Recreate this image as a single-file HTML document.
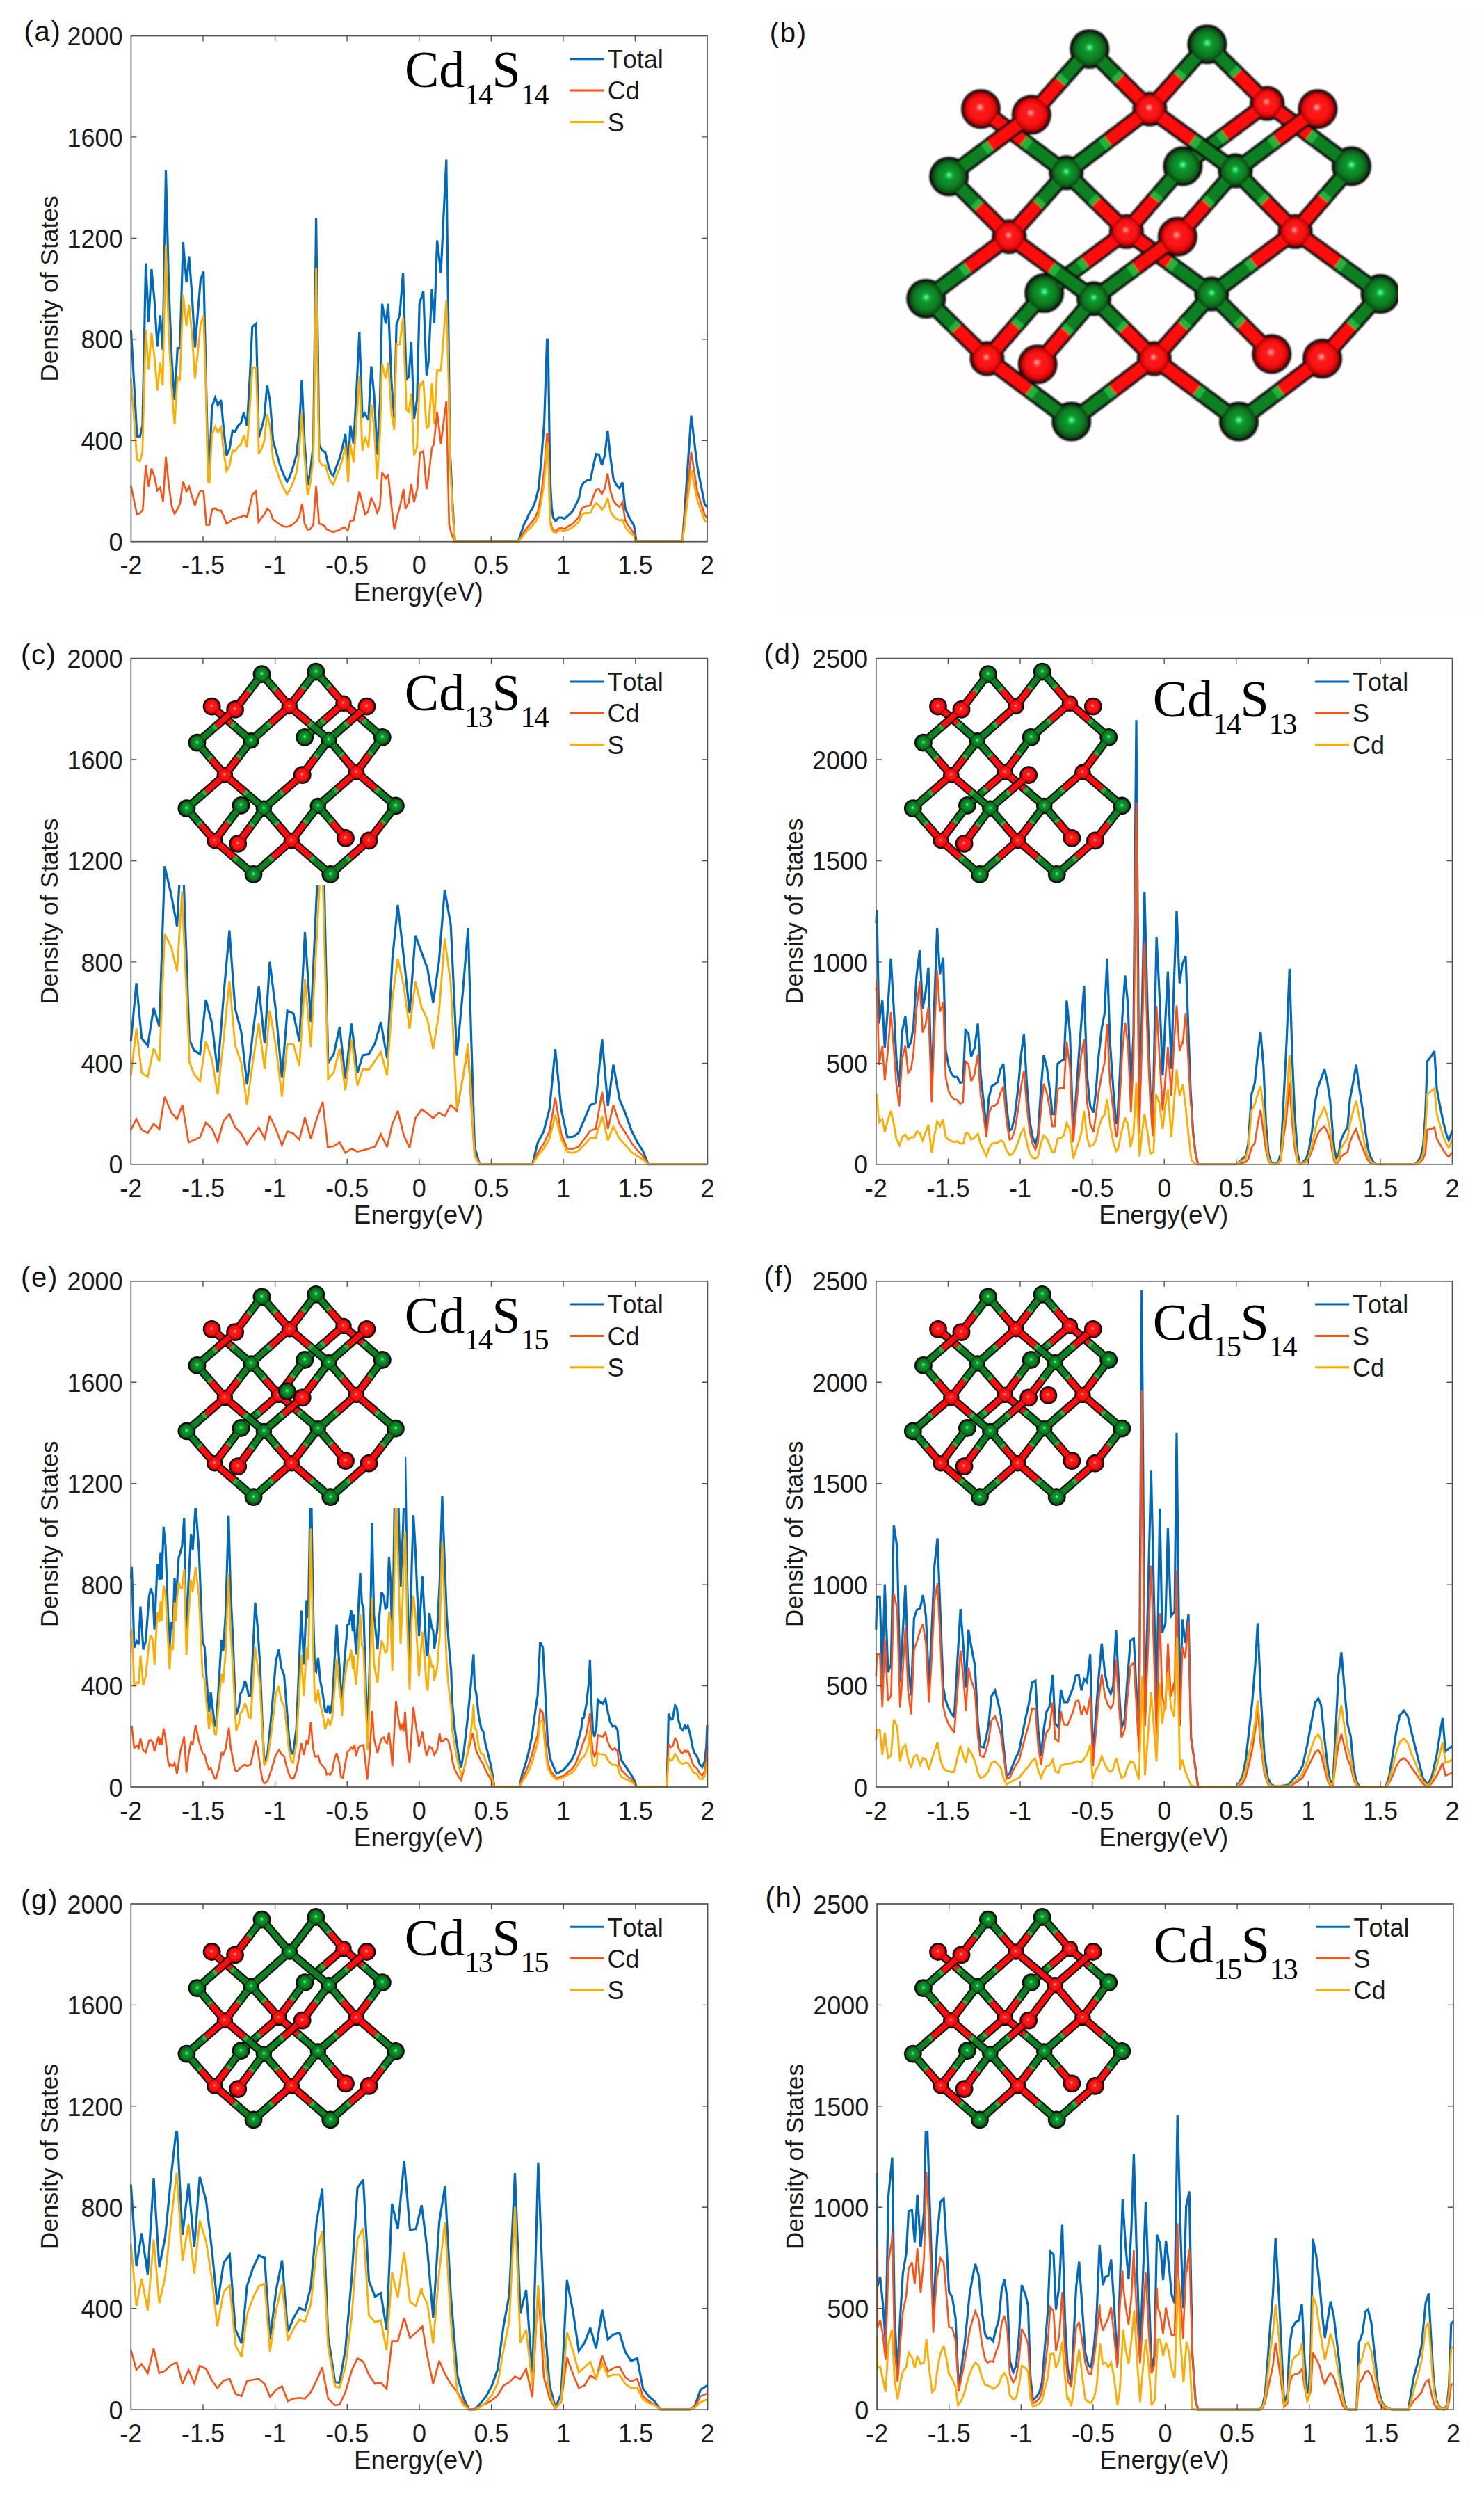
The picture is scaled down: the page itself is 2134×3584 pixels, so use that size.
<!DOCTYPE html>
<html><head><meta charset="utf-8"><title>DOS figure</title><style>html,body{margin:0;padding:0;background:#fff}
svg{display:block}
.t{font-family:"Liberation Sans", Arial, sans-serif;font-size:36px;fill:#1a1a1a;font-kerning:none}
.pl{font-family:"Liberation Sans", Arial, sans-serif;font-size:40px;fill:#111;font-kerning:none;letter-spacing:1.7px}
.xl{font-family:"Liberation Sans", Arial, sans-serif;font-size:36.8px;fill:#1a1a1a;font-kerning:none}
.yl{font-family:"Liberation Sans", Arial, sans-serif;font-size:35.4px;fill:#1a1a1a;font-kerning:none}
.ti{font-family:"Liberation Serif", "Times New Roman", serif;font-size:74px;fill:#000;font-kerning:none}
.sub{font-size:42.5px;letter-spacing:-1.6px}
</style></head><body>
<svg width="2134" height="3584" viewBox="0 0 2134 3584">
<rect width="2134" height="3584" fill="#fff"/>
<rect x="1122" y="19" width="1012" height="862" fill="#fffdfd"/>
<defs>
<radialGradient id="gr" cx="0.5" cy="0.5" r="0.5" fx="0.47" fy="0.44">
<stop offset="0" stop-color="#ffe0e0"/><stop offset="0.1" stop-color="#ff7070"/><stop offset="0.24" stop-color="#ff1c1c"/><stop offset="0.72" stop-color="#f51010"/><stop offset="1" stop-color="#a80000"/>
</radialGradient>
<radialGradient id="gg" cx="0.5" cy="0.5" r="0.5" fx="0.5" fy="0.45">
<stop offset="0" stop-color="#8affc0"/><stop offset="0.1" stop-color="#24ea6c"/><stop offset="0.26" stop-color="#129a30"/><stop offset="0.7" stop-color="#0e7c22"/><stop offset="1" stop-color="#064212"/>
</radialGradient>
<filter id="bl1" x="-5%" y="-5%" width="110%" height="110%"><feGaussianBlur stdDeviation="0.55"/></filter><filter id="bl2" x="-5%" y="-5%" width="110%" height="110%"><feGaussianBlur stdDeviation="1.0"/></filter>
</defs>
<clipPath id="cpa"><rect x="186.4" y="51.5" width="832.6" height="729.2"/></clipPath>
<g clip-path="url(#cpa)">
<path d="M188.4 474.6 L193.0 555.1 L197.0 627.3 L201.3 627.3 L204.9 611.9 L209.6 378.7 L213.6 462.8 L217.9 387.0 L222.1 432.0 L226.2 498.3 L230.4 453.3 L234.0 503.0 L238.5 245.0 L242.7 413.1 L247.0 517.2 L251.0 575.2 L255.3 500.7 L258.6 500.7 L263.3 348.0 L268.1 406.0 L271.9 368.6 L276.1 424.9 L280.4 499.5 L284.4 450.9 L288.4 402.4 L292.7 390.6 L296.0 531.4 L299.1 671.1 L301.2 672.3 L304.8 584.7 L309.5 571.7 L313.3 582.3 L317.8 575.2 L321.6 616.7 L325.8 654.5 L330.1 645.1 L334.4 619.0 L338.1 620.2 L342.4 611.9 L346.4 608.4 L350.7 593.0 L355.2 611.9 L359.2 543.3 L362.8 469.9 L368.2 465.2 L372.2 628.5 L376.5 614.3 L380.0 600.1 L384.1 553.9 L388.3 576.4 L392.6 633.2 L396.6 647.4 L402.5 668.8 L408.5 684.1 L412.7 692.4 L416.7 685.3 L421.5 671.1 L426.2 654.5 L429.8 623.8 L434.0 546.8 L438.0 635.6 L442.3 697.2 L446.3 678.2 L450.6 638.0 L454.6 313.6 L458.9 639.2 L462.9 647.4 L467.6 649.8 L468.3 652.2 L472.3 669.9 L476.1 680.6 L479.4 684.1 L483.7 671.1 L487.9 660.5 L492.0 645.1 L496.7 623.8 L500.7 678.2 L503.8 611.9 L508.5 638.0 L512.6 562.2 L516.8 477.0 L521.1 600.1 L524.4 594.2 L529.8 603.6 L533.9 526.7 L538.1 569.3 L542.4 653.4 L546.4 578.8 L549.5 436.7 L554.7 465.2 L558.2 436.7 L563.0 550.4 L567.0 602.5 L570.1 467.5 L574.8 452.1 L579.6 392.2 L584.3 545.6 L587.8 542.1 L591.4 491.2 L595.4 602.5 L599.7 574.1 L603.2 436.7 L608.7 419.0 L613.4 539.7 L616.2 519.6 L621.0 415.9 L624.5 464.0 L628.6 345.6 L634.0 392.2 L641.8 229.6 L647.0 645.1 L650.6 720.8 L654.1 778.7 L745.2 778.7 L749.5 765.8 L753.5 754.0 L757.8 745.7 L761.8 736.2 L766.0 730.3 L770.1 719.6 L774.3 703.1 L778.4 661.6 L782.6 607.2 L786.6 488.4 L788.1 488.4 L790.9 685.3 L793.3 730.3 L795.6 744.5 L799.2 749.2 L803.2 744.0 L807.5 744.0 L811.7 745.7 L815.8 742.1 L819.8 738.6 L824.0 733.9 L828.1 725.6 L832.3 717.3 L835.9 699.5 L839.4 693.6 L844.2 690.5 L848.9 690.5 L853.2 669.9 L857.2 652.7 L861.2 653.4 L865.5 668.8 L869.7 654.5 L873.8 619.0 L878.0 659.3 L882.0 687.7 L886.3 697.2 L890.8 701.9 L895.1 693.6 L899.1 730.3 L903.4 741.0 L907.6 748.8 L911.6 755.2 L915.2 778.7 L981.5 778.7 L994.0 597.7 L1002.8 671.1 L1013.4 725.1 L1017.0 729.1" fill="none" stroke="#0068bd" stroke-width="3.20" stroke-linejoin="miter" stroke-miterlimit="3" stroke-linecap="butt"/>
<path d="M188.4 698.3 L193.0 720.8 L197.0 739.3 L201.3 737.9 L205.3 732.7 L209.6 669.2 L213.6 699.5 L217.9 673.5 L222.1 685.3 L226.2 705.4 L230.4 700.7 L234.5 720.8 L238.5 656.9 L242.7 697.2 L247.0 727.9 L251.0 738.6 L255.3 731.5 L258.8 724.4 L263.3 692.4 L268.1 706.6 L271.9 699.5 L276.1 713.7 L280.4 726.8 L284.4 713.7 L288.4 705.4 L292.7 706.6 L296.7 754.5 L301.2 754.5 L304.8 732.7 L309.5 730.8 L313.3 733.9 L317.8 733.9 L321.6 742.1 L325.8 752.8 L330.1 750.4 L334.4 746.4 L338.1 745.7 L342.4 744.0 L346.4 743.3 L350.7 741.0 L355.2 742.9 L359.2 727.9 L362.8 711.4 L368.2 706.2 L371.8 750.4 L376.0 744.5 L380.0 739.8 L384.1 731.5 L388.3 734.6 L392.6 746.9 L396.6 749.7 L402.5 754.0 L408.5 757.1 L412.7 757.5 L416.7 756.3 L421.5 753.5 L426.2 749.2 L430.5 742.1 L434.5 724.4 L438.0 752.8 L442.3 761.6 L446.3 760.6 L450.6 754.0 L454.6 698.3 L458.9 752.8 L462.9 754.0 L467.6 756.8 L468.3 759.9 L472.3 762.3 L476.1 763.9 L479.4 764.6 L483.7 763.4 L487.9 762.3 L492.0 759.2 L496.0 758.2 L500.2 763.0 L503.8 748.8 L508.5 748.1 L512.6 727.9 L516.8 706.6 L521.1 723.2 L525.1 739.3 L529.1 735.5 L533.9 716.1 L538.1 724.4 L542.4 737.4 L546.4 727.9 L549.5 679.4 L554.7 687.7 L558.2 681.8 L563.0 727.9 L567.0 761.1 L571.3 742.1 L575.5 726.8 L580.3 703.1 L583.1 731.5 L587.8 722.0 L591.4 696.0 L595.4 722.0 L600.2 701.9 L603.9 651.0 L608.7 648.6 L613.4 703.1 L616.2 685.3 L621.0 643.9 L623.8 639.2 L628.6 591.8 L634.0 638.0 L641.8 576.4 L645.8 754.0 L649.4 768.2 L654.1 778.7 L745.2 778.7 L749.5 771.7 L753.5 764.6 L757.8 758.7 L761.8 754.0 L766.0 749.2 L770.1 743.3 L774.3 732.7 L778.4 709.0 L782.6 675.9 L786.6 623.8 L788.1 623.8 L790.9 744.5 L793.3 757.5 L795.6 762.3 L799.2 763.9 L803.2 759.9 L807.5 759.2 L811.7 760.6 L815.8 757.5 L819.8 755.2 L824.0 752.8 L828.1 748.1 L832.3 743.3 L835.9 732.7 L839.4 729.1 L844.2 727.5 L848.9 726.8 L853.2 713.7 L857.2 704.3 L861.2 703.1 L865.5 710.2 L869.7 701.9 L873.8 680.6 L878.0 706.6 L882.0 719.6 L886.3 725.6 L890.8 729.1 L895.1 722.0 L899.1 748.1 L903.4 755.2 L907.6 761.1 L911.6 767.0 L915.2 778.7 L981.5 778.7 L994.0 649.8 L1002.8 706.6 L1013.4 740.0 L1017.0 745.0" fill="none" stroke="#ff5014" stroke-width="2.60" stroke-linejoin="miter" stroke-miterlimit="3" stroke-linecap="butt"/>
<path d="M188.4 544.5 L193.0 605.2 L197.0 661.0 L201.3 662.8 L204.9 649.4 L205.3 630.2 L209.6 474.1 L213.6 531.4 L217.9 478.7 L222.1 512.9 L226.2 561.7 L230.4 521.4 L234.0 554.0 L234.5 524.1 L238.5 351.7 L242.7 482.9 L247.0 561.4 L251.0 609.9 L255.3 541.8 L258.6 547.5 L258.8 541.4 L263.3 423.9 L268.1 468.4 L271.9 437.9 L276.1 481.2 L280.4 544.5 L284.4 507.5 L288.4 466.4 L292.7 453.6 L296.0 559.8 L296.7 584.3 L299.1 692.2 L301.2 693.4 L304.8 624.7 L309.5 613.4 L313.3 621.3 L317.8 614.4 L321.6 648.7 L325.8 676.9 L330.1 669.6 L334.4 647.2 L338.1 648.9 L342.4 642.1 L346.4 639.2 L350.7 625.9 L355.2 643.0 L359.2 587.6 L362.8 528.5 L368.2 528.3 L371.8 635.5 L372.2 652.2 L376.0 645.7 L376.5 644.5 L380.0 634.1 L384.1 595.1 L388.3 614.7 L392.6 660.9 L396.6 672.6 L402.5 690.1 L408.5 703.0 L412.7 710.8 L416.7 704.8 L421.5 693.0 L426.2 680.2 L429.8 653.9 L430.5 642.4 L434.0 592.6 L434.5 604.6 L438.0 657.4 L442.3 711.9 L446.3 694.1 L450.6 659.2 L454.6 385.0 L458.9 661.7 L462.9 668.9 L467.6 668.8 L468.3 668.6 L472.3 684.2 L476.1 693.4 L479.4 696.4 L483.7 684.3 L487.9 674.8 L492.0 661.9 L496.0 644.7 L496.7 640.9 L500.2 684.9 L500.7 693.2 L503.8 638.0 L508.5 664.5 L512.6 605.7 L516.8 540.0 L521.1 648.3 L524.4 630.9 L525.1 629.7 L529.1 639.9 L529.8 643.5 L533.9 581.5 L538.1 616.4 L542.4 689.1 L546.4 623.1 L549.5 523.2 L554.7 544.3 L558.2 521.4 L563.0 594.6 L567.0 617.7 L570.1 494.8 L571.3 495.5 L574.8 495.1 L575.5 488.6 L579.6 456.6 L580.3 481.9 L583.1 548.2 L584.3 588.8 L587.8 592.1 L591.4 565.9 L595.4 654.3 L599.7 643.7 L600.2 626.9 L603.2 550.7 L603.9 556.8 L608.7 547.4 L613.4 615.2 L616.2 613.0 L621.0 550.9 L623.8 593.5 L624.5 609.8 L628.6 532.5 L634.0 533.0 L641.8 432.1 L645.8 573.8 L647.0 663.1 L649.4 706.2 L650.6 729.0 L654.1 778.3 L745.2 778.7 L749.5 774.1 L753.5 768.2 L757.8 763.4 L761.8 759.2 L766.0 755.2 L770.1 750.4 L774.3 742.1 L778.4 720.8 L782.6 692.4 L786.6 638.0 L788.1 638.0 L790.9 751.6 L793.3 761.1 L795.6 764.6 L799.2 765.8 L803.2 763.0 L807.5 763.0 L811.7 763.9 L815.8 762.3 L819.8 759.9 L824.0 757.5 L828.1 754.0 L832.3 750.4 L835.9 742.1 L839.4 737.9 L844.2 737.4 L848.9 737.4 L853.2 729.1 L857.2 723.2 L861.2 726.8 L865.5 732.7 L869.7 727.9 L873.8 716.1 L878.0 735.0 L882.0 742.1 L886.3 745.7 L890.8 748.1 L895.1 747.3 L899.1 757.5 L903.4 763.4 L907.6 767.0 L911.6 770.5 L915.2 778.7 L981.5 778.7 L994.0 675.9 L1002.8 719.2 L1013.4 748.8 L1017.0 750.2" fill="none" stroke="#ffac00" stroke-width="2.80" stroke-linejoin="miter" stroke-miterlimit="3" stroke-linecap="butt"/>
</g>
<rect x="188.4" y="51.5" width="828.6" height="727.2" fill="none" stroke="#505050" stroke-width="1.7"/>
<text x="188.4" y="825.4" text-anchor="middle" class="t">-2</text>
<path d="M292.0 778.7 v-8.0 M292.0 51.5 v8.0" stroke="#505050" stroke-width="1.4"/>
<text x="292.0" y="825.4" text-anchor="middle" class="t">-1.5</text>
<path d="M395.6 778.7 v-8.0 M395.6 51.5 v8.0" stroke="#505050" stroke-width="1.4"/>
<text x="395.6" y="825.4" text-anchor="middle" class="t">-1</text>
<path d="M499.1 778.7 v-8.0 M499.1 51.5 v8.0" stroke="#505050" stroke-width="1.4"/>
<text x="499.1" y="825.4" text-anchor="middle" class="t">-0.5</text>
<path d="M602.7 778.7 v-8.0 M602.7 51.5 v8.0" stroke="#505050" stroke-width="1.4"/>
<text x="602.7" y="825.4" text-anchor="middle" class="t">0</text>
<path d="M706.3 778.7 v-8.0 M706.3 51.5 v8.0" stroke="#505050" stroke-width="1.4"/>
<text x="706.3" y="825.4" text-anchor="middle" class="t">0.5</text>
<path d="M809.9 778.7 v-8.0 M809.9 51.5 v8.0" stroke="#505050" stroke-width="1.4"/>
<text x="809.9" y="825.4" text-anchor="middle" class="t">1</text>
<path d="M913.4 778.7 v-8.0 M913.4 51.5 v8.0" stroke="#505050" stroke-width="1.4"/>
<text x="913.4" y="825.4" text-anchor="middle" class="t">1.5</text>
<text x="1017.0" y="825.4" text-anchor="middle" class="t">2</text>
<text x="176.6" y="792.3" text-anchor="end" class="t">0</text>
<path d="M188.4 633.3 h8.0 M1017.0 633.3 h-8.0" stroke="#505050" stroke-width="1.4"/>
<text x="176.6" y="646.9" text-anchor="end" class="t">400</text>
<path d="M188.4 487.8 h8.0 M1017.0 487.8 h-8.0" stroke="#505050" stroke-width="1.4"/>
<text x="176.6" y="501.4" text-anchor="end" class="t">800</text>
<path d="M188.4 342.4 h8.0 M1017.0 342.4 h-8.0" stroke="#505050" stroke-width="1.4"/>
<text x="176.6" y="356.0" text-anchor="end" class="t">1200</text>
<path d="M188.4 196.9 h8.0 M1017.0 196.9 h-8.0" stroke="#505050" stroke-width="1.4"/>
<text x="176.6" y="210.5" text-anchor="end" class="t">1600</text>
<text x="176.6" y="65.1" text-anchor="end" class="t">2000</text>
<text x="601.7" y="863.5" text-anchor="middle" class="xl">Energy(eV)</text>
<text transform="translate(82.7 415.1) rotate(-90)" text-anchor="middle" class="yl">Density of States</text>
<text x="34.5" y="59.4" class="pl">(a)</text>
<text x="581.9" y="125.4" class="ti">Cd<tspan class="sub" dy="24.2">14</tspan><tspan dy="-24.2">S</tspan><tspan class="sub" dy="24.2">14</tspan></text>
<path d="M819.7 84.8 h49" stroke="#0068bd" stroke-width="3"/>
<text x="873.7" y="98.0" class="t">Total</text>
<path d="M819.7 130.1 h49" stroke="#ff5014" stroke-width="3"/>
<text x="873.7" y="143.3" class="t">Cd</text>
<path d="M819.7 175.4 h49" stroke="#ffac00" stroke-width="3"/>
<text x="873.7" y="188.6" class="t">S</text>
<clipPath id="cpc"><rect x="186.3" y="946.6" width="833.1" height="729.2"/></clipPath>
<g clip-path="url(#cpc)">
<path d="M188.3 1496.3 L196.1 1413.4 L203.7 1492.3 L212.4 1503.4 L221.0 1448.9 L229.2 1475.7 L236.8 1245.3 L246.3 1286.8 L254.6 1331.7 L261.7 1197.3 L272.3 1495.1 L279.4 1510.5 L287.7 1515.2 L296.0 1437.1 L304.8 1471.4 L313.0 1541.3 L321.6 1431.2 L329.9 1337.7 L338.1 1450.1 L346.9 1483.3 L355.2 1559.0 L363.5 1485.6 L372.2 1418.2 L380.5 1499.8 L387.9 1382.6 L396.6 1452.5 L405.4 1549.5 L413.2 1453.0 L422.0 1457.2 L430.5 1497.5 L438.5 1340.0 L447.0 1469.1 L462.9 1118.7 L471.8 1528.2 L480.1 1515.2 L488.4 1476.2 L496.7 1550.7 L505.5 1471.4 L514.0 1542.4 L521.6 1516.9 L530.5 1515.2 L539.3 1499.8 L547.6 1469.1 L556.6 1521.1 L564.2 1379.1 L572.0 1301.0 L580.7 1376.7 L589.0 1456.0 L597.3 1344.8 L606.3 1369.6 L614.6 1392.1 L622.9 1441.8 L631.2 1382.6 L639.5 1279.7 L648.2 1329.4 L657.0 1517.6 L665.5 1426.4 L673.1 1334.1 L677.8 1497.5 L682.5 1649.0 L689.6 1673.6 L765.6 1673.6 L773.1 1643.1 L781.9 1626.5 L790.2 1594.5 L798.5 1508.1 L807.0 1594.5 L815.8 1634.8 L824.0 1634.3 L831.9 1628.9 L840.6 1608.7 L848.9 1588.6 L856.7 1585.1 L865.9 1493.9 L874.2 1589.8 L882.0 1530.6 L890.8 1580.3 L899.8 1601.6 L908.1 1625.3 L916.4 1641.9 L924.7 1654.9 L932.2 1673.6 L1017.0 1673.6" fill="none" stroke="#0068bd" stroke-width="3.20" stroke-linejoin="miter" stroke-miterlimit="3" stroke-linecap="butt"/>
<path d="M188.3 1624.1 L196.1 1608.7 L203.7 1624.1 L212.4 1628.9 L221.0 1615.8 L229.2 1623.4 L236.8 1576.8 L246.3 1599.3 L254.6 1608.7 L262.4 1588.6 L271.1 1641.9 L279.4 1639.0 L287.7 1634.8 L296.0 1613.9 L304.8 1622.5 L313.0 1641.4 L321.6 1611.1 L329.9 1601.6 L338.1 1620.6 L346.9 1629.6 L355.2 1644.7 L363.5 1632.4 L372.2 1621.0 L380.5 1636.7 L387.9 1604.0 L396.6 1622.9 L405.4 1646.6 L413.2 1626.5 L422.0 1629.6 L430.5 1638.3 L438.5 1606.4 L447.0 1637.1 L454.6 1611.1 L464.1 1583.9 L471.4 1649.0 L480.1 1647.8 L488.4 1642.3 L496.7 1657.3 L505.5 1651.3 L514.0 1655.6 L521.6 1653.7 L530.5 1651.3 L539.3 1648.5 L547.6 1630.5 L556.6 1649.0 L564.2 1615.8 L572.0 1596.9 L580.7 1632.4 L589.0 1650.2 L597.3 1607.5 L606.3 1595.0 L614.6 1600.4 L622.9 1607.5 L631.2 1599.3 L639.5 1604.5 L648.2 1588.6 L657.0 1596.9 L665.5 1549.5 L673.1 1508.1 L677.8 1592.2 L682.5 1660.8 L689.6 1673.6 L765.6 1673.6 L773.1 1657.3 L781.9 1644.2 L790.2 1626.5 L798.5 1578.0 L807.0 1630.0 L815.8 1651.3 L824.0 1651.8 L831.9 1648.5 L840.6 1637.1 L848.9 1625.3 L856.7 1622.9 L865.9 1569.7 L874.2 1622.9 L882.0 1588.6 L890.8 1615.8 L899.8 1628.9 L908.1 1643.1 L916.4 1653.7 L924.7 1662.0 L932.2 1673.6 L1017.0 1673.6" fill="none" stroke="#ff5014" stroke-width="2.60" stroke-linejoin="miter" stroke-miterlimit="3" stroke-linecap="butt"/>
<path d="M188.3 1546.0 L196.1 1478.5 L203.7 1542.0 L212.4 1548.3 L221.0 1507.0 L229.2 1526.0 L236.8 1342.8 L246.3 1361.4 L254.6 1396.4 L261.7 1281.4 L262.4 1302.6 L271.1 1492.9 L272.3 1526.6 L279.4 1545.2 L287.7 1554.2 L296.0 1497.0 L304.8 1523.0 L313.0 1573.4 L321.6 1493.6 L329.9 1410.3 L338.1 1502.8 L346.9 1527.5 L355.2 1588.0 L363.5 1526.9 L372.2 1471.1 L380.5 1536.8 L387.9 1452.7 L396.6 1503.2 L405.4 1576.5 L413.2 1500.3 L422.0 1501.6 L430.5 1532.5 L438.5 1407.8 L447.0 1505.2 L454.6 1364.8 L462.9 1205.3 L464.1 1263.2 L471.4 1533.0 L471.8 1551.4 L480.1 1541.3 L488.4 1507.6 L496.7 1567.2 L505.5 1494.2 L514.0 1560.6 L521.6 1537.0 L530.5 1537.7 L539.3 1525.1 L547.6 1512.4 L556.6 1545.8 L564.2 1436.8 L572.0 1378.0 L580.7 1417.9 L589.0 1479.5 L597.3 1411.1 L606.3 1448.4 L614.6 1465.5 L622.9 1508.0 L631.2 1456.7 L639.5 1349.4 L648.2 1414.5 L657.0 1594.3 L665.5 1550.6 L673.1 1500.3 L677.8 1579.1 L682.5 1661.3 L689.6 1673.7 L765.6 1673.6 L773.1 1662.0 L781.9 1651.3 L790.2 1637.1 L798.5 1602.8 L807.0 1637.1 L815.8 1656.1 L824.0 1657.3 L831.9 1654.2 L840.6 1645.4 L848.9 1636.0 L856.7 1636.0 L865.9 1604.0 L874.2 1639.5 L882.0 1619.4 L890.8 1637.1 L899.8 1646.6 L908.1 1656.1 L916.4 1662.0 L924.7 1666.7 L932.2 1673.6 L1017.0 1673.6" fill="none" stroke="#ffac00" stroke-width="2.80" stroke-linejoin="miter" stroke-miterlimit="3" stroke-linecap="butt"/>
</g>
<rect x="188.3" y="946.6" width="829.1" height="727.2" fill="none" stroke="#505050" stroke-width="1.7"/>
<text x="188.3" y="1720.5" text-anchor="middle" class="t">-2</text>
<path d="M291.9 1673.8 v-8.0 M291.9 946.6 v8.0" stroke="#505050" stroke-width="1.4"/>
<text x="291.9" y="1720.5" text-anchor="middle" class="t">-1.5</text>
<path d="M395.6 1673.8 v-8.0 M395.6 946.6 v8.0" stroke="#505050" stroke-width="1.4"/>
<text x="395.6" y="1720.5" text-anchor="middle" class="t">-1</text>
<path d="M499.2 1673.8 v-8.0 M499.2 946.6 v8.0" stroke="#505050" stroke-width="1.4"/>
<text x="499.2" y="1720.5" text-anchor="middle" class="t">-0.5</text>
<path d="M602.8 1673.8 v-8.0 M602.8 946.6 v8.0" stroke="#505050" stroke-width="1.4"/>
<text x="602.8" y="1720.5" text-anchor="middle" class="t">0</text>
<path d="M706.5 1673.8 v-8.0 M706.5 946.6 v8.0" stroke="#505050" stroke-width="1.4"/>
<text x="706.5" y="1720.5" text-anchor="middle" class="t">0.5</text>
<path d="M810.1 1673.8 v-8.0 M810.1 946.6 v8.0" stroke="#505050" stroke-width="1.4"/>
<text x="810.1" y="1720.5" text-anchor="middle" class="t">1</text>
<path d="M913.8 1673.8 v-8.0 M913.8 946.6 v8.0" stroke="#505050" stroke-width="1.4"/>
<text x="913.8" y="1720.5" text-anchor="middle" class="t">1.5</text>
<text x="1017.4" y="1720.5" text-anchor="middle" class="t">2</text>
<text x="176.5" y="1687.4" text-anchor="end" class="t">0</text>
<path d="M188.3 1528.4 h8.0 M1017.4 1528.4 h-8.0" stroke="#505050" stroke-width="1.4"/>
<text x="176.5" y="1542.0" text-anchor="end" class="t">400</text>
<path d="M188.3 1382.9 h8.0 M1017.4 1382.9 h-8.0" stroke="#505050" stroke-width="1.4"/>
<text x="176.5" y="1396.5" text-anchor="end" class="t">800</text>
<path d="M188.3 1237.5 h8.0 M1017.4 1237.5 h-8.0" stroke="#505050" stroke-width="1.4"/>
<text x="176.5" y="1251.1" text-anchor="end" class="t">1200</text>
<path d="M188.3 1092.0 h8.0 M1017.4 1092.0 h-8.0" stroke="#505050" stroke-width="1.4"/>
<text x="176.5" y="1105.6" text-anchor="end" class="t">1600</text>
<text x="176.5" y="960.2" text-anchor="end" class="t">2000</text>
<text x="601.9" y="1758.6" text-anchor="middle" class="xl">Energy(eV)</text>
<text transform="translate(82.6 1310.2) rotate(-90)" text-anchor="middle" class="yl">Density of States</text>
<text x="30.1" y="954.5" class="pl">(c)</text>
<text x="581.8" y="1020.5" class="ti">Cd<tspan class="sub" dy="24.2">13</tspan><tspan dy="-24.2">S</tspan><tspan class="sub" dy="24.2">14</tspan></text>
<path d="M819.6 979.9 h49" stroke="#0068bd" stroke-width="3"/>
<text x="873.6" y="993.1" class="t">Total</text>
<path d="M819.6 1025.2 h49" stroke="#ff5014" stroke-width="3"/>
<text x="873.6" y="1038.4" class="t">Cd</text>
<path d="M819.6 1070.5 h49" stroke="#ffac00" stroke-width="3"/>
<text x="873.6" y="1083.7" class="t">S</text>
<rect x="248.4" y="955.6" width="333.8" height="317.2" fill="#fff"/>
<g stroke-linecap="butt" filter="url(#bl1)">
<circle cx="361.0" cy="1064.8" r="11.7" fill="#0b0b0b"/>
<circle cx="438.2" cy="1059.8" r="12.9" fill="#0b0b0b"/>
<circle cx="549.8" cy="1059.8" r="12.9" fill="#0b0b0b"/>
<circle cx="304.6" cy="1015.6" r="12.9" fill="#0b0b0b"/>
<circle cx="494.0" cy="1011.2" r="11.7" fill="#0b0b0b"/>
<path d="M304.6 1015.6 L361.0 1064.8" stroke="#0b0b0b" stroke-width="12.2"/>
<path d="M304.6 1015.6 L332.8 1040.2" stroke="#ff1010" stroke-width="7.8"/>
<path d="M361.0 1064.8 L332.8 1040.2" stroke="#0e8020" stroke-width="7.8"/>
<path d="M336.8 1043.7 L332.8 1040.2" stroke="#22b23c" stroke-width="7.8"/>
<path d="M494.0 1011.2 L438.2 1059.8" stroke="#0b0b0b" stroke-width="12.2"/>
<path d="M494.0 1011.2 L466.1 1035.5" stroke="#ff1010" stroke-width="7.8"/>
<path d="M438.2 1059.8 L466.1 1035.5" stroke="#0e8020" stroke-width="7.8"/>
<path d="M462.2 1038.9 L466.1 1035.5" stroke="#22b23c" stroke-width="7.8"/>
<path d="M494.0 1011.2 L549.8 1059.8" stroke="#0b0b0b" stroke-width="12.2"/>
<path d="M494.0 1011.2 L521.9 1035.5" stroke="#ff1010" stroke-width="7.8"/>
<path d="M549.8 1059.8 L521.9 1035.5" stroke="#0e8020" stroke-width="7.8"/>
<path d="M525.8 1038.9 L521.9 1035.5" stroke="#22b23c" stroke-width="7.8"/>
<circle cx="376.5" cy="969.2" r="12.9" fill="#0b0b0b"/>
<circle cx="454.3" cy="965.6" r="12.9" fill="#0b0b0b"/>
<circle cx="283.5" cy="1067.7" r="12.9" fill="#0b0b0b"/>
<circle cx="472.9" cy="1063.4" r="11.7" fill="#0b0b0b"/>
<circle cx="268.4" cy="1162.2" r="12.9" fill="#0b0b0b"/>
<circle cx="346.5" cy="1157.8" r="12.9" fill="#0b0b0b"/>
<circle cx="379.4" cy="1162.2" r="11.7" fill="#0b0b0b"/>
<circle cx="457.3" cy="1158.5" r="11.7" fill="#0b0b0b"/>
<circle cx="568.9" cy="1158.5" r="12.9" fill="#0b0b0b"/>
<circle cx="364.5" cy="1257.0" r="12.9" fill="#0b0b0b"/>
<circle cx="475.3" cy="1257.0" r="12.9" fill="#0b0b0b"/>
<circle cx="338.1" cy="1019.9" r="12.9" fill="#0b0b0b"/>
<circle cx="416.3" cy="1015.6" r="11.7" fill="#0b0b0b"/>
<circle cx="527.4" cy="1015.6" r="12.9" fill="#0b0b0b"/>
<circle cx="323.4" cy="1114.2" r="11.7" fill="#0b0b0b"/>
<circle cx="434.7" cy="1114.2" r="12.9" fill="#0b0b0b"/>
<circle cx="512.5" cy="1110.2" r="11.7" fill="#0b0b0b"/>
<circle cx="308.7" cy="1208.5" r="11.7" fill="#0b0b0b"/>
<circle cx="342.2" cy="1212.9" r="12.9" fill="#0b0b0b"/>
<circle cx="419.3" cy="1208.5" r="11.7" fill="#0b0b0b"/>
<circle cx="497.0" cy="1204.9" r="12.9" fill="#0b0b0b"/>
<circle cx="530.5" cy="1208.5" r="12.9" fill="#0b0b0b"/>
<path d="M376.5 969.2 L338.1 1019.9" stroke="#0b0b0b" stroke-width="12.2"/>
<path d="M376.5 969.2 L357.3 994.6" stroke="#0e8020" stroke-width="7.8"/>
<path d="M360.0 991.0 L357.3 994.6" stroke="#22b23c" stroke-width="7.8"/>
<path d="M338.1 1019.9 L357.3 994.6" stroke="#ff1010" stroke-width="7.8"/>
<path d="M376.5 969.2 L416.3 1015.6" stroke="#0b0b0b" stroke-width="12.2"/>
<path d="M376.5 969.2 L396.4 992.4" stroke="#0e8020" stroke-width="7.8"/>
<path d="M393.6 989.1 L396.4 992.4" stroke="#22b23c" stroke-width="7.8"/>
<path d="M416.3 1015.6 L396.4 992.4" stroke="#ff1010" stroke-width="7.8"/>
<path d="M454.3 965.6 L416.3 1015.6" stroke="#0b0b0b" stroke-width="12.2"/>
<path d="M454.3 965.6 L435.3 990.6" stroke="#0e8020" stroke-width="7.8"/>
<path d="M438.0 987.1 L435.3 990.6" stroke="#22b23c" stroke-width="7.8"/>
<path d="M416.3 1015.6 L435.3 990.6" stroke="#ff1010" stroke-width="7.8"/>
<path d="M454.3 965.6 L494.0 1011.2" stroke="#0b0b0b" stroke-width="12.2"/>
<path d="M454.3 965.6 L474.1 988.4" stroke="#0e8020" stroke-width="7.8"/>
<path d="M471.4 985.2 L474.1 988.4" stroke="#22b23c" stroke-width="7.8"/>
<path d="M494.0 1011.2 L474.1 988.4" stroke="#ff1010" stroke-width="7.8"/>
<path d="M338.1 1019.9 L283.5 1067.7" stroke="#0b0b0b" stroke-width="12.2"/>
<path d="M338.1 1019.9 L310.8 1043.8" stroke="#ff1010" stroke-width="7.8"/>
<path d="M283.5 1067.7 L310.8 1043.8" stroke="#0e8020" stroke-width="7.8"/>
<path d="M307.0 1047.2 L310.8 1043.8" stroke="#22b23c" stroke-width="7.8"/>
<path d="M416.3 1015.6 L361.0 1064.8" stroke="#0b0b0b" stroke-width="12.2"/>
<path d="M416.3 1015.6 L388.7 1040.2" stroke="#ff1010" stroke-width="7.8"/>
<path d="M361.0 1064.8 L388.7 1040.2" stroke="#0e8020" stroke-width="7.8"/>
<path d="M384.8 1043.7 L388.7 1040.2" stroke="#22b23c" stroke-width="7.8"/>
<path d="M416.3 1015.6 L472.9 1063.4" stroke="#0b0b0b" stroke-width="12.2"/>
<path d="M416.3 1015.6 L444.6 1039.5" stroke="#ff1010" stroke-width="7.8"/>
<path d="M472.9 1063.4 L444.6 1039.5" stroke="#0e8020" stroke-width="7.8"/>
<path d="M448.6 1042.8 L444.6 1039.5" stroke="#22b23c" stroke-width="7.8"/>
<path d="M527.4 1015.6 L472.9 1063.4" stroke="#0b0b0b" stroke-width="12.2"/>
<path d="M527.4 1015.6 L500.1 1039.5" stroke="#ff1010" stroke-width="7.8"/>
<path d="M472.9 1063.4 L500.1 1039.5" stroke="#0e8020" stroke-width="7.8"/>
<path d="M496.3 1042.8 L500.1 1039.5" stroke="#22b23c" stroke-width="7.8"/>
<path d="M283.5 1067.7 L323.4 1114.2" stroke="#0b0b0b" stroke-width="12.2"/>
<path d="M283.5 1067.7 L303.5 1091.0" stroke="#0e8020" stroke-width="7.8"/>
<path d="M300.7 1087.7 L303.5 1091.0" stroke="#22b23c" stroke-width="7.8"/>
<path d="M323.4 1114.2 L303.5 1091.0" stroke="#ff1010" stroke-width="7.8"/>
<path d="M361.0 1064.8 L323.4 1114.2" stroke="#0b0b0b" stroke-width="12.2"/>
<path d="M361.0 1064.8 L342.2 1089.5" stroke="#0e8020" stroke-width="7.8"/>
<path d="M344.8 1086.1 L342.2 1089.5" stroke="#22b23c" stroke-width="7.8"/>
<path d="M323.4 1114.2 L342.2 1089.5" stroke="#ff1010" stroke-width="7.8"/>
<path d="M472.9 1063.4 L434.7 1114.2" stroke="#0b0b0b" stroke-width="12.2"/>
<path d="M472.9 1063.4 L453.8 1088.8" stroke="#0e8020" stroke-width="7.8"/>
<path d="M456.5 1085.2 L453.8 1088.8" stroke="#22b23c" stroke-width="7.8"/>
<path d="M434.7 1114.2 L453.8 1088.8" stroke="#ff1010" stroke-width="7.8"/>
<path d="M472.9 1063.4 L512.5 1110.2" stroke="#0b0b0b" stroke-width="12.2"/>
<path d="M472.9 1063.4 L492.7 1086.8" stroke="#0e8020" stroke-width="7.8"/>
<path d="M489.9 1083.5 L492.7 1086.8" stroke="#22b23c" stroke-width="7.8"/>
<path d="M512.5 1110.2 L492.7 1086.8" stroke="#ff1010" stroke-width="7.8"/>
<path d="M549.8 1059.8 L512.5 1110.2" stroke="#0b0b0b" stroke-width="12.2"/>
<path d="M549.8 1059.8 L531.2 1085.0" stroke="#0e8020" stroke-width="7.8"/>
<path d="M533.8 1081.5 L531.2 1085.0" stroke="#22b23c" stroke-width="7.8"/>
<path d="M512.5 1110.2 L531.2 1085.0" stroke="#ff1010" stroke-width="7.8"/>
<path d="M323.4 1114.2 L268.4 1162.2" stroke="#0b0b0b" stroke-width="12.2"/>
<path d="M323.4 1114.2 L295.9 1138.2" stroke="#ff1010" stroke-width="7.8"/>
<path d="M268.4 1162.2 L295.9 1138.2" stroke="#0e8020" stroke-width="7.8"/>
<path d="M292.0 1141.5 L295.9 1138.2" stroke="#22b23c" stroke-width="7.8"/>
<path d="M323.4 1114.2 L379.4 1162.2" stroke="#0b0b0b" stroke-width="12.2"/>
<path d="M323.4 1114.2 L351.4 1138.2" stroke="#ff1010" stroke-width="7.8"/>
<path d="M379.4 1162.2 L351.4 1138.2" stroke="#0e8020" stroke-width="7.8"/>
<path d="M355.3 1141.5 L351.4 1138.2" stroke="#22b23c" stroke-width="7.8"/>
<path d="M434.7 1114.2 L379.4 1162.2" stroke="#0b0b0b" stroke-width="12.2"/>
<path d="M434.7 1114.2 L407.0 1138.2" stroke="#ff1010" stroke-width="7.8"/>
<path d="M379.4 1162.2 L407.0 1138.2" stroke="#0e8020" stroke-width="7.8"/>
<path d="M403.2 1141.5 L407.0 1138.2" stroke="#22b23c" stroke-width="7.8"/>
<path d="M512.5 1110.2 L457.3 1158.5" stroke="#0b0b0b" stroke-width="12.2"/>
<path d="M512.5 1110.2 L484.9 1134.4" stroke="#ff1010" stroke-width="7.8"/>
<path d="M457.3 1158.5 L484.9 1134.4" stroke="#0e8020" stroke-width="7.8"/>
<path d="M481.0 1137.8 L484.9 1134.4" stroke="#22b23c" stroke-width="7.8"/>
<path d="M512.5 1110.2 L568.9 1158.5" stroke="#0b0b0b" stroke-width="12.2"/>
<path d="M512.5 1110.2 L540.7 1134.4" stroke="#ff1010" stroke-width="7.8"/>
<path d="M568.9 1158.5 L540.7 1134.4" stroke="#0e8020" stroke-width="7.8"/>
<path d="M544.6 1137.8 L540.7 1134.4" stroke="#22b23c" stroke-width="7.8"/>
<path d="M268.4 1162.2 L308.7 1208.5" stroke="#0b0b0b" stroke-width="12.2"/>
<path d="M268.4 1162.2 L288.5 1185.3" stroke="#0e8020" stroke-width="7.8"/>
<path d="M285.7 1182.1 L288.5 1185.3" stroke="#22b23c" stroke-width="7.8"/>
<path d="M308.7 1208.5 L288.5 1185.3" stroke="#ff1010" stroke-width="7.8"/>
<path d="M346.5 1157.8 L308.7 1208.5" stroke="#0b0b0b" stroke-width="12.2"/>
<path d="M346.5 1157.8 L327.6 1183.2" stroke="#0e8020" stroke-width="7.8"/>
<path d="M330.2 1179.6 L327.6 1183.2" stroke="#22b23c" stroke-width="7.8"/>
<path d="M308.7 1208.5 L327.6 1183.2" stroke="#ff1010" stroke-width="7.8"/>
<path d="M379.4 1162.2 L342.2 1212.9" stroke="#0b0b0b" stroke-width="12.2"/>
<path d="M379.4 1162.2 L360.8 1187.5" stroke="#0e8020" stroke-width="7.8"/>
<path d="M363.4 1184.0 L360.8 1187.5" stroke="#22b23c" stroke-width="7.8"/>
<path d="M342.2 1212.9 L360.8 1187.5" stroke="#ff1010" stroke-width="7.8"/>
<path d="M379.4 1162.2 L419.3 1208.5" stroke="#0b0b0b" stroke-width="12.2"/>
<path d="M379.4 1162.2 L399.3 1185.3" stroke="#0e8020" stroke-width="7.8"/>
<path d="M396.5 1182.1 L399.3 1185.3" stroke="#22b23c" stroke-width="7.8"/>
<path d="M419.3 1208.5 L399.3 1185.3" stroke="#ff1010" stroke-width="7.8"/>
<path d="M457.3 1158.5 L419.3 1208.5" stroke="#0b0b0b" stroke-width="12.2"/>
<path d="M457.3 1158.5 L438.3 1183.5" stroke="#0e8020" stroke-width="7.8"/>
<path d="M440.9 1180.0 L438.3 1183.5" stroke="#22b23c" stroke-width="7.8"/>
<path d="M419.3 1208.5 L438.3 1183.5" stroke="#ff1010" stroke-width="7.8"/>
<path d="M457.3 1158.5 L497.0 1204.9" stroke="#0b0b0b" stroke-width="12.2"/>
<path d="M457.3 1158.5 L477.1 1181.7" stroke="#0e8020" stroke-width="7.8"/>
<path d="M474.3 1178.5 L477.1 1181.7" stroke="#22b23c" stroke-width="7.8"/>
<path d="M497.0 1204.9 L477.1 1181.7" stroke="#ff1010" stroke-width="7.8"/>
<path d="M568.9 1158.5 L530.5 1208.5" stroke="#0b0b0b" stroke-width="12.2"/>
<path d="M568.9 1158.5 L549.7 1183.5" stroke="#0e8020" stroke-width="7.8"/>
<path d="M552.4 1180.0 L549.7 1183.5" stroke="#22b23c" stroke-width="7.8"/>
<path d="M530.5 1208.5 L549.7 1183.5" stroke="#ff1010" stroke-width="7.8"/>
<path d="M308.7 1208.5 L364.5 1257.0" stroke="#0b0b0b" stroke-width="12.2"/>
<path d="M308.7 1208.5 L336.6 1232.8" stroke="#ff1010" stroke-width="7.8"/>
<path d="M364.5 1257.0 L336.6 1232.8" stroke="#0e8020" stroke-width="7.8"/>
<path d="M340.5 1236.2 L336.6 1232.8" stroke="#22b23c" stroke-width="7.8"/>
<path d="M419.3 1208.5 L364.5 1257.0" stroke="#0b0b0b" stroke-width="12.2"/>
<path d="M419.3 1208.5 L391.9 1232.8" stroke="#ff1010" stroke-width="7.8"/>
<path d="M364.5 1257.0 L391.9 1232.8" stroke="#0e8020" stroke-width="7.8"/>
<path d="M388.1 1236.2 L391.9 1232.8" stroke="#22b23c" stroke-width="7.8"/>
<path d="M419.3 1208.5 L475.3 1257.0" stroke="#0b0b0b" stroke-width="12.2"/>
<path d="M419.3 1208.5 L447.3 1232.8" stroke="#ff1010" stroke-width="7.8"/>
<path d="M475.3 1257.0 L447.3 1232.8" stroke="#0e8020" stroke-width="7.8"/>
<path d="M451.2 1236.2 L447.3 1232.8" stroke="#22b23c" stroke-width="7.8"/>
<path d="M530.5 1208.5 L475.3 1257.0" stroke="#0b0b0b" stroke-width="12.2"/>
<path d="M530.5 1208.5 L502.9 1232.8" stroke="#ff1010" stroke-width="7.8"/>
<path d="M475.3 1257.0 L502.9 1232.8" stroke="#0e8020" stroke-width="7.8"/>
<path d="M499.0 1236.2 L502.9 1232.8" stroke="#22b23c" stroke-width="7.8"/>
<circle cx="361.0" cy="1064.8" r="9.5" fill="url(#gg)"/>
<circle cx="472.9" cy="1063.4" r="9.5" fill="url(#gg)"/>
<circle cx="379.4" cy="1162.2" r="9.5" fill="url(#gg)"/>
<circle cx="457.3" cy="1158.5" r="9.5" fill="url(#gg)"/>
<circle cx="416.3" cy="1015.6" r="9.5" fill="url(#gr)"/>
<circle cx="494.0" cy="1011.2" r="9.5" fill="url(#gr)"/>
<circle cx="323.4" cy="1114.2" r="9.5" fill="url(#gr)"/>
<circle cx="512.5" cy="1110.2" r="9.5" fill="url(#gr)"/>
<circle cx="308.7" cy="1208.5" r="9.5" fill="url(#gr)"/>
<circle cx="419.3" cy="1208.5" r="9.5" fill="url(#gr)"/>
<circle cx="376.5" cy="969.2" r="10.7" fill="url(#gg)"/>
<circle cx="454.3" cy="965.6" r="10.7" fill="url(#gg)"/>
<circle cx="283.5" cy="1067.7" r="10.7" fill="url(#gg)"/>
<circle cx="438.2" cy="1059.8" r="10.7" fill="url(#gg)"/>
<circle cx="549.8" cy="1059.8" r="10.7" fill="url(#gg)"/>
<circle cx="268.4" cy="1162.2" r="10.7" fill="url(#gg)"/>
<circle cx="346.5" cy="1157.8" r="10.7" fill="url(#gg)"/>
<circle cx="568.9" cy="1158.5" r="10.7" fill="url(#gg)"/>
<circle cx="364.5" cy="1257.0" r="10.7" fill="url(#gg)"/>
<circle cx="475.3" cy="1257.0" r="10.7" fill="url(#gg)"/>
<circle cx="304.6" cy="1015.6" r="10.7" fill="url(#gr)"/>
<circle cx="338.1" cy="1019.9" r="10.7" fill="url(#gr)"/>
<circle cx="527.4" cy="1015.6" r="10.7" fill="url(#gr)"/>
<circle cx="434.7" cy="1114.2" r="10.7" fill="url(#gr)"/>
<circle cx="342.2" cy="1212.9" r="10.7" fill="url(#gr)"/>
<circle cx="497.0" cy="1204.9" r="10.7" fill="url(#gr)"/>
<circle cx="530.5" cy="1208.5" r="10.7" fill="url(#gr)"/>
</g>
<clipPath id="cpd"><rect x="1257.8" y="946.6" width="832.7" height="729.2"/></clipPath>
<g clip-path="url(#cpd)">
<path d="M1259.8 1327.0 L1260.9 1308.1 L1264.0 1471.4 L1268.8 1438.3 L1272.3 1506.9 L1276.6 1450.1 L1281.1 1377.9 L1285.3 1450.1 L1288.9 1521.1 L1293.1 1562.6 L1297.2 1483.3 L1301.9 1460.8 L1305.9 1506.9 L1310.2 1497.5 L1313.7 1473.8 L1318.0 1402.8 L1322.5 1366.1 L1326.8 1450.1 L1331.0 1426.4 L1335.0 1390.9 L1339.8 1568.5 L1343.3 1450.1 L1347.6 1334.1 L1351.6 1400.4 L1356.4 1376.7 L1359.9 1509.3 L1364.2 1533.0 L1368.2 1543.6 L1372.2 1548.4 L1376.5 1548.4 L1380.7 1556.6 L1384.8 1555.5 L1388.3 1480.9 L1392.6 1485.6 L1396.6 1518.8 L1401.3 1506.9 L1406.1 1471.4 L1410.1 1544.8 L1414.4 1582.7 L1418.4 1622.9 L1421.9 1578.0 L1426.2 1561.4 L1430.2 1559.0 L1434.5 1555.5 L1438.5 1537.7 L1442.8 1529.4 L1447.5 1592.2 L1451.8 1625.3 L1455.1 1622.9 L1459.3 1604.0 L1464.1 1563.8 L1468.3 1516.4 L1472.4 1486.8 L1476.4 1556.6 L1480.6 1611.1 L1484.9 1634.8 L1488.9 1644.2 L1492.5 1632.4 L1496.7 1568.5 L1500.8 1516.4 L1505.5 1535.3 L1509.5 1566.1 L1513.3 1601.6 L1516.6 1601.6 L1520.9 1529.4 L1525.1 1525.9 L1529.9 1523.5 L1533.9 1438.3 L1538.6 1485.6 L1543.3 1633.6 L1551.1 1521.1 L1558.9 1417.0 L1563.0 1544.8 L1567.7 1589.8 L1572.4 1599.3 L1576.0 1568.5 L1579.5 1521.1 L1584.3 1478.5 L1588.3 1457.2 L1592.1 1377.9 L1596.1 1497.5 L1600.8 1563.8 L1604.9 1615.8 L1606.8 1611.1 L1610.3 1544.8 L1613.9 1462.0 L1617.9 1402.3 L1622.1 1445.4 L1626.2 1572.5 L1630.0 1485.6 L1634.0 1035.3 L1638.2 1613.5 L1642.3 1450.1 L1645.8 1282.0 L1650.1 1450.1 L1654.1 1568.5 L1657.7 1618.2 L1660.0 1497.5 L1663.1 1347.1 L1667.1 1426.4 L1671.9 1546.2 L1675.4 1473.8 L1679.4 1396.8 L1684.4 1536.8 L1687.7 1426.4 L1692.0 1309.3 L1696.2 1413.4 L1700.3 1386.2 L1705.0 1374.4 L1708.6 1473.8 L1712.1 1568.5 L1715.7 1627.7 L1719.2 1658.4 L1722.8 1673.6 L1777.2 1673.6 L1781.9 1670.3 L1791.4 1662.0 L1795.0 1644.2 L1799.7 1573.2 L1804.4 1556.6 L1808.5 1516.4 L1812.7 1483.3 L1816.9 1533.0 L1820.5 1615.8 L1824.0 1658.4 L1827.6 1670.3 L1833.5 1673.6 L1838.2 1670.3 L1841.8 1658.4 L1845.3 1592.2 L1850.1 1497.5 L1854.3 1392.8 L1858.3 1521.1 L1861.9 1604.0 L1865.9 1658.4 L1869.0 1672.7 L1872.6 1671.5 L1878.5 1665.5 L1882.0 1653.7 L1886.8 1625.3 L1891.5 1582.7 L1895.0 1563.8 L1899.8 1550.7 L1904.5 1537.2 L1908.5 1554.3 L1912.8 1582.7 L1916.4 1627.7 L1918.7 1651.3 L1921.6 1664.4 L1924.6 1660.8 L1928.2 1639.5 L1932.2 1630.0 L1937.7 1620.6 L1941.2 1580.3 L1945.9 1555.5 L1950.2 1530.6 L1954.2 1561.4 L1959.0 1592.2 L1963.7 1627.7 L1967.2 1651.3 L1970.8 1663.2 L1975.5 1671.5 L1979.1 1673.6 L2034.7 1673.6 L2038.3 1670.3 L2043.0 1663.2 L2046.6 1646.6 L2049.6 1604.0 L2052.5 1525.9 L2057.7 1518.8 L2062.7 1511.2 L2066.2 1566.1 L2070.2 1587.4 L2075.0 1611.1 L2079.7 1630.0 L2083.3 1639.5 L2086.8 1630.0 L2088.5 1624.1" fill="none" stroke="#0068bd" stroke-width="3.20" stroke-linejoin="miter" stroke-miterlimit="3" stroke-linecap="butt"/>
<path d="M1259.8 1424.0 L1260.9 1409.2 L1264.0 1530.9 L1268.8 1504.0 L1272.3 1553.0 L1276.6 1512.4 L1281.1 1455.2 L1285.3 1507.7 L1288.9 1558.0 L1293.1 1590.4 L1293.6 1580.7 L1297.2 1522.1 L1301.9 1503.3 L1305.9 1542.2 L1310.2 1536.4 L1313.7 1513.1 L1314.4 1501.8 L1318.0 1449.1 L1318.5 1446.0 L1322.5 1411.1 L1326.8 1484.3 L1331.0 1472.6 L1335.0 1448.0 L1339.8 1584.4 L1343.3 1489.9 L1347.6 1395.8 L1351.6 1454.6 L1355.9 1443.9 L1356.4 1440.3 L1359.9 1548.3 L1364.2 1568.5 L1368.2 1576.7 L1372.2 1580.3 L1376.5 1581.5 L1380.7 1586.6 L1384.8 1584.6 L1385.5 1570.1 L1388.3 1526.0 L1392.6 1529.6 L1396.6 1554.2 L1401.3 1544.8 L1406.1 1515.7 L1410.1 1574.4 L1414.4 1603.2 L1418.4 1634.5 L1421.9 1600.7 L1426.2 1590.9 L1430.2 1589.8 L1434.5 1586.1 L1438.5 1571.5 L1439.2 1570.6 L1442.8 1561.8 L1447.5 1612.3 L1451.8 1638.3 L1455.1 1637.0 L1459.3 1624.2 L1464.1 1595.4 L1468.3 1561.6 L1472.4 1539.4 L1476.4 1588.8 L1480.6 1626.1 L1484.9 1644.2 L1488.9 1652.4 L1492.5 1642.8 L1496.7 1598.5 L1500.8 1557.9 L1505.5 1572.0 L1509.5 1593.2 L1513.3 1619.3 L1516.6 1619.3 L1520.9 1566.1 L1525.1 1563.7 L1529.9 1564.6 L1533.9 1497.5 L1538.6 1535.0 L1543.3 1641.6 L1551.1 1553.3 L1554.7 1517.4 L1558.9 1494.1 L1563.0 1584.1 L1566.5 1604.5 L1567.7 1616.1 L1571.7 1625.0 L1572.4 1627.5 L1576.0 1602.6 L1579.5 1572.3 L1584.3 1544.6 L1588.3 1528.1 L1592.1 1471.8 L1596.1 1555.3 L1600.8 1595.3 L1604.9 1634.7 L1606.8 1631.4 L1607.9 1612.2 L1610.3 1579.2 L1612.7 1535.2 L1613.9 1512.5 L1617.9 1469.8 L1622.1 1501.8 L1625.7 1582.5 L1626.2 1598.9 L1630.0 1525.5 L1634.0 1154.4 L1638.2 1629.7 L1638.7 1606.0 L1642.3 1495.0 L1645.8 1355.0 L1650.1 1496.6 L1654.1 1583.7 L1657.7 1633.2 L1658.8 1577.6 L1660.0 1543.5 L1662.4 1482.0 L1663.1 1446.1 L1667.1 1514.7 L1671.9 1596.6 L1675.4 1555.6 L1679.4 1505.0 L1684.4 1575.7 L1687.7 1508.6 L1692.0 1445.6 L1696.2 1510.9 L1700.3 1498.5 L1701.0 1499.0 L1705.0 1456.1 L1708.6 1520.7 L1712.1 1584.3 L1713.3 1594.2 L1715.7 1631.6 L1719.2 1658.6 L1722.8 1673.8 L1777.2 1673.8 L1781.9 1673.2 L1791.4 1670.3 L1795.0 1666.6 L1799.7 1650.1 L1804.4 1643.1 L1808.5 1616.8 L1812.7 1595.8 L1816.9 1627.7 L1820.5 1653.7 L1824.0 1669.1 L1827.6 1673.1 L1833.5 1673.6 L1838.2 1673.1 L1841.8 1667.9 L1845.3 1639.5 L1850.1 1604.0 L1854.3 1556.6 L1858.3 1615.8 L1861.9 1651.3 L1865.9 1670.3 L1869.0 1673.6 L1872.6 1673.1 L1878.5 1670.3 L1882.0 1665.5 L1886.8 1653.7 L1891.5 1639.5 L1895.0 1630.0 L1899.8 1622.9 L1904.5 1619.4 L1908.5 1626.5 L1912.8 1639.5 L1916.4 1658.4 L1918.7 1669.1 L1921.6 1672.7 L1924.6 1670.3 L1928.2 1663.2 L1932.2 1659.6 L1937.7 1656.1 L1941.2 1641.9 L1945.9 1630.0 L1950.2 1622.9 L1954.2 1637.1 L1959.0 1649.0 L1963.7 1660.8 L1967.2 1667.9 L1970.8 1671.5 L1975.5 1673.1 L1979.1 1673.6 L2034.7 1673.6 L2038.3 1672.7 L2043.0 1670.3 L2046.6 1665.5 L2049.6 1658.4 L2052.5 1624.1 L2057.7 1622.9 L2062.7 1620.6 L2066.2 1637.1 L2070.2 1644.2 L2075.0 1652.5 L2079.7 1659.6 L2083.3 1663.2 L2086.8 1658.4 L2088.5 1657.3" fill="none" stroke="#ff5014" stroke-width="2.60" stroke-linejoin="miter" stroke-miterlimit="3" stroke-linecap="butt"/>
<path d="M1259.8 1576.8 L1260.9 1573.2 L1264.0 1613.5 L1268.8 1608.7 L1272.3 1627.7 L1276.6 1611.1 L1281.1 1596.9 L1285.3 1615.8 L1288.9 1637.1 L1293.6 1646.6 L1297.2 1634.8 L1301.9 1631.2 L1305.9 1638.3 L1310.2 1634.8 L1314.4 1634.8 L1318.5 1626.5 L1322.5 1628.9 L1326.8 1639.5 L1331.0 1627.7 L1335.0 1617.0 L1339.8 1657.3 L1343.3 1634.8 L1347.6 1612.3 L1351.6 1619.4 L1355.9 1608.7 L1359.9 1634.8 L1364.2 1638.3 L1368.2 1640.7 L1372.2 1641.9 L1376.5 1640.7 L1380.7 1643.8 L1385.5 1643.8 L1388.3 1628.9 L1392.6 1630.0 L1396.6 1638.3 L1401.3 1636.0 L1406.1 1630.0 L1410.1 1644.2 L1414.4 1653.7 L1418.4 1662.0 L1421.9 1651.3 L1426.2 1644.2 L1430.2 1643.1 L1434.5 1643.1 L1439.2 1639.5 L1442.8 1641.9 L1447.5 1653.7 L1451.8 1660.8 L1455.1 1659.6 L1459.3 1653.7 L1464.1 1641.9 L1468.3 1628.9 L1472.4 1621.8 L1476.4 1641.9 L1480.6 1658.4 L1484.9 1664.4 L1488.9 1665.5 L1492.5 1663.2 L1496.7 1644.2 L1500.8 1632.4 L1505.5 1637.1 L1509.5 1646.6 L1513.3 1656.1 L1516.6 1656.1 L1520.9 1637.1 L1525.1 1636.0 L1529.9 1632.4 L1533.9 1614.6 L1538.6 1624.1 L1543.3 1665.5 L1551.1 1641.9 L1554.7 1630.0 L1558.9 1596.9 L1563.0 1634.8 L1566.5 1647.8 L1571.7 1646.6 L1576.0 1639.5 L1579.5 1622.9 L1584.3 1607.5 L1588.3 1602.8 L1592.1 1580.3 L1596.1 1615.8 L1600.8 1641.9 L1604.9 1654.9 L1607.9 1651.3 L1612.7 1627.7 L1617.9 1606.4 L1622.1 1617.0 L1625.7 1649.0 L1630.0 1630.0 L1634.0 1556.6 L1638.7 1663.2 L1642.3 1627.7 L1645.8 1601.6 L1650.1 1627.7 L1654.1 1658.4 L1658.8 1656.1 L1662.4 1573.2 L1667.1 1585.1 L1671.9 1622.9 L1675.4 1592.2 L1679.4 1566.1 L1684.4 1634.8 L1687.7 1592.2 L1692.0 1537.7 L1696.2 1575.6 L1701.0 1559.0 L1705.0 1592.2 L1708.6 1627.7 L1713.3 1667.9 L1719.2 1673.6 L1777.2 1673.6 L1791.4 1665.5 L1795.0 1651.3 L1799.7 1596.9 L1804.4 1587.4 L1808.5 1573.2 L1812.7 1561.4 L1816.9 1592.2 L1820.5 1639.5 L1824.0 1665.5 L1827.6 1672.7 L1833.5 1673.6 L1838.2 1672.7 L1841.8 1665.5 L1845.3 1627.7 L1850.1 1580.3 L1854.3 1516.4 L1858.3 1592.2 L1861.9 1639.5 L1865.9 1667.9 L1869.0 1673.6 L1872.6 1672.7 L1878.5 1669.1 L1882.0 1663.2 L1886.8 1646.6 L1891.5 1622.9 L1895.0 1611.1 L1899.8 1601.6 L1904.5 1592.2 L1908.5 1604.0 L1912.8 1625.3 L1916.4 1651.3 L1918.7 1665.5 L1921.6 1671.5 L1924.6 1667.9 L1928.2 1651.3 L1932.2 1644.2 L1937.7 1637.1 L1941.2 1615.8 L1945.9 1596.9 L1950.2 1582.7 L1954.2 1604.0 L1959.0 1627.7 L1963.7 1651.3 L1967.2 1663.2 L1970.8 1669.1 L1975.5 1672.7 L1979.1 1673.6 L2034.7 1673.6 L2038.3 1672.2 L2043.0 1667.9 L2046.6 1658.4 L2049.6 1627.7 L2052.5 1573.2 L2057.7 1568.5 L2062.7 1564.9 L2066.2 1601.6 L2070.2 1615.8 L2075.0 1632.4 L2079.7 1644.2 L2083.3 1650.2 L2086.8 1641.9 L2088.5 1639.5" fill="none" stroke="#ffac00" stroke-width="2.80" stroke-linejoin="miter" stroke-miterlimit="3" stroke-linecap="butt"/>
</g>
<rect x="1259.8" y="946.6" width="828.7" height="727.2" fill="none" stroke="#505050" stroke-width="1.7"/>
<text x="1259.8" y="1720.5" text-anchor="middle" class="t">-2</text>
<path d="M1363.4 1673.8 v-8.0 M1363.4 946.6 v8.0" stroke="#505050" stroke-width="1.4"/>
<text x="1363.4" y="1720.5" text-anchor="middle" class="t">-1.5</text>
<path d="M1467.0 1673.8 v-8.0 M1467.0 946.6 v8.0" stroke="#505050" stroke-width="1.4"/>
<text x="1467.0" y="1720.5" text-anchor="middle" class="t">-1</text>
<path d="M1570.6 1673.8 v-8.0 M1570.6 946.6 v8.0" stroke="#505050" stroke-width="1.4"/>
<text x="1570.6" y="1720.5" text-anchor="middle" class="t">-0.5</text>
<path d="M1674.2 1673.8 v-8.0 M1674.2 946.6 v8.0" stroke="#505050" stroke-width="1.4"/>
<text x="1674.2" y="1720.5" text-anchor="middle" class="t">0</text>
<path d="M1777.7 1673.8 v-8.0 M1777.7 946.6 v8.0" stroke="#505050" stroke-width="1.4"/>
<text x="1777.7" y="1720.5" text-anchor="middle" class="t">0.5</text>
<path d="M1881.3 1673.8 v-8.0 M1881.3 946.6 v8.0" stroke="#505050" stroke-width="1.4"/>
<text x="1881.3" y="1720.5" text-anchor="middle" class="t">1</text>
<path d="M1984.9 1673.8 v-8.0 M1984.9 946.6 v8.0" stroke="#505050" stroke-width="1.4"/>
<text x="1984.9" y="1720.5" text-anchor="middle" class="t">1.5</text>
<text x="2088.5" y="1720.5" text-anchor="middle" class="t">2</text>
<text x="1248.0" y="1687.4" text-anchor="end" class="t">0</text>
<path d="M1259.8 1528.4 h8.0 M2088.5 1528.4 h-8.0" stroke="#505050" stroke-width="1.4"/>
<text x="1248.0" y="1542.0" text-anchor="end" class="t">500</text>
<path d="M1259.8 1382.9 h8.0 M2088.5 1382.9 h-8.0" stroke="#505050" stroke-width="1.4"/>
<text x="1248.0" y="1396.5" text-anchor="end" class="t">1000</text>
<path d="M1259.8 1237.5 h8.0 M2088.5 1237.5 h-8.0" stroke="#505050" stroke-width="1.4"/>
<text x="1248.0" y="1251.1" text-anchor="end" class="t">1500</text>
<path d="M1259.8 1092.0 h8.0 M2088.5 1092.0 h-8.0" stroke="#505050" stroke-width="1.4"/>
<text x="1248.0" y="1105.6" text-anchor="end" class="t">2000</text>
<text x="1248.0" y="960.2" text-anchor="end" class="t">2500</text>
<text x="1673.2" y="1758.6" text-anchor="middle" class="xl">Energy(eV)</text>
<text transform="translate(1154.1 1310.2) rotate(-90)" text-anchor="middle" class="yl">Density of States</text>
<text x="1098.7" y="953.8" class="pl">(d)</text>
<text x="1657.8" y="1030.4" class="ti">Cd<tspan class="sub" dy="24.2">14</tspan><tspan dy="-24.2">S</tspan><tspan class="sub" dy="24.2">13</tspan></text>
<path d="M1891.1 979.9 h49" stroke="#0068bd" stroke-width="3"/>
<text x="1945.1" y="993.1" class="t">Total</text>
<path d="M1891.1 1025.2 h49" stroke="#ff5014" stroke-width="3"/>
<text x="1945.1" y="1038.4" class="t">S</text>
<path d="M1891.1 1070.5 h49" stroke="#ffac00" stroke-width="3"/>
<text x="1945.1" y="1083.7" class="t">Cd</text>
<rect x="1292.8" y="955.6" width="333.8" height="317.2" fill="#fff"/>
<g stroke-linecap="butt" filter="url(#bl1)">
<circle cx="1405.4" cy="1064.8" r="11.7" fill="#0b0b0b"/>
<circle cx="1482.6" cy="1059.8" r="12.9" fill="#0b0b0b"/>
<circle cx="1594.2" cy="1059.8" r="12.9" fill="#0b0b0b"/>
<circle cx="1390.9" cy="1157.8" r="12.9" fill="#0b0b0b"/>
<circle cx="1349.0" cy="1015.6" r="12.9" fill="#0b0b0b"/>
<circle cx="1538.4" cy="1011.2" r="11.7" fill="#0b0b0b"/>
<circle cx="1445.3" cy="1110.2" r="11.7" fill="#0b0b0b"/>
<path d="M1349.0 1015.6 L1405.4 1064.8" stroke="#0b0b0b" stroke-width="12.2"/>
<path d="M1349.0 1015.6 L1377.2 1040.2" stroke="#ff1010" stroke-width="7.8"/>
<path d="M1405.4 1064.8 L1377.2 1040.2" stroke="#0e8020" stroke-width="7.8"/>
<path d="M1381.2 1043.7 L1377.2 1040.2" stroke="#22b23c" stroke-width="7.8"/>
<path d="M1538.4 1011.2 L1482.6 1059.8" stroke="#0b0b0b" stroke-width="12.2"/>
<path d="M1538.4 1011.2 L1510.5 1035.5" stroke="#ff1010" stroke-width="7.8"/>
<path d="M1482.6 1059.8 L1510.5 1035.5" stroke="#0e8020" stroke-width="7.8"/>
<path d="M1506.6 1038.9 L1510.5 1035.5" stroke="#22b23c" stroke-width="7.8"/>
<path d="M1538.4 1011.2 L1594.2 1059.8" stroke="#0b0b0b" stroke-width="12.2"/>
<path d="M1538.4 1011.2 L1566.3 1035.5" stroke="#ff1010" stroke-width="7.8"/>
<path d="M1594.2 1059.8 L1566.3 1035.5" stroke="#0e8020" stroke-width="7.8"/>
<path d="M1570.2 1038.9 L1566.3 1035.5" stroke="#22b23c" stroke-width="7.8"/>
<path d="M1445.3 1110.2 L1390.9 1157.8" stroke="#0b0b0b" stroke-width="12.2"/>
<path d="M1445.3 1110.2 L1418.1 1134.0" stroke="#ff1010" stroke-width="7.8"/>
<path d="M1390.9 1157.8 L1418.1 1134.0" stroke="#0e8020" stroke-width="7.8"/>
<path d="M1414.3 1137.4 L1418.1 1134.0" stroke="#22b23c" stroke-width="7.8"/>
<circle cx="1420.9" cy="969.2" r="12.9" fill="#0b0b0b"/>
<circle cx="1498.7" cy="965.6" r="12.9" fill="#0b0b0b"/>
<circle cx="1327.9" cy="1067.7" r="12.9" fill="#0b0b0b"/>
<circle cx="1312.8" cy="1162.2" r="12.9" fill="#0b0b0b"/>
<circle cx="1423.8" cy="1162.2" r="11.7" fill="#0b0b0b"/>
<circle cx="1501.7" cy="1158.5" r="11.7" fill="#0b0b0b"/>
<circle cx="1613.3" cy="1158.5" r="12.9" fill="#0b0b0b"/>
<circle cx="1408.9" cy="1257.0" r="12.9" fill="#0b0b0b"/>
<circle cx="1519.7" cy="1257.0" r="12.9" fill="#0b0b0b"/>
<circle cx="1382.5" cy="1019.9" r="12.9" fill="#0b0b0b"/>
<circle cx="1460.7" cy="1015.6" r="11.7" fill="#0b0b0b"/>
<circle cx="1571.8" cy="1015.6" r="12.9" fill="#0b0b0b"/>
<circle cx="1367.8" cy="1114.2" r="11.7" fill="#0b0b0b"/>
<circle cx="1479.1" cy="1114.2" r="12.9" fill="#0b0b0b"/>
<circle cx="1556.9" cy="1110.2" r="11.7" fill="#0b0b0b"/>
<circle cx="1353.1" cy="1208.5" r="11.7" fill="#0b0b0b"/>
<circle cx="1386.6" cy="1212.9" r="12.9" fill="#0b0b0b"/>
<circle cx="1463.7" cy="1208.5" r="11.7" fill="#0b0b0b"/>
<circle cx="1541.4" cy="1204.9" r="12.9" fill="#0b0b0b"/>
<circle cx="1574.9" cy="1208.5" r="12.9" fill="#0b0b0b"/>
<path d="M1420.9 969.2 L1382.5 1019.9" stroke="#0b0b0b" stroke-width="12.2"/>
<path d="M1420.9 969.2 L1401.7 994.6" stroke="#0e8020" stroke-width="7.8"/>
<path d="M1404.4 991.0 L1401.7 994.6" stroke="#22b23c" stroke-width="7.8"/>
<path d="M1382.5 1019.9 L1401.7 994.6" stroke="#ff1010" stroke-width="7.8"/>
<path d="M1420.9 969.2 L1460.7 1015.6" stroke="#0b0b0b" stroke-width="12.2"/>
<path d="M1420.9 969.2 L1440.8 992.4" stroke="#0e8020" stroke-width="7.8"/>
<path d="M1438.0 989.1 L1440.8 992.4" stroke="#22b23c" stroke-width="7.8"/>
<path d="M1460.7 1015.6 L1440.8 992.4" stroke="#ff1010" stroke-width="7.8"/>
<path d="M1498.7 965.6 L1460.7 1015.6" stroke="#0b0b0b" stroke-width="12.2"/>
<path d="M1498.7 965.6 L1479.7 990.6" stroke="#0e8020" stroke-width="7.8"/>
<path d="M1482.4 987.1 L1479.7 990.6" stroke="#22b23c" stroke-width="7.8"/>
<path d="M1460.7 1015.6 L1479.7 990.6" stroke="#ff1010" stroke-width="7.8"/>
<path d="M1498.7 965.6 L1538.4 1011.2" stroke="#0b0b0b" stroke-width="12.2"/>
<path d="M1498.7 965.6 L1518.5 988.4" stroke="#0e8020" stroke-width="7.8"/>
<path d="M1515.8 985.2 L1518.5 988.4" stroke="#22b23c" stroke-width="7.8"/>
<path d="M1538.4 1011.2 L1518.5 988.4" stroke="#ff1010" stroke-width="7.8"/>
<path d="M1382.5 1019.9 L1327.9 1067.7" stroke="#0b0b0b" stroke-width="12.2"/>
<path d="M1382.5 1019.9 L1355.2 1043.8" stroke="#ff1010" stroke-width="7.8"/>
<path d="M1327.9 1067.7 L1355.2 1043.8" stroke="#0e8020" stroke-width="7.8"/>
<path d="M1351.4 1047.2 L1355.2 1043.8" stroke="#22b23c" stroke-width="7.8"/>
<path d="M1460.7 1015.6 L1405.4 1064.8" stroke="#0b0b0b" stroke-width="12.2"/>
<path d="M1460.7 1015.6 L1433.1 1040.2" stroke="#ff1010" stroke-width="7.8"/>
<path d="M1405.4 1064.8 L1433.1 1040.2" stroke="#0e8020" stroke-width="7.8"/>
<path d="M1429.2 1043.7 L1433.1 1040.2" stroke="#22b23c" stroke-width="7.8"/>
<path d="M1327.9 1067.7 L1367.8 1114.2" stroke="#0b0b0b" stroke-width="12.2"/>
<path d="M1327.9 1067.7 L1347.9 1091.0" stroke="#0e8020" stroke-width="7.8"/>
<path d="M1345.1 1087.7 L1347.9 1091.0" stroke="#22b23c" stroke-width="7.8"/>
<path d="M1367.8 1114.2 L1347.9 1091.0" stroke="#ff1010" stroke-width="7.8"/>
<path d="M1405.4 1064.8 L1367.8 1114.2" stroke="#0b0b0b" stroke-width="12.2"/>
<path d="M1405.4 1064.8 L1386.6 1089.5" stroke="#0e8020" stroke-width="7.8"/>
<path d="M1389.2 1086.1 L1386.6 1089.5" stroke="#22b23c" stroke-width="7.8"/>
<path d="M1367.8 1114.2 L1386.6 1089.5" stroke="#ff1010" stroke-width="7.8"/>
<path d="M1405.4 1064.8 L1445.3 1110.2" stroke="#0b0b0b" stroke-width="12.2"/>
<path d="M1405.4 1064.8 L1425.4 1087.5" stroke="#0e8020" stroke-width="7.8"/>
<path d="M1422.6 1084.4 L1425.4 1087.5" stroke="#22b23c" stroke-width="7.8"/>
<path d="M1445.3 1110.2 L1425.4 1087.5" stroke="#ff1010" stroke-width="7.8"/>
<path d="M1482.6 1059.8 L1445.3 1110.2" stroke="#0b0b0b" stroke-width="12.2"/>
<path d="M1482.6 1059.8 L1463.9 1085.0" stroke="#0e8020" stroke-width="7.8"/>
<path d="M1466.5 1081.5 L1463.9 1085.0" stroke="#22b23c" stroke-width="7.8"/>
<path d="M1445.3 1110.2 L1463.9 1085.0" stroke="#ff1010" stroke-width="7.8"/>
<path d="M1594.2 1059.8 L1556.9 1110.2" stroke="#0b0b0b" stroke-width="12.2"/>
<path d="M1594.2 1059.8 L1575.6 1085.0" stroke="#0e8020" stroke-width="7.8"/>
<path d="M1578.2 1081.5 L1575.6 1085.0" stroke="#22b23c" stroke-width="7.8"/>
<path d="M1556.9 1110.2 L1575.6 1085.0" stroke="#ff1010" stroke-width="7.8"/>
<path d="M1367.8 1114.2 L1312.8 1162.2" stroke="#0b0b0b" stroke-width="12.2"/>
<path d="M1367.8 1114.2 L1340.3 1138.2" stroke="#ff1010" stroke-width="7.8"/>
<path d="M1312.8 1162.2 L1340.3 1138.2" stroke="#0e8020" stroke-width="7.8"/>
<path d="M1336.4 1141.5 L1340.3 1138.2" stroke="#22b23c" stroke-width="7.8"/>
<path d="M1367.8 1114.2 L1423.8 1162.2" stroke="#0b0b0b" stroke-width="12.2"/>
<path d="M1367.8 1114.2 L1395.8 1138.2" stroke="#ff1010" stroke-width="7.8"/>
<path d="M1423.8 1162.2 L1395.8 1138.2" stroke="#0e8020" stroke-width="7.8"/>
<path d="M1399.7 1141.5 L1395.8 1138.2" stroke="#22b23c" stroke-width="7.8"/>
<path d="M1445.3 1110.2 L1501.7 1158.5" stroke="#0b0b0b" stroke-width="12.2"/>
<path d="M1445.3 1110.2 L1473.5 1134.4" stroke="#ff1010" stroke-width="7.8"/>
<path d="M1501.7 1158.5 L1473.5 1134.4" stroke="#0e8020" stroke-width="7.8"/>
<path d="M1477.4 1137.8 L1473.5 1134.4" stroke="#22b23c" stroke-width="7.8"/>
<path d="M1479.1 1114.2 L1423.8 1162.2" stroke="#0b0b0b" stroke-width="12.2"/>
<path d="M1479.1 1114.2 L1451.4 1138.2" stroke="#ff1010" stroke-width="7.8"/>
<path d="M1423.8 1162.2 L1451.4 1138.2" stroke="#0e8020" stroke-width="7.8"/>
<path d="M1447.6 1141.5 L1451.4 1138.2" stroke="#22b23c" stroke-width="7.8"/>
<path d="M1556.9 1110.2 L1501.7 1158.5" stroke="#0b0b0b" stroke-width="12.2"/>
<path d="M1556.9 1110.2 L1529.3 1134.4" stroke="#ff1010" stroke-width="7.8"/>
<path d="M1501.7 1158.5 L1529.3 1134.4" stroke="#0e8020" stroke-width="7.8"/>
<path d="M1525.4 1137.8 L1529.3 1134.4" stroke="#22b23c" stroke-width="7.8"/>
<path d="M1556.9 1110.2 L1613.3 1158.5" stroke="#0b0b0b" stroke-width="12.2"/>
<path d="M1556.9 1110.2 L1585.1 1134.4" stroke="#ff1010" stroke-width="7.8"/>
<path d="M1613.3 1158.5 L1585.1 1134.4" stroke="#0e8020" stroke-width="7.8"/>
<path d="M1589.0 1137.8 L1585.1 1134.4" stroke="#22b23c" stroke-width="7.8"/>
<path d="M1312.8 1162.2 L1353.1 1208.5" stroke="#0b0b0b" stroke-width="12.2"/>
<path d="M1312.8 1162.2 L1332.9 1185.3" stroke="#0e8020" stroke-width="7.8"/>
<path d="M1330.1 1182.1 L1332.9 1185.3" stroke="#22b23c" stroke-width="7.8"/>
<path d="M1353.1 1208.5 L1332.9 1185.3" stroke="#ff1010" stroke-width="7.8"/>
<path d="M1390.9 1157.8 L1353.1 1208.5" stroke="#0b0b0b" stroke-width="12.2"/>
<path d="M1390.9 1157.8 L1372.0 1183.2" stroke="#0e8020" stroke-width="7.8"/>
<path d="M1374.6 1179.6 L1372.0 1183.2" stroke="#22b23c" stroke-width="7.8"/>
<path d="M1353.1 1208.5 L1372.0 1183.2" stroke="#ff1010" stroke-width="7.8"/>
<path d="M1423.8 1162.2 L1386.6 1212.9" stroke="#0b0b0b" stroke-width="12.2"/>
<path d="M1423.8 1162.2 L1405.2 1187.5" stroke="#0e8020" stroke-width="7.8"/>
<path d="M1407.8 1184.0 L1405.2 1187.5" stroke="#22b23c" stroke-width="7.8"/>
<path d="M1386.6 1212.9 L1405.2 1187.5" stroke="#ff1010" stroke-width="7.8"/>
<path d="M1423.8 1162.2 L1463.7 1208.5" stroke="#0b0b0b" stroke-width="12.2"/>
<path d="M1423.8 1162.2 L1443.7 1185.3" stroke="#0e8020" stroke-width="7.8"/>
<path d="M1440.9 1182.1 L1443.7 1185.3" stroke="#22b23c" stroke-width="7.8"/>
<path d="M1463.7 1208.5 L1443.7 1185.3" stroke="#ff1010" stroke-width="7.8"/>
<path d="M1501.7 1158.5 L1463.7 1208.5" stroke="#0b0b0b" stroke-width="12.2"/>
<path d="M1501.7 1158.5 L1482.7 1183.5" stroke="#0e8020" stroke-width="7.8"/>
<path d="M1485.3 1180.0 L1482.7 1183.5" stroke="#22b23c" stroke-width="7.8"/>
<path d="M1463.7 1208.5 L1482.7 1183.5" stroke="#ff1010" stroke-width="7.8"/>
<path d="M1501.7 1158.5 L1541.4 1204.9" stroke="#0b0b0b" stroke-width="12.2"/>
<path d="M1501.7 1158.5 L1521.5 1181.7" stroke="#0e8020" stroke-width="7.8"/>
<path d="M1518.7 1178.5 L1521.5 1181.7" stroke="#22b23c" stroke-width="7.8"/>
<path d="M1541.4 1204.9 L1521.5 1181.7" stroke="#ff1010" stroke-width="7.8"/>
<path d="M1613.3 1158.5 L1574.9 1208.5" stroke="#0b0b0b" stroke-width="12.2"/>
<path d="M1613.3 1158.5 L1594.1 1183.5" stroke="#0e8020" stroke-width="7.8"/>
<path d="M1596.8 1180.0 L1594.1 1183.5" stroke="#22b23c" stroke-width="7.8"/>
<path d="M1574.9 1208.5 L1594.1 1183.5" stroke="#ff1010" stroke-width="7.8"/>
<path d="M1353.1 1208.5 L1408.9 1257.0" stroke="#0b0b0b" stroke-width="12.2"/>
<path d="M1353.1 1208.5 L1381.0 1232.8" stroke="#ff1010" stroke-width="7.8"/>
<path d="M1408.9 1257.0 L1381.0 1232.8" stroke="#0e8020" stroke-width="7.8"/>
<path d="M1384.9 1236.2 L1381.0 1232.8" stroke="#22b23c" stroke-width="7.8"/>
<path d="M1463.7 1208.5 L1408.9 1257.0" stroke="#0b0b0b" stroke-width="12.2"/>
<path d="M1463.7 1208.5 L1436.3 1232.8" stroke="#ff1010" stroke-width="7.8"/>
<path d="M1408.9 1257.0 L1436.3 1232.8" stroke="#0e8020" stroke-width="7.8"/>
<path d="M1432.5 1236.2 L1436.3 1232.8" stroke="#22b23c" stroke-width="7.8"/>
<path d="M1463.7 1208.5 L1519.7 1257.0" stroke="#0b0b0b" stroke-width="12.2"/>
<path d="M1463.7 1208.5 L1491.7 1232.8" stroke="#ff1010" stroke-width="7.8"/>
<path d="M1519.7 1257.0 L1491.7 1232.8" stroke="#0e8020" stroke-width="7.8"/>
<path d="M1495.6 1236.2 L1491.7 1232.8" stroke="#22b23c" stroke-width="7.8"/>
<path d="M1574.9 1208.5 L1519.7 1257.0" stroke="#0b0b0b" stroke-width="12.2"/>
<path d="M1574.9 1208.5 L1547.3 1232.8" stroke="#ff1010" stroke-width="7.8"/>
<path d="M1519.7 1257.0 L1547.3 1232.8" stroke="#0e8020" stroke-width="7.8"/>
<path d="M1543.4 1236.2 L1547.3 1232.8" stroke="#22b23c" stroke-width="7.8"/>
<circle cx="1405.4" cy="1064.8" r="9.5" fill="url(#gg)"/>
<circle cx="1423.8" cy="1162.2" r="9.5" fill="url(#gg)"/>
<circle cx="1501.7" cy="1158.5" r="9.5" fill="url(#gg)"/>
<circle cx="1460.7" cy="1015.6" r="9.5" fill="url(#gr)"/>
<circle cx="1538.4" cy="1011.2" r="9.5" fill="url(#gr)"/>
<circle cx="1367.8" cy="1114.2" r="9.5" fill="url(#gr)"/>
<circle cx="1445.3" cy="1110.2" r="9.5" fill="url(#gr)"/>
<circle cx="1556.9" cy="1110.2" r="9.5" fill="url(#gr)"/>
<circle cx="1353.1" cy="1208.5" r="9.5" fill="url(#gr)"/>
<circle cx="1463.7" cy="1208.5" r="9.5" fill="url(#gr)"/>
<circle cx="1420.9" cy="969.2" r="10.7" fill="url(#gg)"/>
<circle cx="1498.7" cy="965.6" r="10.7" fill="url(#gg)"/>
<circle cx="1327.9" cy="1067.7" r="10.7" fill="url(#gg)"/>
<circle cx="1482.6" cy="1059.8" r="10.7" fill="url(#gg)"/>
<circle cx="1594.2" cy="1059.8" r="10.7" fill="url(#gg)"/>
<circle cx="1312.8" cy="1162.2" r="10.7" fill="url(#gg)"/>
<circle cx="1390.9" cy="1157.8" r="10.7" fill="url(#gg)"/>
<circle cx="1613.3" cy="1158.5" r="10.7" fill="url(#gg)"/>
<circle cx="1408.9" cy="1257.0" r="10.7" fill="url(#gg)"/>
<circle cx="1519.7" cy="1257.0" r="10.7" fill="url(#gg)"/>
<circle cx="1349.0" cy="1015.6" r="10.7" fill="url(#gr)"/>
<circle cx="1382.5" cy="1019.9" r="10.7" fill="url(#gr)"/>
<circle cx="1571.8" cy="1015.6" r="10.7" fill="url(#gr)"/>
<circle cx="1479.1" cy="1114.2" r="10.7" fill="url(#gr)"/>
<circle cx="1386.6" cy="1212.9" r="10.7" fill="url(#gr)"/>
<circle cx="1541.4" cy="1204.9" r="10.7" fill="url(#gr)"/>
<circle cx="1574.9" cy="1208.5" r="10.7" fill="url(#gr)"/>
</g>
<clipPath id="cpe"><rect x="186.3" y="1841.8" width="833.1" height="729.2"/></clipPath>
<g clip-path="url(#cpe)">
<path d="M188.3 2269.4 L189.5 2252.8 L193.0 2368.8 L196.6 2359.3 L199.4 2364.1 L202.0 2309.6 L206.0 2371.2 L209.6 2359.3 L214.3 2295.4 L216.7 2283.6 L219.8 2293.0 L222.1 2342.7 L226.2 2250.4 L228.1 2249.2 L229.2 2271.7 L230.9 2231.5 L232.6 2270.5 L235.2 2194.8 L238.0 2222.0 L241.6 2321.4 L243.9 2371.2 L245.8 2332.1 L248.7 2342.7 L251.0 2268.2 L252.9 2304.9 L256.9 2239.8 L261.7 2223.2 L264.8 2182.2 L268.1 2359.3 L271.1 2274.1 L274.7 2205.4 L277.1 2227.9 L281.3 2164.0 L286.1 2229.1 L291.3 2359.3 L294.3 2368.8 L297.2 2416.1 L300.7 2461.1 L303.1 2432.7 L305.5 2454.0 L309.0 2481.2 L310.7 2481.2 L314.9 2416.1 L318.5 2357.0 L320.9 2373.5 L324.4 2321.4 L328.7 2178.9 L331.5 2285.9 L335.1 2359.3 L338.1 2439.8 L339.8 2464.7 L343.4 2454.0 L345.7 2435.1 L348.6 2430.3 L352.3 2416.1 L355.2 2425.6 L357.6 2437.4 L360.4 2437.4 L363.5 2378.3 L367.0 2303.7 L370.6 2340.4 L374.1 2397.2 L377.2 2475.3 L380.0 2534.5 L384.8 2520.3 L389.5 2473.0 L393.1 2432.7 L396.6 2388.9 L400.9 2371.2 L404.4 2397.2 L408.5 2407.9 L412.0 2451.6 L415.6 2499.0 L419.1 2520.3 L421.5 2521.5 L426.2 2484.8 L429.8 2399.6 L433.3 2315.5 L436.9 2392.5 L440.9 2300.6 L443.3 2326.2 L447.0 2101.3 L449.9 2297.8 L452.7 2400.7 L454.6 2403.1 L457.5 2383.0 L460.5 2416.1 L464.1 2435.1 L467.6 2459.9 L469.9 2461.1 L471.8 2451.6 L474.7 2463.5 L477.8 2446.9 L480.8 2392.5 L484.1 2335.6 L487.9 2392.5 L492.0 2454.0 L495.0 2392.5 L499.8 2335.6 L502.1 2334.5 L505.0 2314.3 L507.3 2345.1 L508.5 2321.4 L512.1 2378.3 L514.9 2321.4 L518.0 2261.1 L520.4 2304.9 L522.7 2312.0 L525.1 2392.5 L528.7 2501.4 L531.5 2392.5 L535.0 2190.0 L537.7 2321.4 L542.9 2371.2 L545.7 2321.4 L548.8 2288.3 L551.9 2295.4 L554.2 2312.0 L556.6 2310.8 L559.4 2238.6 L561.8 2274.1 L564.2 2373.5 L569.4 2025.5 L576.0 2281.2 L579.6 2196.0 L582.6 2094.2 L585.5 2274.1 L589.0 2396.0 L592.1 2250.4 L594.5 2178.2 L597.3 2226.7 L600.9 2312.0 L602.5 2352.2 L607.3 2265.8 L610.3 2321.4 L613.4 2378.3 L615.1 2380.6 L617.4 2319.1 L621.0 2340.4 L622.9 2343.9 L624.5 2370.0 L628.6 2345.1 L632.3 2274.1 L635.9 2151.0 L638.7 2226.7 L642.3 2321.4 L645.8 2368.8 L648.7 2401.9 L650.6 2451.6 L654.1 2487.2 L658.9 2520.3 L663.1 2541.6 L667.1 2517.9 L671.9 2475.3 L676.6 2428.0 L680.9 2378.3 L682.5 2423.2 L684.9 2435.1 L688.5 2468.2 L692.0 2484.8 L695.1 2489.5 L697.9 2506.1 L701.5 2520.3 L706.2 2539.2 L710.9 2568.8 L747.1 2568.8 L750.7 2551.1 L755.4 2536.9 L760.1 2519.1 L764.9 2496.6 L769.6 2461.1 L773.1 2437.4 L776.7 2360.5 L780.7 2368.8 L783.8 2428.0 L787.3 2499.0 L790.9 2527.4 L794.5 2536.9 L800.4 2549.9 L805.1 2547.5 L811.0 2544.0 L816.9 2536.9 L822.9 2528.6 L827.6 2517.9 L832.3 2499.0 L835.9 2484.8 L837.5 2470.6 L839.4 2469.4 L843.0 2451.6 L846.5 2420.9 L848.4 2386.5 L850.1 2439.8 L852.5 2487.2 L854.8 2496.6 L857.7 2482.4 L859.6 2443.4 L863.1 2446.9 L866.7 2449.3 L870.7 2442.7 L873.8 2459.9 L877.3 2475.3 L880.9 2482.0 L884.4 2481.2 L888.0 2487.2 L890.3 2515.6 L893.9 2531.0 L898.6 2538.1 L903.4 2545.2 L908.1 2552.3 L911.6 2558.2 L915.2 2568.8 L959.0 2568.8 L961.4 2463.5 L964.4 2471.8 L967.3 2470.6 L970.8 2451.6 L973.2 2455.2 L975.6 2473.0 L979.1 2484.8 L982.0 2487.2 L985.0 2481.2 L986.7 2484.8 L989.1 2481.2 L992.1 2491.9 L995.7 2510.8 L998.0 2519.1 L1001.6 2523.9 L1004.0 2529.8 L1006.3 2536.9 L1009.9 2540.4 L1013.4 2532.1 L1015.8 2510.8 L1017.0 2480.1" fill="none" stroke="#0068bd" stroke-width="3.20" stroke-linejoin="miter" stroke-miterlimit="3" stroke-linecap="butt"/>
<path d="M188.3 2484.8 L189.5 2481.2 L193.0 2513.2 L196.6 2509.6 L199.4 2513.2 L202.0 2499.0 L206.0 2516.8 L209.6 2519.1 L214.3 2502.5 L216.7 2501.4 L219.8 2504.9 L222.1 2517.9 L226.2 2501.4 L228.1 2496.6 L229.2 2508.5 L230.9 2499.0 L232.6 2508.5 L235.2 2484.8 L238.0 2499.0 L241.6 2532.1 L243.9 2539.2 L245.8 2536.9 L248.7 2538.8 L251.0 2534.5 L254.6 2549.9 L259.3 2517.9 L264.8 2496.6 L268.1 2548.7 L271.1 2522.7 L274.7 2503.7 L277.1 2508.5 L281.3 2480.1 L286.1 2503.7 L291.3 2520.3 L294.3 2522.7 L297.2 2534.5 L300.7 2544.0 L303.1 2541.6 L305.5 2548.7 L309.0 2557.0 L310.7 2557.0 L314.9 2541.6 L318.5 2520.3 L320.9 2522.7 L324.4 2514.4 L329.1 2483.6 L331.5 2510.8 L335.1 2529.8 L338.1 2545.2 L341.0 2546.3 L345.7 2541.6 L348.6 2539.2 L352.3 2536.9 L355.2 2538.8 L360.4 2536.9 L363.5 2522.7 L367.5 2502.5 L370.6 2513.2 L374.1 2539.2 L377.2 2558.2 L380.0 2564.1 L384.8 2560.5 L389.5 2546.3 L393.1 2534.5 L396.6 2522.7 L401.4 2515.6 L404.4 2521.5 L408.5 2525.0 L412.0 2539.2 L415.6 2551.1 L419.1 2557.0 L422.7 2555.8 L426.2 2546.3 L429.8 2527.4 L433.3 2506.1 L436.9 2522.7 L440.9 2501.4 L443.3 2507.3 L447.0 2475.3 L449.9 2510.8 L452.7 2525.0 L454.6 2525.5 L457.5 2523.9 L460.5 2534.5 L464.1 2539.2 L467.6 2542.8 L469.9 2551.1 L471.8 2549.9 L474.7 2551.6 L477.8 2546.3 L480.8 2529.8 L484.1 2520.3 L487.9 2534.5 L490.3 2554.6 L493.1 2555.8 L496.7 2534.5 L499.8 2517.9 L502.1 2516.8 L505.0 2512.0 L507.3 2514.4 L509.7 2508.5 L512.1 2525.0 L514.9 2513.2 L518.0 2509.6 L522.7 2508.5 L525.1 2529.8 L528.2 2558.2 L531.5 2522.7 L535.3 2459.9 L537.7 2499.0 L542.9 2520.3 L545.7 2508.5 L548.8 2499.0 L551.9 2497.8 L554.7 2504.9 L556.6 2506.1 L559.4 2490.7 L561.8 2510.8 L564.2 2539.2 L569.4 2445.7 L572.5 2468.2 L576.0 2487.2 L578.4 2477.7 L580.3 2489.5 L582.6 2461.1 L585.5 2510.8 L589.0 2534.5 L592.1 2489.5 L594.5 2454.0 L597.3 2475.3 L600.9 2499.0 L602.5 2510.8 L607.3 2489.5 L610.3 2508.5 L613.4 2523.9 L617.4 2510.8 L621.0 2513.2 L624.5 2522.7 L628.6 2515.6 L632.3 2491.9 L634.0 2503.7 L637.6 2502.5 L641.1 2499.0 L644.7 2502.5 L648.7 2517.9 L650.6 2532.1 L654.1 2544.0 L658.9 2553.4 L663.1 2559.4 L667.1 2544.0 L671.9 2522.7 L676.6 2503.7 L679.7 2491.9 L682.5 2506.1 L684.9 2517.9 L688.5 2525.0 L692.0 2532.1 L695.1 2536.9 L697.9 2544.0 L701.5 2551.1 L706.2 2558.2 L710.9 2568.8 L747.1 2568.8 L750.7 2558.2 L755.4 2548.7 L760.1 2536.9 L764.9 2522.7 L769.6 2504.9 L773.1 2494.3 L776.7 2457.6 L780.7 2462.3 L783.8 2494.3 L787.3 2532.1 L790.9 2544.0 L794.5 2549.9 L800.4 2555.8 L805.1 2554.6 L811.0 2553.0 L816.9 2547.5 L822.9 2542.8 L827.6 2535.7 L832.3 2523.9 L835.9 2514.4 L837.5 2508.5 L843.0 2494.3 L846.5 2475.3 L848.4 2462.3 L850.1 2494.3 L852.5 2517.9 L854.8 2525.0 L857.7 2519.1 L859.6 2494.3 L863.1 2495.4 L866.7 2496.6 L870.7 2490.7 L873.8 2503.7 L877.3 2512.0 L880.9 2515.6 L884.4 2513.2 L888.0 2517.9 L890.3 2536.9 L893.9 2545.2 L898.6 2549.9 L903.4 2554.6 L908.1 2558.2 L911.6 2562.9 L915.2 2568.8 L959.0 2568.8 L961.4 2507.3 L964.4 2512.0 L967.3 2510.8 L970.8 2499.0 L973.2 2502.5 L975.6 2513.2 L979.1 2519.1 L982.0 2520.3 L985.0 2516.8 L986.7 2519.1 L989.1 2516.8 L992.1 2523.9 L995.7 2534.5 L998.0 2539.2 L1001.6 2541.6 L1004.0 2545.2 L1006.3 2549.9 L1009.9 2552.3 L1013.4 2546.3 L1015.8 2529.8 L1017.0 2512.0" fill="none" stroke="#ff5014" stroke-width="2.60" stroke-linejoin="miter" stroke-miterlimit="3" stroke-linecap="butt"/>
<path d="M188.3 2353.6 L189.5 2341.3 L193.0 2424.1 L196.6 2418.7 L199.4 2419.8 L202.0 2379.9 L206.0 2422.9 L209.6 2409.1 L214.3 2362.1 L216.7 2351.2 L219.8 2357.5 L222.1 2393.2 L226.2 2318.1 L228.1 2322.0 L229.2 2331.9 L230.9 2301.5 L232.6 2330.2 L235.2 2279.2 L238.0 2292.0 L241.6 2359.1 L243.9 2400.5 L245.8 2364.5 L248.7 2371.6 L251.0 2303.3 L252.9 2330.9 L254.6 2296.9 L256.9 2275.2 L259.3 2282.5 L261.7 2283.3 L264.8 2256.3 L268.1 2379.0 L271.1 2321.3 L274.7 2270.7 L277.1 2288.2 L281.3 2253.2 L286.1 2295.2 L291.3 2408.1 L294.3 2415.0 L297.2 2450.8 L300.7 2485.8 L303.1 2460.2 L305.5 2474.4 L309.0 2493.1 L310.7 2493.0 L314.9 2444.0 L318.5 2405.7 L320.9 2419.4 L324.4 2376.2 L328.7 2262.4 L329.1 2280.0 L331.5 2343.7 L335.1 2399.3 L338.1 2462.7 L339.8 2487.8 L341.0 2483.7 L343.4 2478.7 L345.7 2462.6 L348.6 2460.0 L352.3 2448.4 L355.2 2455.9 L357.6 2468.6 L360.4 2469.5 L363.5 2424.2 L367.0 2368.2 L367.5 2375.0 L370.6 2396.4 L374.1 2426.7 L377.2 2486.0 L380.0 2538.5 L384.8 2528.6 L389.5 2495.7 L393.1 2466.9 L396.6 2435.4 L400.9 2424.0 L401.4 2428.3 L404.4 2444.5 L408.5 2452.2 L412.0 2481.3 L415.6 2517.1 L419.1 2532.3 L421.5 2534.1 L422.7 2525.3 L426.2 2507.5 L429.8 2440.5 L433.3 2378.7 L436.9 2438.2 L440.9 2368.3 L443.3 2385.7 L447.0 2197.3 L449.9 2356.4 L452.7 2443.9 L454.6 2446.6 L457.5 2428.4 L460.5 2450.3 L464.1 2464.9 L467.6 2485.9 L469.9 2479.2 L471.8 2470.9 L474.7 2480.9 L477.8 2469.0 L480.8 2432.1 L484.1 2385.0 L487.9 2426.6 L490.3 2443.0 L492.0 2466.9 L493.1 2444.4 L495.0 2417.5 L496.7 2407.0 L499.8 2386.7 L502.1 2386.7 L505.0 2371.5 L507.3 2399.1 L508.5 2379.6 L509.7 2400.6 L512.1 2422.0 L514.9 2377.6 L518.0 2320.5 L520.4 2364.9 L522.7 2372.4 L525.1 2431.6 L528.2 2498.4 L528.7 2516.0 L531.5 2438.6 L535.0 2297.1 L535.3 2311.6 L537.7 2391.7 L542.9 2419.3 L545.7 2382.0 L548.8 2358.4 L551.9 2366.8 L554.2 2377.1 L554.7 2375.8 L556.6 2373.5 L559.4 2317.5 L561.8 2332.3 L564.2 2401.7 L569.4 2149.6 L572.5 2246.6 L576.0 2362.9 L578.4 2314.8 L579.6 2278.1 L580.3 2251.2 L582.6 2202.7 L585.5 2333.0 L589.0 2429.8 L592.1 2330.0 L594.5 2293.5 L597.3 2320.3 L600.9 2382.6 L602.5 2410.1 L607.3 2345.8 L610.3 2381.6 L613.4 2423.3 L615.1 2430.4 L617.4 2378.0 L621.0 2396.2 L622.9 2395.0 L624.5 2415.8 L628.6 2398.1 L632.3 2351.8 L634.0 2282.1 L635.9 2216.9 L637.6 2262.8 L638.7 2293.3 L641.1 2359.7 L642.3 2390.4 L644.7 2419.8 L645.8 2430.3 L648.7 2453.3 L650.6 2488.7 L654.1 2512.0 L658.9 2536.0 L663.1 2551.2 L667.1 2543.1 L671.9 2521.6 L676.6 2493.4 L679.7 2469.1 L680.9 2449.9 L682.5 2485.3 L684.9 2486.1 L688.5 2512.3 L692.0 2521.6 L695.1 2521.7 L697.9 2531.0 L701.5 2538.3 L706.2 2550.0 L710.9 2568.8 L747.1 2568.8 L750.7 2561.7 L755.4 2554.6 L760.1 2546.3 L764.9 2534.5 L769.6 2517.9 L773.1 2506.1 L776.7 2474.1 L780.7 2475.3 L783.8 2510.8 L787.3 2539.2 L790.9 2548.7 L794.5 2553.4 L800.4 2558.2 L805.1 2557.0 L811.0 2554.6 L816.9 2551.6 L822.9 2548.7 L827.6 2542.8 L832.3 2534.5 L835.9 2528.6 L839.4 2526.2 L843.0 2519.1 L846.5 2508.5 L848.4 2487.2 L850.1 2517.9 L852.5 2536.9 L854.8 2539.2 L857.7 2536.9 L859.6 2520.3 L863.1 2521.5 L866.7 2522.2 L870.7 2522.7 L873.8 2529.8 L877.3 2534.5 L880.9 2537.3 L884.4 2536.9 L888.0 2539.2 L890.3 2548.7 L893.9 2554.6 L898.6 2557.0 L903.4 2559.4 L908.1 2561.7 L911.6 2564.8 L915.2 2568.8 L959.0 2568.8 L961.4 2527.4 L964.4 2531.0 L967.3 2529.8 L970.8 2521.5 L973.2 2525.0 L975.6 2531.0 L979.1 2534.5 L982.0 2535.7 L985.0 2534.5 L989.1 2534.5 L992.1 2539.2 L995.7 2546.3 L998.0 2548.7 L1001.6 2549.9 L1004.0 2553.4 L1006.3 2557.0 L1009.9 2557.7 L1013.4 2553.4 L1015.8 2541.6 L1017.0 2532.1" fill="none" stroke="#ffac00" stroke-width="2.80" stroke-linejoin="miter" stroke-miterlimit="3" stroke-linecap="butt"/>
</g>
<rect x="188.3" y="1841.8" width="829.1" height="727.2" fill="none" stroke="#505050" stroke-width="1.7"/>
<text x="188.3" y="2615.7" text-anchor="middle" class="t">-2</text>
<path d="M291.9 2569.0 v-8.0 M291.9 1841.8 v8.0" stroke="#505050" stroke-width="1.4"/>
<text x="291.9" y="2615.7" text-anchor="middle" class="t">-1.5</text>
<path d="M395.6 2569.0 v-8.0 M395.6 1841.8 v8.0" stroke="#505050" stroke-width="1.4"/>
<text x="395.6" y="2615.7" text-anchor="middle" class="t">-1</text>
<path d="M499.2 2569.0 v-8.0 M499.2 1841.8 v8.0" stroke="#505050" stroke-width="1.4"/>
<text x="499.2" y="2615.7" text-anchor="middle" class="t">-0.5</text>
<path d="M602.8 2569.0 v-8.0 M602.8 1841.8 v8.0" stroke="#505050" stroke-width="1.4"/>
<text x="602.8" y="2615.7" text-anchor="middle" class="t">0</text>
<path d="M706.5 2569.0 v-8.0 M706.5 1841.8 v8.0" stroke="#505050" stroke-width="1.4"/>
<text x="706.5" y="2615.7" text-anchor="middle" class="t">0.5</text>
<path d="M810.1 2569.0 v-8.0 M810.1 1841.8 v8.0" stroke="#505050" stroke-width="1.4"/>
<text x="810.1" y="2615.7" text-anchor="middle" class="t">1</text>
<path d="M913.8 2569.0 v-8.0 M913.8 1841.8 v8.0" stroke="#505050" stroke-width="1.4"/>
<text x="913.8" y="2615.7" text-anchor="middle" class="t">1.5</text>
<text x="1017.4" y="2615.7" text-anchor="middle" class="t">2</text>
<text x="176.5" y="2582.6" text-anchor="end" class="t">0</text>
<path d="M188.3 2423.6 h8.0 M1017.4 2423.6 h-8.0" stroke="#505050" stroke-width="1.4"/>
<text x="176.5" y="2437.2" text-anchor="end" class="t">400</text>
<path d="M188.3 2278.1 h8.0 M1017.4 2278.1 h-8.0" stroke="#505050" stroke-width="1.4"/>
<text x="176.5" y="2291.7" text-anchor="end" class="t">800</text>
<path d="M188.3 2132.7 h8.0 M1017.4 2132.7 h-8.0" stroke="#505050" stroke-width="1.4"/>
<text x="176.5" y="2146.3" text-anchor="end" class="t">1200</text>
<path d="M188.3 1987.2 h8.0 M1017.4 1987.2 h-8.0" stroke="#505050" stroke-width="1.4"/>
<text x="176.5" y="2000.8" text-anchor="end" class="t">1600</text>
<text x="176.5" y="1855.4" text-anchor="end" class="t">2000</text>
<text x="601.9" y="2653.8" text-anchor="middle" class="xl">Energy(eV)</text>
<text transform="translate(82.6 2205.4) rotate(-90)" text-anchor="middle" class="yl">Density of States</text>
<text x="30.1" y="1849.7" class="pl">(e)</text>
<text x="581.8" y="1915.7" class="ti">Cd<tspan class="sub" dy="24.2">14</tspan><tspan dy="-24.2">S</tspan><tspan class="sub" dy="24.2">15</tspan></text>
<path d="M819.6 1875.1 h49" stroke="#0068bd" stroke-width="3"/>
<text x="873.6" y="1888.3" class="t">Total</text>
<path d="M819.6 1920.4 h49" stroke="#ff5014" stroke-width="3"/>
<text x="873.6" y="1933.6" class="t">Cd</text>
<path d="M819.6 1965.7 h49" stroke="#ffac00" stroke-width="3"/>
<text x="873.6" y="1978.9" class="t">S</text>
<rect x="248.4" y="1850.8" width="333.8" height="317.2" fill="#fff"/>
<g stroke-linecap="butt" filter="url(#bl1)">
<circle cx="361.0" cy="1960.0" r="11.7" fill="#0b0b0b"/>
<circle cx="438.2" cy="1955.0" r="12.9" fill="#0b0b0b"/>
<circle cx="549.8" cy="1955.0" r="12.9" fill="#0b0b0b"/>
<circle cx="346.5" cy="2053.0" r="12.9" fill="#0b0b0b"/>
<circle cx="304.6" cy="1910.8" r="12.9" fill="#0b0b0b"/>
<circle cx="494.0" cy="1906.4" r="11.7" fill="#0b0b0b"/>
<circle cx="400.9" cy="2005.4" r="11.7" fill="#0b0b0b"/>
<path d="M304.6 1910.8 L361.0 1960.0" stroke="#0b0b0b" stroke-width="12.2"/>
<path d="M304.6 1910.8 L332.8 1935.4" stroke="#ff1010" stroke-width="7.8"/>
<path d="M361.0 1960.0 L332.8 1935.4" stroke="#0e8020" stroke-width="7.8"/>
<path d="M336.8 1938.9 L332.8 1935.4" stroke="#22b23c" stroke-width="7.8"/>
<path d="M494.0 1906.4 L438.2 1955.0" stroke="#0b0b0b" stroke-width="12.2"/>
<path d="M494.0 1906.4 L466.1 1930.7" stroke="#ff1010" stroke-width="7.8"/>
<path d="M438.2 1955.0 L466.1 1930.7" stroke="#0e8020" stroke-width="7.8"/>
<path d="M462.2 1934.1 L466.1 1930.7" stroke="#22b23c" stroke-width="7.8"/>
<path d="M494.0 1906.4 L549.8 1955.0" stroke="#0b0b0b" stroke-width="12.2"/>
<path d="M494.0 1906.4 L521.9 1930.7" stroke="#ff1010" stroke-width="7.8"/>
<path d="M549.8 1955.0 L521.9 1930.7" stroke="#0e8020" stroke-width="7.8"/>
<path d="M525.8 1934.1 L521.9 1930.7" stroke="#22b23c" stroke-width="7.8"/>
<path d="M400.9 2005.4 L346.5 2053.0" stroke="#0b0b0b" stroke-width="12.2"/>
<path d="M400.9 2005.4 L373.7 2029.2" stroke="#ff1010" stroke-width="7.8"/>
<path d="M346.5 2053.0 L373.7 2029.2" stroke="#0e8020" stroke-width="7.8"/>
<path d="M369.9 2032.6 L373.7 2029.2" stroke="#22b23c" stroke-width="7.8"/>
<circle cx="376.5" cy="1864.4" r="12.9" fill="#0b0b0b"/>
<circle cx="454.3" cy="1860.8" r="12.9" fill="#0b0b0b"/>
<circle cx="283.5" cy="1962.9" r="12.9" fill="#0b0b0b"/>
<circle cx="472.9" cy="1958.6" r="11.7" fill="#0b0b0b"/>
<circle cx="268.4" cy="2057.4" r="12.9" fill="#0b0b0b"/>
<circle cx="379.4" cy="2057.4" r="11.7" fill="#0b0b0b"/>
<circle cx="457.3" cy="2053.7" r="11.7" fill="#0b0b0b"/>
<circle cx="568.9" cy="2053.7" r="12.9" fill="#0b0b0b"/>
<circle cx="364.5" cy="2152.2" r="12.9" fill="#0b0b0b"/>
<circle cx="475.3" cy="2152.2" r="12.9" fill="#0b0b0b"/>
<circle cx="338.1" cy="1915.1" r="12.9" fill="#0b0b0b"/>
<circle cx="416.3" cy="1910.8" r="11.7" fill="#0b0b0b"/>
<circle cx="527.4" cy="1910.8" r="12.9" fill="#0b0b0b"/>
<circle cx="323.4" cy="2009.4" r="11.7" fill="#0b0b0b"/>
<circle cx="434.7" cy="2009.4" r="12.9" fill="#0b0b0b"/>
<circle cx="512.5" cy="2005.4" r="11.7" fill="#0b0b0b"/>
<circle cx="308.7" cy="2103.7" r="11.7" fill="#0b0b0b"/>
<circle cx="342.2" cy="2108.1" r="12.9" fill="#0b0b0b"/>
<circle cx="419.3" cy="2103.7" r="11.7" fill="#0b0b0b"/>
<circle cx="497.0" cy="2100.1" r="12.9" fill="#0b0b0b"/>
<circle cx="530.5" cy="2103.7" r="12.9" fill="#0b0b0b"/>
<path d="M376.5 1864.4 L338.1 1915.1" stroke="#0b0b0b" stroke-width="12.2"/>
<path d="M376.5 1864.4 L357.3 1889.8" stroke="#0e8020" stroke-width="7.8"/>
<path d="M360.0 1886.2 L357.3 1889.8" stroke="#22b23c" stroke-width="7.8"/>
<path d="M338.1 1915.1 L357.3 1889.8" stroke="#ff1010" stroke-width="7.8"/>
<path d="M376.5 1864.4 L416.3 1910.8" stroke="#0b0b0b" stroke-width="12.2"/>
<path d="M376.5 1864.4 L396.4 1887.6" stroke="#0e8020" stroke-width="7.8"/>
<path d="M393.6 1884.3 L396.4 1887.6" stroke="#22b23c" stroke-width="7.8"/>
<path d="M416.3 1910.8 L396.4 1887.6" stroke="#ff1010" stroke-width="7.8"/>
<path d="M454.3 1860.8 L416.3 1910.8" stroke="#0b0b0b" stroke-width="12.2"/>
<path d="M454.3 1860.8 L435.3 1885.8" stroke="#0e8020" stroke-width="7.8"/>
<path d="M438.0 1882.3 L435.3 1885.8" stroke="#22b23c" stroke-width="7.8"/>
<path d="M416.3 1910.8 L435.3 1885.8" stroke="#ff1010" stroke-width="7.8"/>
<path d="M454.3 1860.8 L494.0 1906.4" stroke="#0b0b0b" stroke-width="12.2"/>
<path d="M454.3 1860.8 L474.1 1883.6" stroke="#0e8020" stroke-width="7.8"/>
<path d="M471.4 1880.4 L474.1 1883.6" stroke="#22b23c" stroke-width="7.8"/>
<path d="M494.0 1906.4 L474.1 1883.6" stroke="#ff1010" stroke-width="7.8"/>
<path d="M338.1 1915.1 L283.5 1962.9" stroke="#0b0b0b" stroke-width="12.2"/>
<path d="M338.1 1915.1 L310.8 1939.0" stroke="#ff1010" stroke-width="7.8"/>
<path d="M283.5 1962.9 L310.8 1939.0" stroke="#0e8020" stroke-width="7.8"/>
<path d="M307.0 1942.4 L310.8 1939.0" stroke="#22b23c" stroke-width="7.8"/>
<path d="M416.3 1910.8 L361.0 1960.0" stroke="#0b0b0b" stroke-width="12.2"/>
<path d="M416.3 1910.8 L388.7 1935.4" stroke="#ff1010" stroke-width="7.8"/>
<path d="M361.0 1960.0 L388.7 1935.4" stroke="#0e8020" stroke-width="7.8"/>
<path d="M384.8 1938.9 L388.7 1935.4" stroke="#22b23c" stroke-width="7.8"/>
<path d="M416.3 1910.8 L472.9 1958.6" stroke="#0b0b0b" stroke-width="12.2"/>
<path d="M416.3 1910.8 L444.6 1934.7" stroke="#ff1010" stroke-width="7.8"/>
<path d="M472.9 1958.6 L444.6 1934.7" stroke="#0e8020" stroke-width="7.8"/>
<path d="M448.6 1938.0 L444.6 1934.7" stroke="#22b23c" stroke-width="7.8"/>
<path d="M527.4 1910.8 L472.9 1958.6" stroke="#0b0b0b" stroke-width="12.2"/>
<path d="M527.4 1910.8 L500.1 1934.7" stroke="#ff1010" stroke-width="7.8"/>
<path d="M472.9 1958.6 L500.1 1934.7" stroke="#0e8020" stroke-width="7.8"/>
<path d="M496.3 1938.0 L500.1 1934.7" stroke="#22b23c" stroke-width="7.8"/>
<path d="M283.5 1962.9 L323.4 2009.4" stroke="#0b0b0b" stroke-width="12.2"/>
<path d="M283.5 1962.9 L303.5 1986.2" stroke="#0e8020" stroke-width="7.8"/>
<path d="M300.7 1982.9 L303.5 1986.2" stroke="#22b23c" stroke-width="7.8"/>
<path d="M323.4 2009.4 L303.5 1986.2" stroke="#ff1010" stroke-width="7.8"/>
<path d="M361.0 1960.0 L323.4 2009.4" stroke="#0b0b0b" stroke-width="12.2"/>
<path d="M361.0 1960.0 L342.2 1984.7" stroke="#0e8020" stroke-width="7.8"/>
<path d="M344.8 1981.3 L342.2 1984.7" stroke="#22b23c" stroke-width="7.8"/>
<path d="M323.4 2009.4 L342.2 1984.7" stroke="#ff1010" stroke-width="7.8"/>
<path d="M361.0 1960.0 L400.9 2005.4" stroke="#0b0b0b" stroke-width="12.2"/>
<path d="M361.0 1960.0 L381.0 1982.7" stroke="#0e8020" stroke-width="7.8"/>
<path d="M378.2 1979.6 L381.0 1982.7" stroke="#22b23c" stroke-width="7.8"/>
<path d="M400.9 2005.4 L381.0 1982.7" stroke="#ff1010" stroke-width="7.8"/>
<path d="M438.2 1955.0 L400.9 2005.4" stroke="#0b0b0b" stroke-width="12.2"/>
<path d="M438.2 1955.0 L419.5 1980.2" stroke="#0e8020" stroke-width="7.8"/>
<path d="M422.1 1976.7 L419.5 1980.2" stroke="#22b23c" stroke-width="7.8"/>
<path d="M400.9 2005.4 L419.5 1980.2" stroke="#ff1010" stroke-width="7.8"/>
<path d="M472.9 1958.6 L434.7 2009.4" stroke="#0b0b0b" stroke-width="12.2"/>
<path d="M472.9 1958.6 L453.8 1984.0" stroke="#0e8020" stroke-width="7.8"/>
<path d="M456.5 1980.4 L453.8 1984.0" stroke="#22b23c" stroke-width="7.8"/>
<path d="M434.7 2009.4 L453.8 1984.0" stroke="#ff1010" stroke-width="7.8"/>
<path d="M472.9 1958.6 L512.5 2005.4" stroke="#0b0b0b" stroke-width="12.2"/>
<path d="M472.9 1958.6 L492.7 1982.0" stroke="#0e8020" stroke-width="7.8"/>
<path d="M489.9 1978.7 L492.7 1982.0" stroke="#22b23c" stroke-width="7.8"/>
<path d="M512.5 2005.4 L492.7 1982.0" stroke="#ff1010" stroke-width="7.8"/>
<path d="M549.8 1955.0 L512.5 2005.4" stroke="#0b0b0b" stroke-width="12.2"/>
<path d="M549.8 1955.0 L531.2 1980.2" stroke="#0e8020" stroke-width="7.8"/>
<path d="M533.8 1976.7 L531.2 1980.2" stroke="#22b23c" stroke-width="7.8"/>
<path d="M512.5 2005.4 L531.2 1980.2" stroke="#ff1010" stroke-width="7.8"/>
<path d="M323.4 2009.4 L268.4 2057.4" stroke="#0b0b0b" stroke-width="12.2"/>
<path d="M323.4 2009.4 L295.9 2033.4" stroke="#ff1010" stroke-width="7.8"/>
<path d="M268.4 2057.4 L295.9 2033.4" stroke="#0e8020" stroke-width="7.8"/>
<path d="M292.0 2036.7 L295.9 2033.4" stroke="#22b23c" stroke-width="7.8"/>
<path d="M323.4 2009.4 L379.4 2057.4" stroke="#0b0b0b" stroke-width="12.2"/>
<path d="M323.4 2009.4 L351.4 2033.4" stroke="#ff1010" stroke-width="7.8"/>
<path d="M379.4 2057.4 L351.4 2033.4" stroke="#0e8020" stroke-width="7.8"/>
<path d="M355.3 2036.7 L351.4 2033.4" stroke="#22b23c" stroke-width="7.8"/>
<path d="M400.9 2005.4 L457.3 2053.7" stroke="#0b0b0b" stroke-width="12.2"/>
<path d="M400.9 2005.4 L429.1 2029.6" stroke="#ff1010" stroke-width="7.8"/>
<path d="M457.3 2053.7 L429.1 2029.6" stroke="#0e8020" stroke-width="7.8"/>
<path d="M433.0 2033.0 L429.1 2029.6" stroke="#22b23c" stroke-width="7.8"/>
<path d="M434.7 2009.4 L379.4 2057.4" stroke="#0b0b0b" stroke-width="12.2"/>
<path d="M434.7 2009.4 L407.0 2033.4" stroke="#ff1010" stroke-width="7.8"/>
<path d="M379.4 2057.4 L407.0 2033.4" stroke="#0e8020" stroke-width="7.8"/>
<path d="M403.2 2036.7 L407.0 2033.4" stroke="#22b23c" stroke-width="7.8"/>
<path d="M512.5 2005.4 L457.3 2053.7" stroke="#0b0b0b" stroke-width="12.2"/>
<path d="M512.5 2005.4 L484.9 2029.6" stroke="#ff1010" stroke-width="7.8"/>
<path d="M457.3 2053.7 L484.9 2029.6" stroke="#0e8020" stroke-width="7.8"/>
<path d="M481.0 2033.0 L484.9 2029.6" stroke="#22b23c" stroke-width="7.8"/>
<path d="M512.5 2005.4 L568.9 2053.7" stroke="#0b0b0b" stroke-width="12.2"/>
<path d="M512.5 2005.4 L540.7 2029.6" stroke="#ff1010" stroke-width="7.8"/>
<path d="M568.9 2053.7 L540.7 2029.6" stroke="#0e8020" stroke-width="7.8"/>
<path d="M544.6 2033.0 L540.7 2029.6" stroke="#22b23c" stroke-width="7.8"/>
<path d="M268.4 2057.4 L308.7 2103.7" stroke="#0b0b0b" stroke-width="12.2"/>
<path d="M268.4 2057.4 L288.5 2080.5" stroke="#0e8020" stroke-width="7.8"/>
<path d="M285.7 2077.3 L288.5 2080.5" stroke="#22b23c" stroke-width="7.8"/>
<path d="M308.7 2103.7 L288.5 2080.5" stroke="#ff1010" stroke-width="7.8"/>
<path d="M346.5 2053.0 L308.7 2103.7" stroke="#0b0b0b" stroke-width="12.2"/>
<path d="M346.5 2053.0 L327.6 2078.4" stroke="#0e8020" stroke-width="7.8"/>
<path d="M330.2 2074.8 L327.6 2078.4" stroke="#22b23c" stroke-width="7.8"/>
<path d="M308.7 2103.7 L327.6 2078.4" stroke="#ff1010" stroke-width="7.8"/>
<path d="M379.4 2057.4 L342.2 2108.1" stroke="#0b0b0b" stroke-width="12.2"/>
<path d="M379.4 2057.4 L360.8 2082.7" stroke="#0e8020" stroke-width="7.8"/>
<path d="M363.4 2079.2 L360.8 2082.7" stroke="#22b23c" stroke-width="7.8"/>
<path d="M342.2 2108.1 L360.8 2082.7" stroke="#ff1010" stroke-width="7.8"/>
<path d="M379.4 2057.4 L419.3 2103.7" stroke="#0b0b0b" stroke-width="12.2"/>
<path d="M379.4 2057.4 L399.3 2080.5" stroke="#0e8020" stroke-width="7.8"/>
<path d="M396.5 2077.3 L399.3 2080.5" stroke="#22b23c" stroke-width="7.8"/>
<path d="M419.3 2103.7 L399.3 2080.5" stroke="#ff1010" stroke-width="7.8"/>
<path d="M457.3 2053.7 L419.3 2103.7" stroke="#0b0b0b" stroke-width="12.2"/>
<path d="M457.3 2053.7 L438.3 2078.7" stroke="#0e8020" stroke-width="7.8"/>
<path d="M440.9 2075.2 L438.3 2078.7" stroke="#22b23c" stroke-width="7.8"/>
<path d="M419.3 2103.7 L438.3 2078.7" stroke="#ff1010" stroke-width="7.8"/>
<path d="M457.3 2053.7 L497.0 2100.1" stroke="#0b0b0b" stroke-width="12.2"/>
<path d="M457.3 2053.7 L477.1 2076.9" stroke="#0e8020" stroke-width="7.8"/>
<path d="M474.3 2073.7 L477.1 2076.9" stroke="#22b23c" stroke-width="7.8"/>
<path d="M497.0 2100.1 L477.1 2076.9" stroke="#ff1010" stroke-width="7.8"/>
<path d="M568.9 2053.7 L530.5 2103.7" stroke="#0b0b0b" stroke-width="12.2"/>
<path d="M568.9 2053.7 L549.7 2078.7" stroke="#0e8020" stroke-width="7.8"/>
<path d="M552.4 2075.2 L549.7 2078.7" stroke="#22b23c" stroke-width="7.8"/>
<path d="M530.5 2103.7 L549.7 2078.7" stroke="#ff1010" stroke-width="7.8"/>
<path d="M308.7 2103.7 L364.5 2152.2" stroke="#0b0b0b" stroke-width="12.2"/>
<path d="M308.7 2103.7 L336.6 2128.0" stroke="#ff1010" stroke-width="7.8"/>
<path d="M364.5 2152.2 L336.6 2128.0" stroke="#0e8020" stroke-width="7.8"/>
<path d="M340.5 2131.4 L336.6 2128.0" stroke="#22b23c" stroke-width="7.8"/>
<path d="M419.3 2103.7 L364.5 2152.2" stroke="#0b0b0b" stroke-width="12.2"/>
<path d="M419.3 2103.7 L391.9 2128.0" stroke="#ff1010" stroke-width="7.8"/>
<path d="M364.5 2152.2 L391.9 2128.0" stroke="#0e8020" stroke-width="7.8"/>
<path d="M388.1 2131.4 L391.9 2128.0" stroke="#22b23c" stroke-width="7.8"/>
<path d="M419.3 2103.7 L475.3 2152.2" stroke="#0b0b0b" stroke-width="12.2"/>
<path d="M419.3 2103.7 L447.3 2128.0" stroke="#ff1010" stroke-width="7.8"/>
<path d="M475.3 2152.2 L447.3 2128.0" stroke="#0e8020" stroke-width="7.8"/>
<path d="M451.2 2131.4 L447.3 2128.0" stroke="#22b23c" stroke-width="7.8"/>
<path d="M530.5 2103.7 L475.3 2152.2" stroke="#0b0b0b" stroke-width="12.2"/>
<path d="M530.5 2103.7 L502.9 2128.0" stroke="#ff1010" stroke-width="7.8"/>
<path d="M475.3 2152.2 L502.9 2128.0" stroke="#0e8020" stroke-width="7.8"/>
<path d="M499.0 2131.4 L502.9 2128.0" stroke="#22b23c" stroke-width="7.8"/>
<circle cx="361.0" cy="1960.0" r="9.5" fill="url(#gg)"/>
<circle cx="472.9" cy="1958.6" r="9.5" fill="url(#gg)"/>
<circle cx="379.4" cy="2057.4" r="9.5" fill="url(#gg)"/>
<circle cx="457.3" cy="2053.7" r="9.5" fill="url(#gg)"/>
<circle cx="416.3" cy="1910.8" r="9.5" fill="url(#gr)"/>
<circle cx="494.0" cy="1906.4" r="9.5" fill="url(#gr)"/>
<circle cx="323.4" cy="2009.4" r="9.5" fill="url(#gr)"/>
<circle cx="400.9" cy="2005.4" r="9.5" fill="url(#gr)"/>
<circle cx="512.5" cy="2005.4" r="9.5" fill="url(#gr)"/>
<circle cx="308.7" cy="2103.7" r="9.5" fill="url(#gr)"/>
<circle cx="419.3" cy="2103.7" r="9.5" fill="url(#gr)"/>
<circle cx="376.5" cy="1864.4" r="10.7" fill="url(#gg)"/>
<circle cx="454.3" cy="1860.8" r="10.7" fill="url(#gg)"/>
<circle cx="283.5" cy="1962.9" r="10.7" fill="url(#gg)"/>
<circle cx="438.2" cy="1955.0" r="10.7" fill="url(#gg)"/>
<circle cx="549.8" cy="1955.0" r="10.7" fill="url(#gg)"/>
<circle cx="268.4" cy="2057.4" r="10.7" fill="url(#gg)"/>
<circle cx="346.5" cy="2053.0" r="10.7" fill="url(#gg)"/>
<circle cx="568.9" cy="2053.7" r="10.7" fill="url(#gg)"/>
<circle cx="364.5" cy="2152.2" r="10.7" fill="url(#gg)"/>
<circle cx="475.3" cy="2152.2" r="10.7" fill="url(#gg)"/>
<circle cx="304.6" cy="1910.8" r="10.7" fill="url(#gr)"/>
<circle cx="338.1" cy="1915.1" r="10.7" fill="url(#gr)"/>
<circle cx="527.4" cy="1910.8" r="10.7" fill="url(#gr)"/>
<circle cx="434.7" cy="2009.4" r="10.7" fill="url(#gr)"/>
<circle cx="342.2" cy="2108.1" r="10.7" fill="url(#gr)"/>
<circle cx="497.0" cy="2100.1" r="10.7" fill="url(#gr)"/>
<circle cx="530.5" cy="2103.7" r="10.7" fill="url(#gr)"/>
<circle cx="412.7" cy="2000.1" r="12.9" fill="#0b0b0b"/>
<circle cx="412.7" cy="2000.1" r="10.7" fill="url(#gg)"/>
</g>
<clipPath id="cpf"><rect x="1257.8" y="1841.8" width="832.7" height="729.2"/></clipPath>
<g clip-path="url(#cpf)">
<path d="M1259.8 2342.7 L1260.9 2295.4 L1265.2 2295.4 L1268.8 2409.0 L1272.3 2277.6 L1277.0 2404.3 L1281.3 2392.5 L1285.3 2192.4 L1290.1 2224.4 L1294.3 2418.5 L1298.3 2345.1 L1301.9 2278.8 L1305.9 2392.5 L1310.2 2437.4 L1314.4 2326.2 L1318.5 2314.3 L1323.2 2312.0 L1327.2 2293.0 L1331.5 2323.8 L1335.8 2423.2 L1339.8 2345.1 L1343.8 2250.4 L1348.1 2211.4 L1352.3 2321.4 L1356.4 2425.6 L1359.9 2444.5 L1364.2 2456.4 L1368.2 2463.5 L1372.2 2469.4 L1376.5 2392.5 L1381.2 2313.2 L1385.5 2368.8 L1389.0 2425.6 L1392.6 2342.7 L1396.6 2366.4 L1402.0 2394.8 L1406.1 2475.3 L1409.6 2510.8 L1414.4 2512.0 L1417.9 2499.0 L1421.5 2480.1 L1425.7 2438.6 L1430.9 2430.3 L1435.2 2446.9 L1439.2 2465.9 L1443.2 2510.8 L1447.5 2553.4 L1451.8 2549.9 L1455.8 2539.2 L1460.5 2527.4 L1465.3 2517.9 L1470.0 2494.3 L1474.7 2470.6 L1479.5 2449.3 L1484.2 2418.5 L1488.9 2416.1 L1493.0 2487.2 L1497.2 2523.9 L1500.8 2487.2 L1504.8 2461.1 L1509.0 2454.0 L1513.8 2407.9 L1517.3 2477.7 L1522.1 2483.6 L1525.6 2429.2 L1529.9 2446.9 L1535.1 2446.9 L1543.3 2425.6 L1547.1 2409.0 L1551.1 2407.9 L1555.1 2430.3 L1558.9 2413.8 L1563.0 2418.5 L1567.7 2378.3 L1571.7 2527.4 L1576.0 2463.5 L1579.5 2416.1 L1584.3 2362.9 L1589.0 2406.7 L1593.0 2425.6 L1597.3 2435.1 L1600.8 2423.2 L1604.9 2343.9 L1609.1 2428.0 L1612.7 2484.8 L1617.4 2470.6 L1621.0 2416.1 L1625.7 2358.1 L1630.4 2355.8 L1634.7 2439.8 L1638.0 2508.5 L1641.8 1854.8 L1646.5 2468.2 L1655.3 2114.3 L1663.1 2457.6 L1667.8 2168.7 L1671.2 2347.5 L1675.9 2333.3 L1679.4 2197.1 L1683.7 2323.8 L1689.1 2316.7 L1692.0 2059.8 L1696.7 2457.6 L1700.3 2328.5 L1704.3 2361.7 L1709.0 2320.3 L1712.8 2499.0 L1718.0 2534.5 L1722.8 2568.8 L1777.2 2568.8 L1781.9 2562.9 L1786.7 2553.4 L1791.4 2529.8 L1796.2 2487.2 L1800.9 2444.5 L1805.1 2392.5 L1808.5 2333.3 L1813.1 2439.4 L1818.1 2522.6 L1823.1 2555.9 L1828.1 2565.9 L1836.4 2568.6 L1853.0 2565.9 L1859.7 2557.6 L1866.4 2550.9 L1873.0 2539.3 L1879.7 2509.3 L1886.3 2472.7 L1891.3 2447.7 L1895.7 2441.7 L1899.7 2451.1 L1904.6 2499.3 L1909.6 2542.6 L1913.0 2562.6 L1917.0 2559.2 L1920.6 2489.3 L1924.6 2409.4 L1928.9 2375.5 L1932.9 2422.8 L1937.9 2479.3 L1942.3 2496.0 L1946.3 2539.3 L1950.3 2560.9 L1954.6 2568.6 L1992.9 2568.6 L1997.9 2552.6 L2002.8 2522.6 L2007.8 2489.3 L2012.8 2466.0 L2018.8 2459.4 L2024.5 2467.7 L2029.5 2489.3 L2034.5 2509.3 L2041.1 2535.9 L2046.1 2555.9 L2053.4 2565.9 L2059.4 2552.6 L2066.1 2522.6 L2071.1 2489.3 L2074.4 2470.0 L2078.7 2517.6 L2088.5 2510.0" fill="none" stroke="#0068bd" stroke-width="3.20" stroke-linejoin="miter" stroke-miterlimit="3" stroke-linecap="butt"/>
<path d="M1259.8 2410.4 L1260.9 2378.5 L1265.2 2377.2 L1268.8 2454.1 L1272.3 2356.1 L1277.0 2445.1 L1281.3 2437.6 L1285.3 2290.7 L1290.1 2312.2 L1294.3 2454.6 L1298.3 2401.6 L1301.9 2339.4 L1305.9 2431.1 L1310.2 2464.5 L1314.4 2371.2 L1318.5 2360.1 L1323.2 2344.1 L1327.2 2334.7 L1331.5 2363.2 L1335.8 2447.5 L1339.8 2383.9 L1343.8 2301.5 L1348.1 2276.2 L1352.3 2360.2 L1356.4 2453.2 L1359.9 2468.4 L1364.2 2479.1 L1368.2 2485.0 L1372.2 2490.9 L1376.5 2433.7 L1381.2 2372.6 L1385.5 2413.2 L1389.0 2459.8 L1392.6 2397.5 L1396.6 2415.1 L1402.0 2431.6 L1406.1 2495.9 L1409.6 2523.9 L1414.4 2526.3 L1417.9 2516.9 L1421.5 2502.4 L1425.7 2473.2 L1430.9 2467.2 L1435.2 2479.1 L1439.2 2493.2 L1443.2 2522.6 L1447.5 2557.2 L1451.8 2555.9 L1455.8 2547.7 L1460.5 2538.3 L1465.3 2530.9 L1470.0 2513.3 L1474.7 2495.7 L1479.5 2478.8 L1484.2 2456.5 L1488.9 2456.5 L1493.0 2511.3 L1497.2 2537.0 L1500.8 2509.6 L1504.8 2490.9 L1509.0 2485.0 L1513.8 2447.3 L1517.3 2499.8 L1522.1 2503.5 L1525.6 2460.4 L1529.9 2479.0 L1535.1 2480.2 L1543.3 2460.1 L1547.1 2445.9 L1551.1 2444.7 L1555.1 2465.8 L1558.9 2454.3 L1563.0 2464.6 L1567.7 2438.9 L1571.2 2519.6 L1571.7 2538.9 L1576.0 2488.3 L1579.5 2446.3 L1584.3 2407.1 L1589.0 2438.8 L1593.0 2450.6 L1597.3 2456.5 L1600.8 2449.5 L1604.9 2386.1 L1609.1 2452.6 L1612.7 2497.9 L1617.4 2486.2 L1621.0 2443.1 L1625.7 2395.0 L1630.4 2390.3 L1634.7 2460.2 L1638.0 2519.1 L1641.8 1999.0 L1642.3 2079.1 L1646.5 2482.0 L1655.3 2250.9 L1663.1 2494.4 L1667.8 2319.4 L1671.2 2439.0 L1675.9 2457.4 L1679.4 2362.9 L1683.7 2438.8 L1688.4 2418.6 L1689.1 2435.3 L1692.0 2257.0 L1692.7 2334.1 L1696.7 2481.9 L1700.3 2367.9 L1704.3 2384.3 L1709.0 2331.4 L1712.8 2500.7 L1718.0 2534.5 L1722.8 2569.0 L1777.2 2569.0 L1781.9 2566.7 L1786.7 2564.2 L1791.4 2554.8 L1796.2 2535.6 L1800.9 2514.5 L1805.1 2486.5 L1808.5 2458.2 L1813.1 2509.3 L1818.1 2549.3 L1823.1 2564.2 L1828.1 2568.2 L1853.0 2568.2 L1859.7 2565.2 L1866.4 2560.9 L1873.0 2555.9 L1879.7 2542.6 L1886.3 2529.3 L1891.3 2519.3 L1895.7 2516.0 L1899.7 2522.6 L1904.6 2542.6 L1909.6 2560.9 L1913.0 2566.9 L1917.0 2565.9 L1920.6 2535.9 L1924.6 2509.3 L1928.9 2492.7 L1932.9 2509.3 L1937.9 2529.3 L1942.3 2539.3 L1946.3 2557.6 L1950.3 2566.6 L1954.6 2569.0 L1992.9 2569.0 L1997.9 2562.6 L2002.8 2552.6 L2007.8 2539.3 L2012.8 2530.9 L2018.8 2527.6 L2024.5 2532.6 L2029.5 2540.9 L2034.5 2547.6 L2041.1 2557.6 L2046.1 2564.2 L2053.4 2568.6 L2059.4 2563.2 L2066.1 2552.6 L2071.1 2542.6 L2074.4 2534.3 L2078.7 2552.6 L2088.5 2548.6" fill="none" stroke="#ff5014" stroke-width="2.60" stroke-linejoin="miter" stroke-miterlimit="3" stroke-linecap="butt"/>
<path d="M1259.8 2501.4 L1260.9 2487.2 L1265.2 2487.2 L1268.8 2522.7 L1272.3 2490.7 L1277.0 2527.4 L1281.3 2523.9 L1285.3 2471.8 L1290.1 2482.4 L1294.3 2532.1 L1298.3 2513.2 L1301.9 2508.5 L1305.9 2529.8 L1310.2 2541.6 L1314.4 2525.0 L1318.5 2523.1 L1323.2 2536.9 L1327.2 2527.4 L1331.5 2529.8 L1335.8 2544.0 L1339.8 2529.8 L1343.8 2517.9 L1348.1 2504.9 L1352.3 2529.8 L1356.4 2541.6 L1359.9 2545.2 L1364.2 2546.3 L1368.2 2547.5 L1372.2 2547.5 L1376.5 2527.4 L1381.2 2509.6 L1385.5 2525.0 L1389.0 2534.5 L1392.6 2514.4 L1396.6 2520.3 L1402.0 2532.1 L1406.1 2548.7 L1409.6 2555.8 L1414.4 2554.6 L1417.9 2551.1 L1421.5 2546.3 L1425.7 2534.5 L1430.9 2532.1 L1435.2 2536.9 L1439.2 2541.6 L1443.2 2557.0 L1447.5 2565.3 L1451.8 2562.9 L1455.8 2560.5 L1460.5 2558.2 L1465.3 2555.8 L1470.0 2549.9 L1474.7 2544.0 L1479.5 2539.2 L1484.2 2531.0 L1488.9 2528.6 L1493.0 2545.2 L1497.2 2555.8 L1500.8 2546.3 L1504.8 2539.2 L1509.0 2538.1 L1513.8 2529.8 L1517.3 2546.3 L1522.1 2548.7 L1525.6 2538.1 L1529.9 2536.9 L1535.1 2535.7 L1543.3 2534.5 L1547.1 2532.1 L1551.1 2532.1 L1555.1 2533.3 L1558.9 2528.6 L1563.0 2522.7 L1567.7 2508.5 L1571.2 2558.2 L1576.0 2544.0 L1579.5 2539.2 L1584.3 2525.0 L1589.0 2536.9 L1593.0 2544.0 L1597.3 2547.5 L1600.8 2542.8 L1604.9 2527.4 L1609.1 2544.0 L1612.7 2555.8 L1617.4 2553.4 L1621.0 2541.6 L1625.7 2532.1 L1630.4 2534.5 L1634.7 2548.7 L1638.0 2558.2 L1642.3 2409.0 L1646.5 2552.3 L1655.3 2432.7 L1663.1 2532.1 L1667.8 2419.7 L1671.2 2477.7 L1675.9 2444.5 L1679.4 2404.3 L1683.7 2454.0 L1688.4 2468.2 L1692.7 2354.6 L1696.7 2544.0 L1700.3 2529.8 L1704.3 2546.3 L1709.0 2558.2 L1712.8 2566.5 L1718.0 2568.8 L1722.8 2568.8 L1777.2 2568.8 L1781.9 2565.3 L1786.7 2558.2 L1791.4 2544.0 L1796.2 2520.3 L1800.9 2499.0 L1805.1 2475.3 L1808.5 2444.5 L1813.1 2496.0 L1818.1 2542.6 L1823.1 2562.6 L1828.1 2567.6 L1853.0 2567.6 L1859.7 2562.6 L1866.4 2557.6 L1873.0 2549.3 L1879.7 2532.6 L1886.3 2511.0 L1891.3 2497.7 L1895.7 2493.7 L1899.7 2501.0 L1904.6 2529.3 L1909.6 2555.9 L1913.0 2565.9 L1917.0 2564.2 L1920.6 2522.6 L1924.6 2476.0 L1928.9 2451.1 L1932.9 2479.3 L1937.9 2512.6 L1942.3 2526.0 L1946.3 2552.6 L1950.3 2565.2 L1954.6 2569.0 L1992.9 2569.0 L1997.9 2559.2 L2002.8 2539.3 L2007.8 2519.3 L2012.8 2504.3 L2018.8 2499.3 L2024.5 2506.0 L2029.5 2521.0 L2034.5 2532.6 L2041.1 2549.3 L2046.1 2560.9 L2053.4 2567.6 L2059.4 2559.2 L2066.1 2539.3 L2071.1 2519.3 L2074.4 2504.3 L2078.7 2534.3 L2088.5 2529.9" fill="none" stroke="#ffac00" stroke-width="2.80" stroke-linejoin="miter" stroke-miterlimit="3" stroke-linecap="butt"/>
</g>
<rect x="1259.8" y="1841.8" width="828.7" height="727.2" fill="none" stroke="#505050" stroke-width="1.7"/>
<text x="1259.8" y="2615.7" text-anchor="middle" class="t">-2</text>
<path d="M1363.4 2569.0 v-8.0 M1363.4 1841.8 v8.0" stroke="#505050" stroke-width="1.4"/>
<text x="1363.4" y="2615.7" text-anchor="middle" class="t">-1.5</text>
<path d="M1467.0 2569.0 v-8.0 M1467.0 1841.8 v8.0" stroke="#505050" stroke-width="1.4"/>
<text x="1467.0" y="2615.7" text-anchor="middle" class="t">-1</text>
<path d="M1570.6 2569.0 v-8.0 M1570.6 1841.8 v8.0" stroke="#505050" stroke-width="1.4"/>
<text x="1570.6" y="2615.7" text-anchor="middle" class="t">-0.5</text>
<path d="M1674.2 2569.0 v-8.0 M1674.2 1841.8 v8.0" stroke="#505050" stroke-width="1.4"/>
<text x="1674.2" y="2615.7" text-anchor="middle" class="t">0</text>
<path d="M1777.7 2569.0 v-8.0 M1777.7 1841.8 v8.0" stroke="#505050" stroke-width="1.4"/>
<text x="1777.7" y="2615.7" text-anchor="middle" class="t">0.5</text>
<path d="M1881.3 2569.0 v-8.0 M1881.3 1841.8 v8.0" stroke="#505050" stroke-width="1.4"/>
<text x="1881.3" y="2615.7" text-anchor="middle" class="t">1</text>
<path d="M1984.9 2569.0 v-8.0 M1984.9 1841.8 v8.0" stroke="#505050" stroke-width="1.4"/>
<text x="1984.9" y="2615.7" text-anchor="middle" class="t">1.5</text>
<text x="2088.5" y="2615.7" text-anchor="middle" class="t">2</text>
<text x="1248.0" y="2582.6" text-anchor="end" class="t">0</text>
<path d="M1259.8 2423.6 h8.0 M2088.5 2423.6 h-8.0" stroke="#505050" stroke-width="1.4"/>
<text x="1248.0" y="2437.2" text-anchor="end" class="t">500</text>
<path d="M1259.8 2278.1 h8.0 M2088.5 2278.1 h-8.0" stroke="#505050" stroke-width="1.4"/>
<text x="1248.0" y="2291.7" text-anchor="end" class="t">1000</text>
<path d="M1259.8 2132.7 h8.0 M2088.5 2132.7 h-8.0" stroke="#505050" stroke-width="1.4"/>
<text x="1248.0" y="2146.3" text-anchor="end" class="t">1500</text>
<path d="M1259.8 1987.2 h8.0 M2088.5 1987.2 h-8.0" stroke="#505050" stroke-width="1.4"/>
<text x="1248.0" y="2000.8" text-anchor="end" class="t">2000</text>
<text x="1248.0" y="1855.4" text-anchor="end" class="t">2500</text>
<text x="1673.2" y="2653.8" text-anchor="middle" class="xl">Energy(eV)</text>
<text transform="translate(1154.1 2205.4) rotate(-90)" text-anchor="middle" class="yl">Density of States</text>
<text x="1098.7" y="1849.0" class="pl">(f)</text>
<text x="1657.8" y="1925.6" class="ti">Cd<tspan class="sub" dy="24.2">15</tspan><tspan dy="-24.2">S</tspan><tspan class="sub" dy="24.2">14</tspan></text>
<path d="M1891.1 1875.1 h49" stroke="#0068bd" stroke-width="3"/>
<text x="1945.1" y="1888.3" class="t">Total</text>
<path d="M1891.1 1920.4 h49" stroke="#ff5014" stroke-width="3"/>
<text x="1945.1" y="1933.6" class="t">S</text>
<path d="M1891.1 1965.7 h49" stroke="#ffac00" stroke-width="3"/>
<text x="1945.1" y="1978.9" class="t">Cd</text>
<rect x="1292.8" y="1850.8" width="333.8" height="317.2" fill="#fff"/>
<g stroke-linecap="butt" filter="url(#bl1)">
<circle cx="1405.4" cy="1960.0" r="11.7" fill="#0b0b0b"/>
<circle cx="1482.6" cy="1955.0" r="12.9" fill="#0b0b0b"/>
<circle cx="1594.2" cy="1955.0" r="12.9" fill="#0b0b0b"/>
<circle cx="1390.9" cy="2053.0" r="12.9" fill="#0b0b0b"/>
<circle cx="1349.0" cy="1910.8" r="12.9" fill="#0b0b0b"/>
<circle cx="1538.4" cy="1906.4" r="11.7" fill="#0b0b0b"/>
<circle cx="1445.3" cy="2005.4" r="11.7" fill="#0b0b0b"/>
<path d="M1349.0 1910.8 L1405.4 1960.0" stroke="#0b0b0b" stroke-width="12.2"/>
<path d="M1349.0 1910.8 L1377.2 1935.4" stroke="#ff1010" stroke-width="7.8"/>
<path d="M1405.4 1960.0 L1377.2 1935.4" stroke="#0e8020" stroke-width="7.8"/>
<path d="M1381.2 1938.9 L1377.2 1935.4" stroke="#22b23c" stroke-width="7.8"/>
<path d="M1538.4 1906.4 L1482.6 1955.0" stroke="#0b0b0b" stroke-width="12.2"/>
<path d="M1538.4 1906.4 L1510.5 1930.7" stroke="#ff1010" stroke-width="7.8"/>
<path d="M1482.6 1955.0 L1510.5 1930.7" stroke="#0e8020" stroke-width="7.8"/>
<path d="M1506.6 1934.1 L1510.5 1930.7" stroke="#22b23c" stroke-width="7.8"/>
<path d="M1538.4 1906.4 L1594.2 1955.0" stroke="#0b0b0b" stroke-width="12.2"/>
<path d="M1538.4 1906.4 L1566.3 1930.7" stroke="#ff1010" stroke-width="7.8"/>
<path d="M1594.2 1955.0 L1566.3 1930.7" stroke="#0e8020" stroke-width="7.8"/>
<path d="M1570.2 1934.1 L1566.3 1930.7" stroke="#22b23c" stroke-width="7.8"/>
<path d="M1445.3 2005.4 L1390.9 2053.0" stroke="#0b0b0b" stroke-width="12.2"/>
<path d="M1445.3 2005.4 L1418.1 2029.2" stroke="#ff1010" stroke-width="7.8"/>
<path d="M1390.9 2053.0 L1418.1 2029.2" stroke="#0e8020" stroke-width="7.8"/>
<path d="M1414.3 2032.6 L1418.1 2029.2" stroke="#22b23c" stroke-width="7.8"/>
<circle cx="1420.9" cy="1864.4" r="12.9" fill="#0b0b0b"/>
<circle cx="1498.7" cy="1860.8" r="12.9" fill="#0b0b0b"/>
<circle cx="1327.9" cy="1962.9" r="12.9" fill="#0b0b0b"/>
<circle cx="1517.3" cy="1958.6" r="11.7" fill="#0b0b0b"/>
<circle cx="1312.8" cy="2057.4" r="12.9" fill="#0b0b0b"/>
<circle cx="1423.8" cy="2057.4" r="11.7" fill="#0b0b0b"/>
<circle cx="1501.7" cy="2053.7" r="11.7" fill="#0b0b0b"/>
<circle cx="1613.3" cy="2053.7" r="12.9" fill="#0b0b0b"/>
<circle cx="1408.9" cy="2152.2" r="12.9" fill="#0b0b0b"/>
<circle cx="1519.7" cy="2152.2" r="12.9" fill="#0b0b0b"/>
<circle cx="1382.5" cy="1915.1" r="12.9" fill="#0b0b0b"/>
<circle cx="1460.7" cy="1910.8" r="11.7" fill="#0b0b0b"/>
<circle cx="1571.8" cy="1910.8" r="12.9" fill="#0b0b0b"/>
<circle cx="1367.8" cy="2009.4" r="11.7" fill="#0b0b0b"/>
<circle cx="1479.1" cy="2009.4" r="12.9" fill="#0b0b0b"/>
<circle cx="1556.9" cy="2005.4" r="11.7" fill="#0b0b0b"/>
<circle cx="1353.1" cy="2103.7" r="11.7" fill="#0b0b0b"/>
<circle cx="1386.6" cy="2108.1" r="12.9" fill="#0b0b0b"/>
<circle cx="1463.7" cy="2103.7" r="11.7" fill="#0b0b0b"/>
<circle cx="1541.4" cy="2100.1" r="12.9" fill="#0b0b0b"/>
<circle cx="1574.9" cy="2103.7" r="12.9" fill="#0b0b0b"/>
<path d="M1420.9 1864.4 L1382.5 1915.1" stroke="#0b0b0b" stroke-width="12.2"/>
<path d="M1420.9 1864.4 L1401.7 1889.8" stroke="#0e8020" stroke-width="7.8"/>
<path d="M1404.4 1886.2 L1401.7 1889.8" stroke="#22b23c" stroke-width="7.8"/>
<path d="M1382.5 1915.1 L1401.7 1889.8" stroke="#ff1010" stroke-width="7.8"/>
<path d="M1420.9 1864.4 L1460.7 1910.8" stroke="#0b0b0b" stroke-width="12.2"/>
<path d="M1420.9 1864.4 L1440.8 1887.6" stroke="#0e8020" stroke-width="7.8"/>
<path d="M1438.0 1884.3 L1440.8 1887.6" stroke="#22b23c" stroke-width="7.8"/>
<path d="M1460.7 1910.8 L1440.8 1887.6" stroke="#ff1010" stroke-width="7.8"/>
<path d="M1498.7 1860.8 L1460.7 1910.8" stroke="#0b0b0b" stroke-width="12.2"/>
<path d="M1498.7 1860.8 L1479.7 1885.8" stroke="#0e8020" stroke-width="7.8"/>
<path d="M1482.4 1882.3 L1479.7 1885.8" stroke="#22b23c" stroke-width="7.8"/>
<path d="M1460.7 1910.8 L1479.7 1885.8" stroke="#ff1010" stroke-width="7.8"/>
<path d="M1498.7 1860.8 L1538.4 1906.4" stroke="#0b0b0b" stroke-width="12.2"/>
<path d="M1498.7 1860.8 L1518.5 1883.6" stroke="#0e8020" stroke-width="7.8"/>
<path d="M1515.8 1880.4 L1518.5 1883.6" stroke="#22b23c" stroke-width="7.8"/>
<path d="M1538.4 1906.4 L1518.5 1883.6" stroke="#ff1010" stroke-width="7.8"/>
<path d="M1382.5 1915.1 L1327.9 1962.9" stroke="#0b0b0b" stroke-width="12.2"/>
<path d="M1382.5 1915.1 L1355.2 1939.0" stroke="#ff1010" stroke-width="7.8"/>
<path d="M1327.9 1962.9 L1355.2 1939.0" stroke="#0e8020" stroke-width="7.8"/>
<path d="M1351.4 1942.4 L1355.2 1939.0" stroke="#22b23c" stroke-width="7.8"/>
<path d="M1460.7 1910.8 L1405.4 1960.0" stroke="#0b0b0b" stroke-width="12.2"/>
<path d="M1460.7 1910.8 L1433.1 1935.4" stroke="#ff1010" stroke-width="7.8"/>
<path d="M1405.4 1960.0 L1433.1 1935.4" stroke="#0e8020" stroke-width="7.8"/>
<path d="M1429.2 1938.9 L1433.1 1935.4" stroke="#22b23c" stroke-width="7.8"/>
<path d="M1460.7 1910.8 L1517.3 1958.6" stroke="#0b0b0b" stroke-width="12.2"/>
<path d="M1460.7 1910.8 L1489.0 1934.7" stroke="#ff1010" stroke-width="7.8"/>
<path d="M1517.3 1958.6 L1489.0 1934.7" stroke="#0e8020" stroke-width="7.8"/>
<path d="M1493.0 1938.0 L1489.0 1934.7" stroke="#22b23c" stroke-width="7.8"/>
<path d="M1571.8 1910.8 L1517.3 1958.6" stroke="#0b0b0b" stroke-width="12.2"/>
<path d="M1571.8 1910.8 L1544.5 1934.7" stroke="#ff1010" stroke-width="7.8"/>
<path d="M1517.3 1958.6 L1544.5 1934.7" stroke="#0e8020" stroke-width="7.8"/>
<path d="M1540.7 1938.0 L1544.5 1934.7" stroke="#22b23c" stroke-width="7.8"/>
<path d="M1327.9 1962.9 L1367.8 2009.4" stroke="#0b0b0b" stroke-width="12.2"/>
<path d="M1327.9 1962.9 L1347.9 1986.2" stroke="#0e8020" stroke-width="7.8"/>
<path d="M1345.1 1982.9 L1347.9 1986.2" stroke="#22b23c" stroke-width="7.8"/>
<path d="M1367.8 2009.4 L1347.9 1986.2" stroke="#ff1010" stroke-width="7.8"/>
<path d="M1405.4 1960.0 L1367.8 2009.4" stroke="#0b0b0b" stroke-width="12.2"/>
<path d="M1405.4 1960.0 L1386.6 1984.7" stroke="#0e8020" stroke-width="7.8"/>
<path d="M1389.2 1981.3 L1386.6 1984.7" stroke="#22b23c" stroke-width="7.8"/>
<path d="M1367.8 2009.4 L1386.6 1984.7" stroke="#ff1010" stroke-width="7.8"/>
<path d="M1405.4 1960.0 L1445.3 2005.4" stroke="#0b0b0b" stroke-width="12.2"/>
<path d="M1405.4 1960.0 L1425.4 1982.7" stroke="#0e8020" stroke-width="7.8"/>
<path d="M1422.6 1979.6 L1425.4 1982.7" stroke="#22b23c" stroke-width="7.8"/>
<path d="M1445.3 2005.4 L1425.4 1982.7" stroke="#ff1010" stroke-width="7.8"/>
<path d="M1482.6 1955.0 L1445.3 2005.4" stroke="#0b0b0b" stroke-width="12.2"/>
<path d="M1482.6 1955.0 L1463.9 1980.2" stroke="#0e8020" stroke-width="7.8"/>
<path d="M1466.5 1976.7 L1463.9 1980.2" stroke="#22b23c" stroke-width="7.8"/>
<path d="M1445.3 2005.4 L1463.9 1980.2" stroke="#ff1010" stroke-width="7.8"/>
<path d="M1517.3 1958.6 L1479.1 2009.4" stroke="#0b0b0b" stroke-width="12.2"/>
<path d="M1517.3 1958.6 L1498.2 1984.0" stroke="#0e8020" stroke-width="7.8"/>
<path d="M1500.9 1980.4 L1498.2 1984.0" stroke="#22b23c" stroke-width="7.8"/>
<path d="M1479.1 2009.4 L1498.2 1984.0" stroke="#ff1010" stroke-width="7.8"/>
<path d="M1517.3 1958.6 L1556.9 2005.4" stroke="#0b0b0b" stroke-width="12.2"/>
<path d="M1517.3 1958.6 L1537.1 1982.0" stroke="#0e8020" stroke-width="7.8"/>
<path d="M1534.3 1978.7 L1537.1 1982.0" stroke="#22b23c" stroke-width="7.8"/>
<path d="M1556.9 2005.4 L1537.1 1982.0" stroke="#ff1010" stroke-width="7.8"/>
<path d="M1594.2 1955.0 L1556.9 2005.4" stroke="#0b0b0b" stroke-width="12.2"/>
<path d="M1594.2 1955.0 L1575.6 1980.2" stroke="#0e8020" stroke-width="7.8"/>
<path d="M1578.2 1976.7 L1575.6 1980.2" stroke="#22b23c" stroke-width="7.8"/>
<path d="M1556.9 2005.4 L1575.6 1980.2" stroke="#ff1010" stroke-width="7.8"/>
<path d="M1367.8 2009.4 L1312.8 2057.4" stroke="#0b0b0b" stroke-width="12.2"/>
<path d="M1367.8 2009.4 L1340.3 2033.4" stroke="#ff1010" stroke-width="7.8"/>
<path d="M1312.8 2057.4 L1340.3 2033.4" stroke="#0e8020" stroke-width="7.8"/>
<path d="M1336.4 2036.7 L1340.3 2033.4" stroke="#22b23c" stroke-width="7.8"/>
<path d="M1367.8 2009.4 L1423.8 2057.4" stroke="#0b0b0b" stroke-width="12.2"/>
<path d="M1367.8 2009.4 L1395.8 2033.4" stroke="#ff1010" stroke-width="7.8"/>
<path d="M1423.8 2057.4 L1395.8 2033.4" stroke="#0e8020" stroke-width="7.8"/>
<path d="M1399.7 2036.7 L1395.8 2033.4" stroke="#22b23c" stroke-width="7.8"/>
<path d="M1445.3 2005.4 L1501.7 2053.7" stroke="#0b0b0b" stroke-width="12.2"/>
<path d="M1445.3 2005.4 L1473.5 2029.6" stroke="#ff1010" stroke-width="7.8"/>
<path d="M1501.7 2053.7 L1473.5 2029.6" stroke="#0e8020" stroke-width="7.8"/>
<path d="M1477.4 2033.0 L1473.5 2029.6" stroke="#22b23c" stroke-width="7.8"/>
<path d="M1479.1 2009.4 L1423.8 2057.4" stroke="#0b0b0b" stroke-width="12.2"/>
<path d="M1479.1 2009.4 L1451.4 2033.4" stroke="#ff1010" stroke-width="7.8"/>
<path d="M1423.8 2057.4 L1451.4 2033.4" stroke="#0e8020" stroke-width="7.8"/>
<path d="M1447.6 2036.7 L1451.4 2033.4" stroke="#22b23c" stroke-width="7.8"/>
<path d="M1556.9 2005.4 L1501.7 2053.7" stroke="#0b0b0b" stroke-width="12.2"/>
<path d="M1556.9 2005.4 L1529.3 2029.6" stroke="#ff1010" stroke-width="7.8"/>
<path d="M1501.7 2053.7 L1529.3 2029.6" stroke="#0e8020" stroke-width="7.8"/>
<path d="M1525.4 2033.0 L1529.3 2029.6" stroke="#22b23c" stroke-width="7.8"/>
<path d="M1556.9 2005.4 L1613.3 2053.7" stroke="#0b0b0b" stroke-width="12.2"/>
<path d="M1556.9 2005.4 L1585.1 2029.6" stroke="#ff1010" stroke-width="7.8"/>
<path d="M1613.3 2053.7 L1585.1 2029.6" stroke="#0e8020" stroke-width="7.8"/>
<path d="M1589.0 2033.0 L1585.1 2029.6" stroke="#22b23c" stroke-width="7.8"/>
<path d="M1312.8 2057.4 L1353.1 2103.7" stroke="#0b0b0b" stroke-width="12.2"/>
<path d="M1312.8 2057.4 L1332.9 2080.5" stroke="#0e8020" stroke-width="7.8"/>
<path d="M1330.1 2077.3 L1332.9 2080.5" stroke="#22b23c" stroke-width="7.8"/>
<path d="M1353.1 2103.7 L1332.9 2080.5" stroke="#ff1010" stroke-width="7.8"/>
<path d="M1390.9 2053.0 L1353.1 2103.7" stroke="#0b0b0b" stroke-width="12.2"/>
<path d="M1390.9 2053.0 L1372.0 2078.4" stroke="#0e8020" stroke-width="7.8"/>
<path d="M1374.6 2074.8 L1372.0 2078.4" stroke="#22b23c" stroke-width="7.8"/>
<path d="M1353.1 2103.7 L1372.0 2078.4" stroke="#ff1010" stroke-width="7.8"/>
<path d="M1423.8 2057.4 L1386.6 2108.1" stroke="#0b0b0b" stroke-width="12.2"/>
<path d="M1423.8 2057.4 L1405.2 2082.7" stroke="#0e8020" stroke-width="7.8"/>
<path d="M1407.8 2079.2 L1405.2 2082.7" stroke="#22b23c" stroke-width="7.8"/>
<path d="M1386.6 2108.1 L1405.2 2082.7" stroke="#ff1010" stroke-width="7.8"/>
<path d="M1423.8 2057.4 L1463.7 2103.7" stroke="#0b0b0b" stroke-width="12.2"/>
<path d="M1423.8 2057.4 L1443.7 2080.5" stroke="#0e8020" stroke-width="7.8"/>
<path d="M1440.9 2077.3 L1443.7 2080.5" stroke="#22b23c" stroke-width="7.8"/>
<path d="M1463.7 2103.7 L1443.7 2080.5" stroke="#ff1010" stroke-width="7.8"/>
<path d="M1501.7 2053.7 L1463.7 2103.7" stroke="#0b0b0b" stroke-width="12.2"/>
<path d="M1501.7 2053.7 L1482.7 2078.7" stroke="#0e8020" stroke-width="7.8"/>
<path d="M1485.3 2075.2 L1482.7 2078.7" stroke="#22b23c" stroke-width="7.8"/>
<path d="M1463.7 2103.7 L1482.7 2078.7" stroke="#ff1010" stroke-width="7.8"/>
<path d="M1501.7 2053.7 L1541.4 2100.1" stroke="#0b0b0b" stroke-width="12.2"/>
<path d="M1501.7 2053.7 L1521.5 2076.9" stroke="#0e8020" stroke-width="7.8"/>
<path d="M1518.7 2073.7 L1521.5 2076.9" stroke="#22b23c" stroke-width="7.8"/>
<path d="M1541.4 2100.1 L1521.5 2076.9" stroke="#ff1010" stroke-width="7.8"/>
<path d="M1613.3 2053.7 L1574.9 2103.7" stroke="#0b0b0b" stroke-width="12.2"/>
<path d="M1613.3 2053.7 L1594.1 2078.7" stroke="#0e8020" stroke-width="7.8"/>
<path d="M1596.8 2075.2 L1594.1 2078.7" stroke="#22b23c" stroke-width="7.8"/>
<path d="M1574.9 2103.7 L1594.1 2078.7" stroke="#ff1010" stroke-width="7.8"/>
<path d="M1353.1 2103.7 L1408.9 2152.2" stroke="#0b0b0b" stroke-width="12.2"/>
<path d="M1353.1 2103.7 L1381.0 2128.0" stroke="#ff1010" stroke-width="7.8"/>
<path d="M1408.9 2152.2 L1381.0 2128.0" stroke="#0e8020" stroke-width="7.8"/>
<path d="M1384.9 2131.4 L1381.0 2128.0" stroke="#22b23c" stroke-width="7.8"/>
<path d="M1463.7 2103.7 L1408.9 2152.2" stroke="#0b0b0b" stroke-width="12.2"/>
<path d="M1463.7 2103.7 L1436.3 2128.0" stroke="#ff1010" stroke-width="7.8"/>
<path d="M1408.9 2152.2 L1436.3 2128.0" stroke="#0e8020" stroke-width="7.8"/>
<path d="M1432.5 2131.4 L1436.3 2128.0" stroke="#22b23c" stroke-width="7.8"/>
<path d="M1463.7 2103.7 L1519.7 2152.2" stroke="#0b0b0b" stroke-width="12.2"/>
<path d="M1463.7 2103.7 L1491.7 2128.0" stroke="#ff1010" stroke-width="7.8"/>
<path d="M1519.7 2152.2 L1491.7 2128.0" stroke="#0e8020" stroke-width="7.8"/>
<path d="M1495.6 2131.4 L1491.7 2128.0" stroke="#22b23c" stroke-width="7.8"/>
<path d="M1574.9 2103.7 L1519.7 2152.2" stroke="#0b0b0b" stroke-width="12.2"/>
<path d="M1574.9 2103.7 L1547.3 2128.0" stroke="#ff1010" stroke-width="7.8"/>
<path d="M1519.7 2152.2 L1547.3 2128.0" stroke="#0e8020" stroke-width="7.8"/>
<path d="M1543.4 2131.4 L1547.3 2128.0" stroke="#22b23c" stroke-width="7.8"/>
<circle cx="1405.4" cy="1960.0" r="9.5" fill="url(#gg)"/>
<circle cx="1517.3" cy="1958.6" r="9.5" fill="url(#gg)"/>
<circle cx="1423.8" cy="2057.4" r="9.5" fill="url(#gg)"/>
<circle cx="1501.7" cy="2053.7" r="9.5" fill="url(#gg)"/>
<circle cx="1460.7" cy="1910.8" r="9.5" fill="url(#gr)"/>
<circle cx="1538.4" cy="1906.4" r="9.5" fill="url(#gr)"/>
<circle cx="1367.8" cy="2009.4" r="9.5" fill="url(#gr)"/>
<circle cx="1445.3" cy="2005.4" r="9.5" fill="url(#gr)"/>
<circle cx="1556.9" cy="2005.4" r="9.5" fill="url(#gr)"/>
<circle cx="1353.1" cy="2103.7" r="9.5" fill="url(#gr)"/>
<circle cx="1463.7" cy="2103.7" r="9.5" fill="url(#gr)"/>
<circle cx="1420.9" cy="1864.4" r="10.7" fill="url(#gg)"/>
<circle cx="1498.7" cy="1860.8" r="10.7" fill="url(#gg)"/>
<circle cx="1327.9" cy="1962.9" r="10.7" fill="url(#gg)"/>
<circle cx="1482.6" cy="1955.0" r="10.7" fill="url(#gg)"/>
<circle cx="1594.2" cy="1955.0" r="10.7" fill="url(#gg)"/>
<circle cx="1312.8" cy="2057.4" r="10.7" fill="url(#gg)"/>
<circle cx="1390.9" cy="2053.0" r="10.7" fill="url(#gg)"/>
<circle cx="1613.3" cy="2053.7" r="10.7" fill="url(#gg)"/>
<circle cx="1408.9" cy="2152.2" r="10.7" fill="url(#gg)"/>
<circle cx="1519.7" cy="2152.2" r="10.7" fill="url(#gg)"/>
<circle cx="1349.0" cy="1910.8" r="10.7" fill="url(#gr)"/>
<circle cx="1382.5" cy="1915.1" r="10.7" fill="url(#gr)"/>
<circle cx="1571.8" cy="1910.8" r="10.7" fill="url(#gr)"/>
<circle cx="1479.1" cy="2009.4" r="10.7" fill="url(#gr)"/>
<circle cx="1386.6" cy="2108.1" r="10.7" fill="url(#gr)"/>
<circle cx="1541.4" cy="2100.1" r="10.7" fill="url(#gr)"/>
<circle cx="1574.9" cy="2103.7" r="10.7" fill="url(#gr)"/>
<circle cx="1507.4" cy="2005.9" r="12.9" fill="#0b0b0b"/>
<circle cx="1507.4" cy="2005.9" r="10.7" fill="url(#gr)"/>
</g>
<clipPath id="cpg"><rect x="186.3" y="2737.0" width="833.3" height="729.2"/></clipPath>
<g clip-path="url(#cpg)">
<path d="M188.3 3140.7 L196.1 3257.9 L203.7 3210.5 L212.4 3269.7 L221.0 3131.2 L229.0 3259.1 L237.5 3216.4 L246.3 3126.5 L254.1 3055.5 L262.4 3212.9 L271.1 3139.5 L279.4 3230.6 L287.2 3128.8 L296.5 3164.4 L304.8 3235.4 L312.6 3313.5 L321.6 3253.1 L330.3 3241.3 L338.6 3349.0 L347.4 3369.1 L355.2 3286.3 L363.5 3261.4 L372.2 3242.5 L380.5 3246.0 L388.3 3363.2 L397.1 3292.2 L405.6 3249.6 L413.9 3352.6 L422.0 3332.4 L430.5 3317.8 L438.5 3321.8 L447.0 3287.5 L455.1 3195.1 L463.4 3146.6 L471.8 3358.5 L481.8 3424.8 L488.4 3425.2 L496.7 3377.4 L505.7 3275.6 L514.0 3145.4 L522.3 3133.6 L530.5 3279.2 L539.3 3301.7 L547.6 3296.9 L555.9 3349.0 L563.7 3167.9 L572.0 3204.6 L581.2 3106.4 L589.5 3205.8 L598.0 3204.6 L606.3 3170.3 L614.6 3235.4 L622.9 3332.4 L631.6 3195.1 L639.9 3143.0 L648.2 3299.3 L657.7 3415.3 L666.0 3446.1 L674.3 3463.8 L682.5 3463.8 L690.8 3455.5 L699.1 3444.9 L707.4 3429.5 L715.7 3405.8 L724.0 3344.3 L732.3 3299.3 L740.5 3124.1 L748.3 3325.3 L756.6 3292.2 L765.6 3415.3 L773.9 3108.7 L782.1 3327.7 L790.4 3429.5 L798.7 3461.5 L807.0 3441.3 L815.3 3278.0 L824.0 3323.0 L832.3 3379.8 L840.6 3368.0 L848.9 3346.6 L857.2 3376.2 L865.9 3320.6 L874.2 3363.2 L882.0 3356.1 L890.8 3353.8 L899.1 3381.0 L907.4 3394.0 L916.4 3390.4 L924.7 3434.2 L932.9 3444.9 L941.2 3452.0 L949.5 3463.8 L992.1 3463.8 L999.2 3459.1 L1007.5 3435.4 L1017.0 3429.5" fill="none" stroke="#0068bd" stroke-width="3.20" stroke-linejoin="miter" stroke-miterlimit="3" stroke-linecap="butt"/>
<path d="M188.3 3378.6 L196.1 3407.0 L203.7 3398.7 L212.4 3411.8 L221.0 3376.2 L229.0 3411.8 L237.5 3408.2 L246.3 3399.9 L254.1 3396.4 L262.4 3427.1 L271.1 3407.0 L279.4 3426.0 L287.2 3401.1 L296.5 3405.8 L304.8 3422.4 L312.6 3433.1 L321.6 3422.4 L330.3 3420.0 L338.6 3441.3 L347.4 3444.9 L355.2 3422.9 L363.5 3421.2 L372.2 3420.0 L380.5 3427.1 L388.3 3446.1 L397.1 3435.4 L405.6 3430.7 L413.9 3452.0 L422.0 3448.4 L430.5 3447.3 L438.5 3448.4 L447.0 3439.0 L455.1 3422.4 L463.4 3403.5 L471.8 3448.4 L481.8 3457.9 L488.4 3456.7 L496.7 3439.0 L505.7 3408.2 L514.0 3390.4 L522.3 3395.2 L530.5 3414.1 L539.3 3427.1 L547.6 3425.2 L555.9 3434.2 L563.7 3365.6 L572.0 3365.6 L581.2 3332.4 L589.5 3360.9 L598.0 3353.8 L607.3 3344.3 L614.6 3388.1 L622.9 3427.1 L631.6 3394.0 L639.9 3412.9 L648.2 3427.1 L657.7 3439.0 L666.0 3453.2 L674.3 3463.8 L682.5 3463.8 L690.8 3459.1 L699.1 3455.5 L707.4 3450.8 L715.7 3443.7 L724.0 3429.5 L732.3 3424.8 L740.5 3416.5 L748.3 3420.0 L756.6 3405.8 L765.6 3446.1 L773.9 3288.6 L782.1 3417.7 L790.4 3448.4 L798.7 3462.7 L807.0 3453.2 L815.3 3389.3 L824.0 3412.9 L832.3 3433.1 L840.6 3429.5 L848.9 3415.3 L857.2 3420.0 L865.9 3386.4 L874.2 3409.4 L882.0 3404.6 L890.8 3402.3 L899.1 3417.7 L907.4 3423.6 L916.4 3420.0 L924.7 3444.9 L932.9 3452.0 L941.2 3456.7 L949.5 3463.8 L992.1 3463.8 L999.2 3460.3 L1007.5 3444.9 L1017.0 3440.9" fill="none" stroke="#ff5014" stroke-width="2.60" stroke-linejoin="miter" stroke-miterlimit="3" stroke-linecap="butt"/>
<path d="M188.3 3226.3 L196.1 3315.0 L203.7 3276.1 L212.4 3322.0 L221.0 3219.7 L229.0 3311.4 L237.5 3272.6 L246.3 3190.7 L254.1 3123.3 L262.4 3249.9 L271.1 3197.0 L279.4 3268.6 L287.2 3192.4 L296.5 3222.9 L304.8 3277.5 L312.6 3344.5 L321.6 3294.9 L330.3 3285.5 L338.6 3371.7 L347.4 3388.3 L355.2 3327.6 L363.5 3304.3 L372.2 3286.7 L380.5 3283.1 L388.3 3380.9 L397.1 3320.9 L405.6 3283.2 L413.9 3364.8 L422.0 3348.1 L430.5 3334.7 L438.5 3337.5 L447.0 3312.8 L455.1 3236.9 L463.4 3207.7 L471.8 3373.5 L481.8 3431.1 L488.4 3432.7 L496.7 3402.6 L505.7 3331.5 L514.0 3219.1 L522.3 3203.2 L530.5 3328.5 L539.3 3338.7 L547.6 3335.9 L555.9 3378.7 L563.7 3266.6 L572.0 3303.1 L581.2 3238.2 L589.5 3309.1 L598.0 3315.0 L606.3 3289.2 L607.3 3297.7 L614.6 3311.6 L622.9 3369.3 L631.6 3265.8 L639.9 3194.5 L648.2 3336.2 L657.7 3440.6 L666.0 3457.1 L674.3 3464.2 L682.5 3464.2 L690.8 3460.7 L699.1 3453.6 L707.4 3442.9 L715.7 3426.2 L724.0 3378.8 L732.3 3337.8 L740.5 3172.6 L748.3 3368.0 L756.6 3349.0 L765.6 3429.5 L773.9 3285.1 L782.1 3377.4 L790.4 3441.3 L798.7 3462.7 L807.0 3452.0 L815.3 3352.6 L824.0 3379.8 L832.3 3410.6 L840.6 3403.5 L848.9 3395.2 L857.2 3418.9 L865.9 3397.5 L874.2 3416.5 L882.0 3414.1 L890.8 3414.1 L899.1 3427.1 L907.4 3433.1 L916.4 3433.1 L924.7 3449.6 L932.9 3454.4 L941.2 3457.9 L949.5 3463.8 L992.1 3463.8 L999.2 3461.5 L1007.5 3453.2 L1017.0 3449.6" fill="none" stroke="#ffac00" stroke-width="2.80" stroke-linejoin="miter" stroke-miterlimit="3" stroke-linecap="butt"/>
</g>
<rect x="188.3" y="2737.0" width="829.3" height="727.2" fill="none" stroke="#505050" stroke-width="1.7"/>
<text x="188.3" y="3510.9" text-anchor="middle" class="t">-2</text>
<path d="M292.0 3464.2 v-8.0 M292.0 2737.0 v8.0" stroke="#505050" stroke-width="1.4"/>
<text x="292.0" y="3510.9" text-anchor="middle" class="t">-1.5</text>
<path d="M395.6 3464.2 v-8.0 M395.6 2737.0 v8.0" stroke="#505050" stroke-width="1.4"/>
<text x="395.6" y="3510.9" text-anchor="middle" class="t">-1</text>
<path d="M499.3 3464.2 v-8.0 M499.3 2737.0 v8.0" stroke="#505050" stroke-width="1.4"/>
<text x="499.3" y="3510.9" text-anchor="middle" class="t">-0.5</text>
<path d="M603.0 3464.2 v-8.0 M603.0 2737.0 v8.0" stroke="#505050" stroke-width="1.4"/>
<text x="603.0" y="3510.9" text-anchor="middle" class="t">0</text>
<path d="M706.6 3464.2 v-8.0 M706.6 2737.0 v8.0" stroke="#505050" stroke-width="1.4"/>
<text x="706.6" y="3510.9" text-anchor="middle" class="t">0.5</text>
<path d="M810.3 3464.2 v-8.0 M810.3 2737.0 v8.0" stroke="#505050" stroke-width="1.4"/>
<text x="810.3" y="3510.9" text-anchor="middle" class="t">1</text>
<path d="M913.9 3464.2 v-8.0 M913.9 2737.0 v8.0" stroke="#505050" stroke-width="1.4"/>
<text x="913.9" y="3510.9" text-anchor="middle" class="t">1.5</text>
<text x="1017.6" y="3510.9" text-anchor="middle" class="t">2</text>
<text x="176.5" y="3477.8" text-anchor="end" class="t">0</text>
<path d="M188.3 3318.8 h8.0 M1017.6 3318.8 h-8.0" stroke="#505050" stroke-width="1.4"/>
<text x="176.5" y="3332.4" text-anchor="end" class="t">400</text>
<path d="M188.3 3173.3 h8.0 M1017.6 3173.3 h-8.0" stroke="#505050" stroke-width="1.4"/>
<text x="176.5" y="3186.9" text-anchor="end" class="t">800</text>
<path d="M188.3 3027.9 h8.0 M1017.6 3027.9 h-8.0" stroke="#505050" stroke-width="1.4"/>
<text x="176.5" y="3041.5" text-anchor="end" class="t">1200</text>
<path d="M188.3 2882.4 h8.0 M1017.6 2882.4 h-8.0" stroke="#505050" stroke-width="1.4"/>
<text x="176.5" y="2896.0" text-anchor="end" class="t">1600</text>
<text x="176.5" y="2750.6" text-anchor="end" class="t">2000</text>
<text x="602.0" y="3549.0" text-anchor="middle" class="xl">Energy(eV)</text>
<text transform="translate(82.6 3100.6) rotate(-90)" text-anchor="middle" class="yl">Density of States</text>
<text x="30.1" y="2744.9" class="pl">(g)</text>
<text x="581.8" y="2810.9" class="ti">Cd<tspan class="sub" dy="24.2">13</tspan><tspan dy="-24.2">S</tspan><tspan class="sub" dy="24.2">15</tspan></text>
<path d="M819.6 2770.3 h49" stroke="#0068bd" stroke-width="3"/>
<text x="873.6" y="2783.5" class="t">Total</text>
<path d="M819.6 2815.6 h49" stroke="#ff5014" stroke-width="3"/>
<text x="873.6" y="2828.8" class="t">Cd</text>
<path d="M819.6 2860.9 h49" stroke="#ffac00" stroke-width="3"/>
<text x="873.6" y="2874.1" class="t">S</text>
<rect x="248.4" y="2746.0" width="333.8" height="317.2" fill="#fff"/>
<g stroke-linecap="butt" filter="url(#bl1)">
<circle cx="361.0" cy="2855.2" r="11.7" fill="#0b0b0b"/>
<circle cx="438.2" cy="2850.2" r="12.9" fill="#0b0b0b"/>
<circle cx="549.8" cy="2850.2" r="12.9" fill="#0b0b0b"/>
<circle cx="346.5" cy="2948.2" r="12.9" fill="#0b0b0b"/>
<circle cx="304.6" cy="2806.0" r="12.9" fill="#0b0b0b"/>
<circle cx="494.0" cy="2801.6" r="11.7" fill="#0b0b0b"/>
<circle cx="400.9" cy="2900.6" r="11.7" fill="#0b0b0b"/>
<path d="M304.6 2806.0 L361.0 2855.2" stroke="#0b0b0b" stroke-width="12.2"/>
<path d="M304.6 2806.0 L332.8 2830.6" stroke="#ff1010" stroke-width="7.8"/>
<path d="M361.0 2855.2 L332.8 2830.6" stroke="#0e8020" stroke-width="7.8"/>
<path d="M336.8 2834.1 L332.8 2830.6" stroke="#22b23c" stroke-width="7.8"/>
<path d="M494.0 2801.6 L438.2 2850.2" stroke="#0b0b0b" stroke-width="12.2"/>
<path d="M494.0 2801.6 L466.1 2825.9" stroke="#ff1010" stroke-width="7.8"/>
<path d="M438.2 2850.2 L466.1 2825.9" stroke="#0e8020" stroke-width="7.8"/>
<path d="M462.2 2829.3 L466.1 2825.9" stroke="#22b23c" stroke-width="7.8"/>
<path d="M494.0 2801.6 L549.8 2850.2" stroke="#0b0b0b" stroke-width="12.2"/>
<path d="M494.0 2801.6 L521.9 2825.9" stroke="#ff1010" stroke-width="7.8"/>
<path d="M549.8 2850.2 L521.9 2825.9" stroke="#0e8020" stroke-width="7.8"/>
<path d="M525.8 2829.3 L521.9 2825.9" stroke="#22b23c" stroke-width="7.8"/>
<path d="M400.9 2900.6 L346.5 2948.2" stroke="#0b0b0b" stroke-width="12.2"/>
<path d="M400.9 2900.6 L373.7 2924.4" stroke="#ff1010" stroke-width="7.8"/>
<path d="M346.5 2948.2 L373.7 2924.4" stroke="#0e8020" stroke-width="7.8"/>
<path d="M369.9 2927.8 L373.7 2924.4" stroke="#22b23c" stroke-width="7.8"/>
<circle cx="376.5" cy="2759.6" r="12.9" fill="#0b0b0b"/>
<circle cx="454.3" cy="2756.0" r="12.9" fill="#0b0b0b"/>
<circle cx="283.5" cy="2858.1" r="12.9" fill="#0b0b0b"/>
<circle cx="472.9" cy="2853.8" r="11.7" fill="#0b0b0b"/>
<circle cx="268.4" cy="2952.6" r="12.9" fill="#0b0b0b"/>
<circle cx="379.4" cy="2952.6" r="11.7" fill="#0b0b0b"/>
<circle cx="457.3" cy="2948.9" r="11.7" fill="#0b0b0b"/>
<circle cx="568.9" cy="2948.9" r="12.9" fill="#0b0b0b"/>
<circle cx="364.5" cy="3047.4" r="12.9" fill="#0b0b0b"/>
<circle cx="475.3" cy="3047.4" r="12.9" fill="#0b0b0b"/>
<circle cx="338.1" cy="2810.3" r="12.9" fill="#0b0b0b"/>
<circle cx="416.3" cy="2806.0" r="11.7" fill="#0b0b0b"/>
<circle cx="527.4" cy="2806.0" r="12.9" fill="#0b0b0b"/>
<circle cx="323.4" cy="2904.6" r="11.7" fill="#0b0b0b"/>
<circle cx="434.7" cy="2904.6" r="12.9" fill="#0b0b0b"/>
<circle cx="512.5" cy="2900.6" r="11.7" fill="#0b0b0b"/>
<circle cx="308.7" cy="2998.9" r="11.7" fill="#0b0b0b"/>
<circle cx="342.2" cy="3003.2" r="12.9" fill="#0b0b0b"/>
<circle cx="419.3" cy="2998.9" r="11.7" fill="#0b0b0b"/>
<circle cx="497.0" cy="2995.3" r="12.9" fill="#0b0b0b"/>
<circle cx="530.5" cy="2998.9" r="12.9" fill="#0b0b0b"/>
<path d="M376.5 2759.6 L338.1 2810.3" stroke="#0b0b0b" stroke-width="12.2"/>
<path d="M376.5 2759.6 L357.3 2785.0" stroke="#0e8020" stroke-width="7.8"/>
<path d="M360.0 2781.4 L357.3 2785.0" stroke="#22b23c" stroke-width="7.8"/>
<path d="M338.1 2810.3 L357.3 2785.0" stroke="#ff1010" stroke-width="7.8"/>
<path d="M376.5 2759.6 L416.3 2806.0" stroke="#0b0b0b" stroke-width="12.2"/>
<path d="M376.5 2759.6 L396.4 2782.8" stroke="#0e8020" stroke-width="7.8"/>
<path d="M416.3 2806.0 L396.4 2782.8" stroke="#0e8020" stroke-width="7.8"/>
<path d="M454.3 2756.0 L416.3 2806.0" stroke="#0b0b0b" stroke-width="12.2"/>
<path d="M454.3 2756.0 L435.3 2781.0" stroke="#0e8020" stroke-width="7.8"/>
<path d="M416.3 2806.0 L435.3 2781.0" stroke="#0e8020" stroke-width="7.8"/>
<path d="M454.3 2756.0 L494.0 2801.6" stroke="#0b0b0b" stroke-width="12.2"/>
<path d="M454.3 2756.0 L474.1 2778.8" stroke="#0e8020" stroke-width="7.8"/>
<path d="M471.4 2775.6 L474.1 2778.8" stroke="#22b23c" stroke-width="7.8"/>
<path d="M494.0 2801.6 L474.1 2778.8" stroke="#ff1010" stroke-width="7.8"/>
<path d="M338.1 2810.3 L283.5 2858.1" stroke="#0b0b0b" stroke-width="12.2"/>
<path d="M338.1 2810.3 L310.8 2834.2" stroke="#ff1010" stroke-width="7.8"/>
<path d="M283.5 2858.1 L310.8 2834.2" stroke="#0e8020" stroke-width="7.8"/>
<path d="M307.0 2837.6 L310.8 2834.2" stroke="#22b23c" stroke-width="7.8"/>
<path d="M416.3 2806.0 L361.0 2855.2" stroke="#0b0b0b" stroke-width="12.2"/>
<path d="M416.3 2806.0 L388.7 2830.6" stroke="#0e8020" stroke-width="7.8"/>
<path d="M361.0 2855.2 L388.7 2830.6" stroke="#0e8020" stroke-width="7.8"/>
<path d="M416.3 2806.0 L472.9 2853.8" stroke="#0b0b0b" stroke-width="12.2"/>
<path d="M416.3 2806.0 L444.6 2829.9" stroke="#0e8020" stroke-width="7.8"/>
<path d="M472.9 2853.8 L444.6 2829.9" stroke="#0e8020" stroke-width="7.8"/>
<path d="M527.4 2806.0 L472.9 2853.8" stroke="#0b0b0b" stroke-width="12.2"/>
<path d="M527.4 2806.0 L500.1 2829.9" stroke="#ff1010" stroke-width="7.8"/>
<path d="M472.9 2853.8 L500.1 2829.9" stroke="#0e8020" stroke-width="7.8"/>
<path d="M496.3 2833.2 L500.1 2829.9" stroke="#22b23c" stroke-width="7.8"/>
<path d="M283.5 2858.1 L323.4 2904.6" stroke="#0b0b0b" stroke-width="12.2"/>
<path d="M283.5 2858.1 L303.5 2881.4" stroke="#0e8020" stroke-width="7.8"/>
<path d="M300.7 2878.1 L303.5 2881.4" stroke="#22b23c" stroke-width="7.8"/>
<path d="M323.4 2904.6 L303.5 2881.4" stroke="#ff1010" stroke-width="7.8"/>
<path d="M361.0 2855.2 L323.4 2904.6" stroke="#0b0b0b" stroke-width="12.2"/>
<path d="M361.0 2855.2 L342.2 2879.9" stroke="#0e8020" stroke-width="7.8"/>
<path d="M344.8 2876.5 L342.2 2879.9" stroke="#22b23c" stroke-width="7.8"/>
<path d="M323.4 2904.6 L342.2 2879.9" stroke="#ff1010" stroke-width="7.8"/>
<path d="M361.0 2855.2 L400.9 2900.6" stroke="#0b0b0b" stroke-width="12.2"/>
<path d="M361.0 2855.2 L381.0 2877.9" stroke="#0e8020" stroke-width="7.8"/>
<path d="M378.2 2874.8 L381.0 2877.9" stroke="#22b23c" stroke-width="7.8"/>
<path d="M400.9 2900.6 L381.0 2877.9" stroke="#ff1010" stroke-width="7.8"/>
<path d="M438.2 2850.2 L400.9 2900.6" stroke="#0b0b0b" stroke-width="12.2"/>
<path d="M438.2 2850.2 L419.5 2875.4" stroke="#0e8020" stroke-width="7.8"/>
<path d="M422.1 2871.9 L419.5 2875.4" stroke="#22b23c" stroke-width="7.8"/>
<path d="M400.9 2900.6 L419.5 2875.4" stroke="#ff1010" stroke-width="7.8"/>
<path d="M472.9 2853.8 L434.7 2904.6" stroke="#0b0b0b" stroke-width="12.2"/>
<path d="M472.9 2853.8 L453.8 2879.2" stroke="#0e8020" stroke-width="7.8"/>
<path d="M456.5 2875.6 L453.8 2879.2" stroke="#22b23c" stroke-width="7.8"/>
<path d="M434.7 2904.6 L453.8 2879.2" stroke="#ff1010" stroke-width="7.8"/>
<path d="M472.9 2853.8 L512.5 2900.6" stroke="#0b0b0b" stroke-width="12.2"/>
<path d="M472.9 2853.8 L492.7 2877.2" stroke="#0e8020" stroke-width="7.8"/>
<path d="M489.9 2873.9 L492.7 2877.2" stroke="#22b23c" stroke-width="7.8"/>
<path d="M512.5 2900.6 L492.7 2877.2" stroke="#ff1010" stroke-width="7.8"/>
<path d="M549.8 2850.2 L512.5 2900.6" stroke="#0b0b0b" stroke-width="12.2"/>
<path d="M549.8 2850.2 L531.2 2875.4" stroke="#0e8020" stroke-width="7.8"/>
<path d="M533.8 2871.9 L531.2 2875.4" stroke="#22b23c" stroke-width="7.8"/>
<path d="M512.5 2900.6 L531.2 2875.4" stroke="#ff1010" stroke-width="7.8"/>
<path d="M323.4 2904.6 L268.4 2952.6" stroke="#0b0b0b" stroke-width="12.2"/>
<path d="M323.4 2904.6 L295.9 2928.6" stroke="#ff1010" stroke-width="7.8"/>
<path d="M268.4 2952.6 L295.9 2928.6" stroke="#0e8020" stroke-width="7.8"/>
<path d="M292.0 2931.9 L295.9 2928.6" stroke="#22b23c" stroke-width="7.8"/>
<path d="M323.4 2904.6 L379.4 2952.6" stroke="#0b0b0b" stroke-width="12.2"/>
<path d="M323.4 2904.6 L351.4 2928.6" stroke="#ff1010" stroke-width="7.8"/>
<path d="M379.4 2952.6 L351.4 2928.6" stroke="#0e8020" stroke-width="7.8"/>
<path d="M355.3 2931.9 L351.4 2928.6" stroke="#22b23c" stroke-width="7.8"/>
<path d="M400.9 2900.6 L457.3 2948.9" stroke="#0b0b0b" stroke-width="12.2"/>
<path d="M400.9 2900.6 L429.1 2924.8" stroke="#ff1010" stroke-width="7.8"/>
<path d="M457.3 2948.9 L429.1 2924.8" stroke="#0e8020" stroke-width="7.8"/>
<path d="M433.0 2928.2 L429.1 2924.8" stroke="#22b23c" stroke-width="7.8"/>
<path d="M434.7 2904.6 L379.4 2952.6" stroke="#0b0b0b" stroke-width="12.2"/>
<path d="M434.7 2904.6 L407.0 2928.6" stroke="#ff1010" stroke-width="7.8"/>
<path d="M379.4 2952.6 L407.0 2928.6" stroke="#0e8020" stroke-width="7.8"/>
<path d="M403.2 2931.9 L407.0 2928.6" stroke="#22b23c" stroke-width="7.8"/>
<path d="M512.5 2900.6 L457.3 2948.9" stroke="#0b0b0b" stroke-width="12.2"/>
<path d="M512.5 2900.6 L484.9 2924.8" stroke="#ff1010" stroke-width="7.8"/>
<path d="M457.3 2948.9 L484.9 2924.8" stroke="#0e8020" stroke-width="7.8"/>
<path d="M481.0 2928.2 L484.9 2924.8" stroke="#22b23c" stroke-width="7.8"/>
<path d="M512.5 2900.6 L568.9 2948.9" stroke="#0b0b0b" stroke-width="12.2"/>
<path d="M512.5 2900.6 L540.7 2924.8" stroke="#ff1010" stroke-width="7.8"/>
<path d="M568.9 2948.9 L540.7 2924.8" stroke="#0e8020" stroke-width="7.8"/>
<path d="M544.6 2928.2 L540.7 2924.8" stroke="#22b23c" stroke-width="7.8"/>
<path d="M268.4 2952.6 L308.7 2998.9" stroke="#0b0b0b" stroke-width="12.2"/>
<path d="M268.4 2952.6 L288.5 2975.7" stroke="#0e8020" stroke-width="7.8"/>
<path d="M285.7 2972.5 L288.5 2975.7" stroke="#22b23c" stroke-width="7.8"/>
<path d="M308.7 2998.9 L288.5 2975.7" stroke="#ff1010" stroke-width="7.8"/>
<path d="M346.5 2948.2 L308.7 2998.9" stroke="#0b0b0b" stroke-width="12.2"/>
<path d="M346.5 2948.2 L327.6 2973.6" stroke="#0e8020" stroke-width="7.8"/>
<path d="M330.2 2970.0 L327.6 2973.6" stroke="#22b23c" stroke-width="7.8"/>
<path d="M308.7 2998.9 L327.6 2973.6" stroke="#ff1010" stroke-width="7.8"/>
<path d="M379.4 2952.6 L342.2 3003.2" stroke="#0b0b0b" stroke-width="12.2"/>
<path d="M379.4 2952.6 L360.8 2977.9" stroke="#0e8020" stroke-width="7.8"/>
<path d="M363.4 2974.4 L360.8 2977.9" stroke="#22b23c" stroke-width="7.8"/>
<path d="M342.2 3003.2 L360.8 2977.9" stroke="#ff1010" stroke-width="7.8"/>
<path d="M379.4 2952.6 L419.3 2998.9" stroke="#0b0b0b" stroke-width="12.2"/>
<path d="M379.4 2952.6 L399.3 2975.7" stroke="#0e8020" stroke-width="7.8"/>
<path d="M396.5 2972.5 L399.3 2975.7" stroke="#22b23c" stroke-width="7.8"/>
<path d="M419.3 2998.9 L399.3 2975.7" stroke="#ff1010" stroke-width="7.8"/>
<path d="M457.3 2948.9 L419.3 2998.9" stroke="#0b0b0b" stroke-width="12.2"/>
<path d="M457.3 2948.9 L438.3 2973.9" stroke="#0e8020" stroke-width="7.8"/>
<path d="M440.9 2970.4 L438.3 2973.9" stroke="#22b23c" stroke-width="7.8"/>
<path d="M419.3 2998.9 L438.3 2973.9" stroke="#ff1010" stroke-width="7.8"/>
<path d="M457.3 2948.9 L497.0 2995.3" stroke="#0b0b0b" stroke-width="12.2"/>
<path d="M457.3 2948.9 L477.1 2972.1" stroke="#0e8020" stroke-width="7.8"/>
<path d="M474.3 2968.9 L477.1 2972.1" stroke="#22b23c" stroke-width="7.8"/>
<path d="M497.0 2995.3 L477.1 2972.1" stroke="#ff1010" stroke-width="7.8"/>
<path d="M568.9 2948.9 L530.5 2998.9" stroke="#0b0b0b" stroke-width="12.2"/>
<path d="M568.9 2948.9 L549.7 2973.9" stroke="#0e8020" stroke-width="7.8"/>
<path d="M552.4 2970.4 L549.7 2973.9" stroke="#22b23c" stroke-width="7.8"/>
<path d="M530.5 2998.9 L549.7 2973.9" stroke="#ff1010" stroke-width="7.8"/>
<path d="M308.7 2998.9 L364.5 3047.4" stroke="#0b0b0b" stroke-width="12.2"/>
<path d="M308.7 2998.9 L336.6 3023.2" stroke="#ff1010" stroke-width="7.8"/>
<path d="M364.5 3047.4 L336.6 3023.2" stroke="#0e8020" stroke-width="7.8"/>
<path d="M340.5 3026.6 L336.6 3023.2" stroke="#22b23c" stroke-width="7.8"/>
<path d="M419.3 2998.9 L364.5 3047.4" stroke="#0b0b0b" stroke-width="12.2"/>
<path d="M419.3 2998.9 L391.9 3023.2" stroke="#ff1010" stroke-width="7.8"/>
<path d="M364.5 3047.4 L391.9 3023.2" stroke="#0e8020" stroke-width="7.8"/>
<path d="M388.1 3026.6 L391.9 3023.2" stroke="#22b23c" stroke-width="7.8"/>
<path d="M419.3 2998.9 L475.3 3047.4" stroke="#0b0b0b" stroke-width="12.2"/>
<path d="M419.3 2998.9 L447.3 3023.2" stroke="#ff1010" stroke-width="7.8"/>
<path d="M475.3 3047.4 L447.3 3023.2" stroke="#0e8020" stroke-width="7.8"/>
<path d="M451.2 3026.6 L447.3 3023.2" stroke="#22b23c" stroke-width="7.8"/>
<path d="M530.5 2998.9 L475.3 3047.4" stroke="#0b0b0b" stroke-width="12.2"/>
<path d="M530.5 2998.9 L502.9 3023.2" stroke="#ff1010" stroke-width="7.8"/>
<path d="M475.3 3047.4 L502.9 3023.2" stroke="#0e8020" stroke-width="7.8"/>
<path d="M499.0 3026.6 L502.9 3023.2" stroke="#22b23c" stroke-width="7.8"/>
<circle cx="361.0" cy="2855.2" r="9.5" fill="url(#gg)"/>
<circle cx="472.9" cy="2853.8" r="9.5" fill="url(#gg)"/>
<circle cx="379.4" cy="2952.6" r="9.5" fill="url(#gg)"/>
<circle cx="457.3" cy="2948.9" r="9.5" fill="url(#gg)"/>
<circle cx="416.3" cy="2806.0" r="9.5" fill="url(#gg)"/>
<circle cx="494.0" cy="2801.6" r="9.5" fill="url(#gr)"/>
<circle cx="323.4" cy="2904.6" r="9.5" fill="url(#gr)"/>
<circle cx="400.9" cy="2900.6" r="9.5" fill="url(#gr)"/>
<circle cx="512.5" cy="2900.6" r="9.5" fill="url(#gr)"/>
<circle cx="308.7" cy="2998.9" r="9.5" fill="url(#gr)"/>
<circle cx="419.3" cy="2998.9" r="9.5" fill="url(#gr)"/>
<circle cx="376.5" cy="2759.6" r="10.7" fill="url(#gg)"/>
<circle cx="454.3" cy="2756.0" r="10.7" fill="url(#gg)"/>
<circle cx="283.5" cy="2858.1" r="10.7" fill="url(#gg)"/>
<circle cx="438.2" cy="2850.2" r="10.7" fill="url(#gg)"/>
<circle cx="549.8" cy="2850.2" r="10.7" fill="url(#gg)"/>
<circle cx="268.4" cy="2952.6" r="10.7" fill="url(#gg)"/>
<circle cx="346.5" cy="2948.2" r="10.7" fill="url(#gg)"/>
<circle cx="568.9" cy="2948.9" r="10.7" fill="url(#gg)"/>
<circle cx="364.5" cy="3047.4" r="10.7" fill="url(#gg)"/>
<circle cx="475.3" cy="3047.4" r="10.7" fill="url(#gg)"/>
<circle cx="304.6" cy="2806.0" r="10.7" fill="url(#gr)"/>
<circle cx="338.1" cy="2810.3" r="10.7" fill="url(#gr)"/>
<circle cx="527.4" cy="2806.0" r="10.7" fill="url(#gr)"/>
<circle cx="434.7" cy="2904.6" r="10.7" fill="url(#gr)"/>
<circle cx="342.2" cy="3003.2" r="10.7" fill="url(#gr)"/>
<circle cx="497.0" cy="2995.3" r="10.7" fill="url(#gr)"/>
<circle cx="530.5" cy="2998.9" r="10.7" fill="url(#gr)"/>
</g>
<clipPath id="cph"><rect x="1259.1" y="2737.0" width="832.8" height="729.2"/></clipPath>
<g clip-path="url(#cph)">
<path d="M1261.1 3124.1 L1261.7 3287.5 L1265.7 3273.3 L1269.5 3311.1 L1273.5 3368.0 L1277.5 3157.3 L1283.0 3101.6 L1286.5 3334.8 L1290.8 3410.6 L1294.3 3334.8 L1298.3 3268.5 L1303.1 3240.1 L1306.6 3178.6 L1311.4 3177.4 L1315.4 3223.5 L1319.2 3154.9 L1323.9 3230.6 L1328.7 3180.9 L1332.2 3021.1 L1342.1 3327.7 L1347.6 3216.4 L1352.3 3165.5 L1357.1 3160.8 L1361.1 3228.3 L1364.6 3294.6 L1369.4 3302.9 L1374.1 3332.4 L1378.4 3430.7 L1382.4 3405.8 L1387.1 3370.3 L1390.7 3334.8 L1394.2 3299.3 L1398.3 3275.6 L1402.5 3254.8 L1407.2 3270.9 L1412.0 3323.0 L1416.7 3356.1 L1420.3 3362.0 L1423.8 3360.9 L1428.1 3365.6 L1432.1 3349.0 L1436.1 3336.0 L1440.4 3292.2 L1444.4 3276.8 L1448.7 3306.4 L1452.2 3394.0 L1457.0 3410.6 L1461.2 3401.1 L1465.3 3358.5 L1469.3 3285.1 L1474.7 3299.3 L1478.3 3314.7 L1481.8 3417.7 L1485.4 3450.8 L1490.1 3446.1 L1494.8 3439.0 L1498.4 3424.8 L1501.9 3382.2 L1506.7 3323.0 L1510.2 3236.6 L1515.0 3241.3 L1518.5 3320.6 L1523.3 3285.1 L1527.5 3197.5 L1531.5 3334.8 L1535.1 3401.1 L1535.7 3405.8 L1540.5 3427.1 L1547.6 3287.5 L1551.8 3251.5 L1560.6 3382.2 L1565.3 3401.1 L1568.9 3403.5 L1573.6 3370.3 L1577.2 3323.0 L1581.2 3227.1 L1585.9 3285.1 L1589.7 3273.3 L1593.7 3272.1 L1597.8 3248.4 L1602.0 3311.1 L1606.8 3398.7 L1614.3 3162.0 L1618.6 3228.3 L1622.9 3276.8 L1626.9 3204.6 L1630.4 3096.2 L1635.2 3263.8 L1639.4 3386.9 L1647.5 3165.5 L1656.0 3405.8 L1660.0 3386.9 L1663.6 3212.9 L1668.3 3225.9 L1672.6 3278.0 L1676.6 3221.2 L1680.6 3254.3 L1684.9 3299.3 L1689.1 3311.1 L1693.2 3040.1 L1697.9 3216.4 L1701.5 3318.2 L1705.7 3171.5 L1710.2 3150.6 L1714.5 3382.2 L1719.2 3450.8 L1722.8 3464.2 L1811.5 3464.2 L1815.7 3457.9 L1819.3 3441.3 L1822.8 3394.0 L1826.4 3346.6 L1830.4 3299.3 L1834.2 3217.6 L1839.4 3306.4 L1843.0 3382.2 L1846.5 3453.2 L1848.9 3448.4 L1851.2 3441.3 L1854.3 3372.7 L1858.3 3346.6 L1863.1 3338.4 L1867.8 3336.0 L1872.1 3312.3 L1876.1 3394.0 L1879.7 3440.2 L1882.0 3436.6 L1884.9 3382.2 L1887.9 3218.8 L1892.7 3242.5 L1897.4 3282.7 L1902.1 3334.8 L1905.2 3360.9 L1909.2 3334.8 L1913.3 3308.8 L1918.0 3330.1 L1922.3 3365.6 L1927.0 3405.8 L1930.6 3436.6 L1934.1 3457.9 L1938.8 3464.2 L1950.7 3464.2 L1954.2 3368.0 L1959.0 3354.9 L1963.7 3323.0 L1967.2 3320.1 L1972.0 3339.5 L1976.7 3384.5 L1981.5 3429.5 L1986.2 3450.8 L1990.9 3459.1 L1998.0 3462.7 L2002.8 3464.2 L2025.3 3464.2 L2028.8 3441.3 L2033.5 3415.3 L2038.3 3398.7 L2044.2 3372.7 L2050.1 3311.1 L2054.4 3297.4 L2058.4 3370.3 L2061.9 3424.8 L2065.5 3450.8 L2070.2 3460.3 L2076.2 3463.8 L2080.9 3457.9 L2083.7 3429.5 L2086.8 3340.7 L2089.9 3337.2" fill="none" stroke="#0068bd" stroke-width="3.20" stroke-linejoin="miter" stroke-miterlimit="3" stroke-linecap="butt"/>
<path d="M1261.1 3229.8 L1261.7 3346.9 L1265.7 3335.3 L1269.5 3355.6 L1273.5 3392.8 L1277.5 3251.7 L1282.5 3221.3 L1283.0 3210.1 L1286.5 3376.1 L1290.8 3424.7 L1294.3 3372.2 L1298.3 3323.9 L1303.1 3300.7 L1306.6 3261.0 L1311.4 3252.6 L1315.4 3283.0 L1319.2 3232.4 L1323.9 3295.9 L1328.7 3247.0 L1332.2 3122.2 L1336.2 3203.0 L1340.5 3302.2 L1342.1 3353.4 L1344.5 3309.5 L1347.6 3271.0 L1348.1 3269.5 L1352.3 3246.5 L1357.1 3252.8 L1361.1 3301.0 L1364.6 3345.4 L1369.4 3347.1 L1374.1 3364.7 L1377.7 3421.7 L1378.4 3437.9 L1382.4 3419.2 L1387.1 3395.7 L1390.7 3374.1 L1394.2 3350.8 L1398.3 3336.2 L1402.5 3322.7 L1407.2 3333.9 L1412.0 3369.6 L1416.7 3391.9 L1420.3 3396.7 L1423.8 3394.4 L1428.1 3395.5 L1432.1 3381.4 L1436.1 3371.9 L1440.4 3339.9 L1444.4 3329.3 L1448.7 3350.9 L1452.2 3413.9 L1457.0 3425.1 L1461.2 3418.1 L1465.3 3392.6 L1469.3 3348.2 L1474.7 3358.8 L1478.3 3370.0 L1481.8 3433.0 L1485.4 3455.2 L1490.1 3452.4 L1494.8 3447.7 L1498.4 3438.1 L1501.9 3410.1 L1506.7 3369.2 L1510.2 3316.7 L1515.0 3322.7 L1518.5 3379.8 L1523.3 3357.0 L1527.5 3295.2 L1531.5 3380.5 L1535.1 3414.6 L1535.7 3423.4 L1540.5 3431.8 L1544.0 3385.2 L1547.6 3345.8 L1551.8 3338.3 L1555.9 3363.1 L1560.6 3396.8 L1565.3 3412.0 L1568.9 3413.2 L1573.6 3388.5 L1577.2 3357.3 L1581.2 3313.4 L1581.9 3330.9 L1585.9 3350.4 L1589.7 3341.1 L1593.7 3332.9 L1597.8 3316.6 L1602.0 3357.4 L1606.8 3403.9 L1610.3 3315.6 L1614.3 3264.5 L1615.0 3286.7 L1618.6 3315.1 L1622.9 3341.9 L1626.9 3302.8 L1630.4 3234.1 L1630.9 3255.1 L1635.2 3334.5 L1639.4 3397.5 L1643.5 3333.8 L1647.5 3267.0 L1652.2 3357.2 L1656.0 3412.1 L1660.0 3400.3 L1660.7 3368.3 L1663.6 3289.0 L1664.8 3317.2 L1668.3 3326.9 L1672.6 3355.0 L1676.6 3317.4 L1680.6 3338.6 L1684.9 3357.7 L1689.1 3356.5 L1693.2 3196.3 L1694.4 3270.9 L1697.9 3310.3 L1701.5 3361.9 L1701.9 3342.7 L1705.7 3262.8 L1706.2 3266.6 L1710.2 3232.8 L1714.5 3384.1 L1719.2 3450.7 L1722.8 3464.2 L1811.5 3464.2 L1815.7 3461.5 L1819.3 3453.2 L1822.8 3436.6 L1826.4 3420.0 L1830.4 3401.1 L1834.2 3368.0 L1839.4 3403.5 L1843.0 3431.9 L1846.5 3460.3 L1848.9 3457.9 L1851.2 3455.5 L1854.3 3427.1 L1858.3 3415.3 L1863.1 3412.9 L1867.8 3411.8 L1872.1 3405.8 L1876.1 3431.9 L1879.7 3449.6 L1882.0 3446.1 L1884.9 3436.6 L1887.9 3382.2 L1892.7 3391.6 L1897.4 3401.1 L1902.1 3420.0 L1905.2 3427.1 L1909.2 3417.7 L1913.3 3411.8 L1918.0 3417.7 L1922.3 3431.9 L1927.0 3446.1 L1930.6 3457.9 L1934.1 3462.7 L1938.8 3464.2 L1950.7 3464.2 L1954.2 3426.0 L1959.0 3420.0 L1963.7 3409.4 L1967.2 3408.2 L1972.0 3415.3 L1976.7 3431.9 L1981.5 3450.8 L1986.2 3459.1 L1990.9 3462.7 L1998.0 3463.8 L2002.8 3464.2 L2025.3 3464.2 L2028.8 3457.9 L2033.5 3450.8 L2038.3 3446.1 L2044.2 3439.0 L2050.1 3424.8 L2054.4 3421.2 L2058.4 3441.3 L2061.9 3455.5 L2065.5 3461.5 L2070.2 3463.8 L2076.2 3464.2 L2080.9 3462.7 L2083.7 3453.2 L2086.8 3428.3 L2089.9 3427.1" fill="none" stroke="#ff5014" stroke-width="2.60" stroke-linejoin="miter" stroke-miterlimit="3" stroke-linecap="butt"/>
<path d="M1261.1 3358.5 L1261.7 3404.6 L1265.7 3402.3 L1269.5 3420.0 L1273.5 3439.0 L1277.5 3370.3 L1282.5 3349.0 L1286.5 3422.4 L1290.8 3449.6 L1294.3 3427.1 L1298.3 3409.4 L1303.1 3403.5 L1306.6 3382.2 L1311.4 3389.3 L1315.4 3404.6 L1319.2 3386.9 L1323.9 3398.7 L1328.7 3396.4 L1332.2 3363.2 L1336.2 3405.8 L1340.5 3439.0 L1344.5 3434.2 L1348.1 3405.8 L1352.3 3383.3 L1357.1 3372.7 L1361.1 3391.6 L1364.6 3412.9 L1369.4 3420.0 L1374.1 3431.9 L1377.7 3457.9 L1382.4 3450.8 L1387.1 3439.0 L1390.7 3424.8 L1394.2 3412.9 L1398.3 3403.5 L1402.5 3396.4 L1407.2 3401.1 L1412.0 3417.7 L1416.7 3428.3 L1420.3 3429.5 L1423.8 3430.7 L1428.1 3434.2 L1432.1 3431.9 L1436.1 3428.3 L1440.4 3416.5 L1444.4 3411.8 L1448.7 3420.0 L1452.2 3443.7 L1457.0 3449.6 L1461.2 3447.3 L1465.3 3429.5 L1469.3 3401.1 L1474.7 3404.6 L1478.3 3409.4 L1481.8 3448.4 L1485.4 3459.8 L1490.1 3457.9 L1494.8 3455.5 L1498.4 3450.8 L1501.9 3436.6 L1506.7 3417.7 L1510.2 3384.5 L1515.0 3383.3 L1518.5 3404.6 L1523.3 3391.6 L1527.5 3366.8 L1531.5 3417.7 L1535.1 3450.8 L1535.7 3446.1 L1540.5 3459.1 L1544.0 3436.6 L1547.6 3405.8 L1551.8 3377.4 L1555.9 3412.9 L1560.6 3449.6 L1565.3 3453.2 L1568.9 3454.4 L1573.6 3446.1 L1577.2 3429.5 L1581.9 3369.1 L1585.9 3398.7 L1589.7 3396.4 L1593.7 3403.5 L1597.8 3396.4 L1602.0 3417.7 L1606.8 3457.9 L1610.3 3436.6 L1615.0 3349.0 L1618.6 3377.4 L1622.9 3398.7 L1626.9 3365.6 L1630.9 3321.8 L1635.2 3394.0 L1639.4 3453.2 L1643.5 3405.8 L1647.5 3363.2 L1652.2 3405.8 L1656.0 3457.9 L1660.7 3449.6 L1664.8 3363.2 L1668.3 3363.2 L1672.6 3386.9 L1676.6 3368.0 L1680.6 3379.8 L1684.9 3405.8 L1689.1 3418.9 L1694.4 3278.0 L1697.9 3370.3 L1701.9 3424.8 L1706.2 3366.8 L1710.2 3382.2 L1714.5 3462.7 L1719.2 3464.2 L1811.5 3464.2 L1815.7 3460.3 L1819.3 3448.4 L1822.8 3417.7 L1826.4 3382.2 L1830.4 3353.8 L1834.2 3313.5 L1839.4 3363.2 L1843.0 3417.7 L1846.5 3457.9 L1848.9 3455.5 L1851.2 3450.8 L1854.3 3415.3 L1858.3 3394.0 L1863.1 3386.9 L1867.8 3384.5 L1872.1 3369.1 L1876.1 3424.8 L1879.7 3452.0 L1882.0 3448.4 L1884.9 3417.7 L1887.9 3300.5 L1892.7 3313.5 L1897.4 3346.6 L1902.1 3375.1 L1905.2 3392.8 L1909.2 3375.1 L1913.3 3354.9 L1918.0 3370.3 L1922.3 3396.4 L1927.0 3424.8 L1930.6 3446.1 L1934.1 3460.3 L1938.8 3464.2 L1950.7 3464.2 L1954.2 3401.1 L1959.0 3389.3 L1963.7 3370.3 L1967.2 3368.0 L1972.0 3379.8 L1976.7 3410.6 L1981.5 3439.0 L1986.2 3453.2 L1990.9 3460.3 L1998.0 3463.1 L2002.8 3464.2 L2025.3 3464.2 L2028.8 3453.2 L2033.5 3434.2 L2038.3 3417.7 L2044.2 3394.0 L2050.1 3346.6 L2054.4 3338.4 L2058.4 3394.0 L2061.9 3436.6 L2065.5 3453.2 L2070.2 3461.5 L2076.2 3463.8 L2080.9 3460.3 L2083.7 3441.3 L2086.8 3377.4 L2089.9 3372.7" fill="none" stroke="#ffac00" stroke-width="2.80" stroke-linejoin="miter" stroke-miterlimit="3" stroke-linecap="butt"/>
</g>
<rect x="1261.1" y="2737.0" width="828.8" height="727.2" fill="none" stroke="#505050" stroke-width="1.7"/>
<text x="1261.1" y="3510.9" text-anchor="middle" class="t">-2</text>
<path d="M1364.7 3464.2 v-8.0 M1364.7 2737.0 v8.0" stroke="#505050" stroke-width="1.4"/>
<text x="1364.7" y="3510.9" text-anchor="middle" class="t">-1.5</text>
<path d="M1468.3 3464.2 v-8.0 M1468.3 2737.0 v8.0" stroke="#505050" stroke-width="1.4"/>
<text x="1468.3" y="3510.9" text-anchor="middle" class="t">-1</text>
<path d="M1571.9 3464.2 v-8.0 M1571.9 2737.0 v8.0" stroke="#505050" stroke-width="1.4"/>
<text x="1571.9" y="3510.9" text-anchor="middle" class="t">-0.5</text>
<path d="M1675.5 3464.2 v-8.0 M1675.5 2737.0 v8.0" stroke="#505050" stroke-width="1.4"/>
<text x="1675.5" y="3510.9" text-anchor="middle" class="t">0</text>
<path d="M1779.1 3464.2 v-8.0 M1779.1 2737.0 v8.0" stroke="#505050" stroke-width="1.4"/>
<text x="1779.1" y="3510.9" text-anchor="middle" class="t">0.5</text>
<path d="M1882.7 3464.2 v-8.0 M1882.7 2737.0 v8.0" stroke="#505050" stroke-width="1.4"/>
<text x="1882.7" y="3510.9" text-anchor="middle" class="t">1</text>
<path d="M1986.3 3464.2 v-8.0 M1986.3 2737.0 v8.0" stroke="#505050" stroke-width="1.4"/>
<text x="1986.3" y="3510.9" text-anchor="middle" class="t">1.5</text>
<text x="2089.9" y="3510.9" text-anchor="middle" class="t">2</text>
<text x="1249.3" y="3477.8" text-anchor="end" class="t">0</text>
<path d="M1261.1 3318.8 h8.0 M2089.9 3318.8 h-8.0" stroke="#505050" stroke-width="1.4"/>
<text x="1249.3" y="3332.4" text-anchor="end" class="t">500</text>
<path d="M1261.1 3173.3 h8.0 M2089.9 3173.3 h-8.0" stroke="#505050" stroke-width="1.4"/>
<text x="1249.3" y="3186.9" text-anchor="end" class="t">1000</text>
<path d="M1261.1 3027.9 h8.0 M2089.9 3027.9 h-8.0" stroke="#505050" stroke-width="1.4"/>
<text x="1249.3" y="3041.5" text-anchor="end" class="t">1500</text>
<path d="M1261.1 2882.4 h8.0 M2089.9 2882.4 h-8.0" stroke="#505050" stroke-width="1.4"/>
<text x="1249.3" y="2896.0" text-anchor="end" class="t">2000</text>
<text x="1249.3" y="2750.6" text-anchor="end" class="t">2500</text>
<text x="1674.5" y="3549.0" text-anchor="middle" class="xl">Energy(eV)</text>
<text transform="translate(1155.4 3100.6) rotate(-90)" text-anchor="middle" class="yl">Density of States</text>
<text x="1100.5" y="2741.8" class="pl">(h)</text>
<text x="1659.1" y="2820.8" class="ti">Cd<tspan class="sub" dy="24.2">15</tspan><tspan dy="-24.2">S</tspan><tspan class="sub" dy="24.2">13</tspan></text>
<path d="M1892.4 2770.3 h49" stroke="#0068bd" stroke-width="3"/>
<text x="1946.4" y="2783.5" class="t">Total</text>
<path d="M1892.4 2815.6 h49" stroke="#ff5014" stroke-width="3"/>
<text x="1946.4" y="2828.8" class="t">S</text>
<path d="M1892.4 2860.9 h49" stroke="#ffac00" stroke-width="3"/>
<text x="1946.4" y="2874.1" class="t">Cd</text>
<rect x="1292.8" y="2746.0" width="333.8" height="317.2" fill="#fff"/>
<g stroke-linecap="butt" filter="url(#bl1)">
<circle cx="1405.4" cy="2855.2" r="11.7" fill="#0b0b0b"/>
<circle cx="1482.6" cy="2850.2" r="12.9" fill="#0b0b0b"/>
<circle cx="1594.2" cy="2850.2" r="12.9" fill="#0b0b0b"/>
<circle cx="1390.9" cy="2948.2" r="12.9" fill="#0b0b0b"/>
<circle cx="1349.0" cy="2806.0" r="12.9" fill="#0b0b0b"/>
<circle cx="1538.4" cy="2801.6" r="11.7" fill="#0b0b0b"/>
<circle cx="1445.3" cy="2900.6" r="11.7" fill="#0b0b0b"/>
<path d="M1349.0 2806.0 L1405.4 2855.2" stroke="#0b0b0b" stroke-width="12.2"/>
<path d="M1349.0 2806.0 L1377.2 2830.6" stroke="#ff1010" stroke-width="7.8"/>
<path d="M1405.4 2855.2 L1377.2 2830.6" stroke="#0e8020" stroke-width="7.8"/>
<path d="M1381.2 2834.1 L1377.2 2830.6" stroke="#22b23c" stroke-width="7.8"/>
<path d="M1538.4 2801.6 L1482.6 2850.2" stroke="#0b0b0b" stroke-width="12.2"/>
<path d="M1538.4 2801.6 L1510.5 2825.9" stroke="#ff1010" stroke-width="7.8"/>
<path d="M1482.6 2850.2 L1510.5 2825.9" stroke="#0e8020" stroke-width="7.8"/>
<path d="M1506.6 2829.3 L1510.5 2825.9" stroke="#22b23c" stroke-width="7.8"/>
<path d="M1538.4 2801.6 L1594.2 2850.2" stroke="#0b0b0b" stroke-width="12.2"/>
<path d="M1538.4 2801.6 L1566.3 2825.9" stroke="#ff1010" stroke-width="7.8"/>
<path d="M1594.2 2850.2 L1566.3 2825.9" stroke="#0e8020" stroke-width="7.8"/>
<path d="M1570.2 2829.3 L1566.3 2825.9" stroke="#22b23c" stroke-width="7.8"/>
<path d="M1445.3 2900.6 L1390.9 2948.2" stroke="#0b0b0b" stroke-width="12.2"/>
<path d="M1445.3 2900.6 L1418.1 2924.4" stroke="#ff1010" stroke-width="7.8"/>
<path d="M1390.9 2948.2 L1418.1 2924.4" stroke="#0e8020" stroke-width="7.8"/>
<path d="M1414.3 2927.8 L1418.1 2924.4" stroke="#22b23c" stroke-width="7.8"/>
<circle cx="1420.9" cy="2759.6" r="12.9" fill="#0b0b0b"/>
<circle cx="1498.7" cy="2756.0" r="12.9" fill="#0b0b0b"/>
<circle cx="1327.9" cy="2858.1" r="12.9" fill="#0b0b0b"/>
<circle cx="1517.3" cy="2853.8" r="11.7" fill="#0b0b0b"/>
<circle cx="1312.8" cy="2952.6" r="12.9" fill="#0b0b0b"/>
<circle cx="1423.8" cy="2952.6" r="11.7" fill="#0b0b0b"/>
<circle cx="1501.7" cy="2948.9" r="11.7" fill="#0b0b0b"/>
<circle cx="1613.3" cy="2948.9" r="12.9" fill="#0b0b0b"/>
<circle cx="1408.9" cy="3047.4" r="12.9" fill="#0b0b0b"/>
<circle cx="1519.7" cy="3047.4" r="12.9" fill="#0b0b0b"/>
<circle cx="1382.5" cy="2810.3" r="12.9" fill="#0b0b0b"/>
<circle cx="1460.7" cy="2806.0" r="11.7" fill="#0b0b0b"/>
<circle cx="1571.8" cy="2806.0" r="12.9" fill="#0b0b0b"/>
<circle cx="1367.8" cy="2904.6" r="11.7" fill="#0b0b0b"/>
<circle cx="1479.1" cy="2904.6" r="12.9" fill="#0b0b0b"/>
<circle cx="1556.9" cy="2900.6" r="11.7" fill="#0b0b0b"/>
<circle cx="1353.1" cy="2998.9" r="11.7" fill="#0b0b0b"/>
<circle cx="1386.6" cy="3003.2" r="12.9" fill="#0b0b0b"/>
<circle cx="1463.7" cy="2998.9" r="11.7" fill="#0b0b0b"/>
<circle cx="1541.4" cy="2995.3" r="12.9" fill="#0b0b0b"/>
<circle cx="1574.9" cy="2998.9" r="12.9" fill="#0b0b0b"/>
<path d="M1420.9 2759.6 L1382.5 2810.3" stroke="#0b0b0b" stroke-width="12.2"/>
<path d="M1420.9 2759.6 L1401.7 2785.0" stroke="#0e8020" stroke-width="7.8"/>
<path d="M1404.4 2781.4 L1401.7 2785.0" stroke="#22b23c" stroke-width="7.8"/>
<path d="M1382.5 2810.3 L1401.7 2785.0" stroke="#ff1010" stroke-width="7.8"/>
<path d="M1420.9 2759.6 L1460.7 2806.0" stroke="#0b0b0b" stroke-width="12.2"/>
<path d="M1420.9 2759.6 L1440.8 2782.8" stroke="#0e8020" stroke-width="7.8"/>
<path d="M1438.0 2779.5 L1440.8 2782.8" stroke="#22b23c" stroke-width="7.8"/>
<path d="M1460.7 2806.0 L1440.8 2782.8" stroke="#ff1010" stroke-width="7.8"/>
<path d="M1498.7 2756.0 L1460.7 2806.0" stroke="#0b0b0b" stroke-width="12.2"/>
<path d="M1498.7 2756.0 L1479.7 2781.0" stroke="#0e8020" stroke-width="7.8"/>
<path d="M1482.4 2777.5 L1479.7 2781.0" stroke="#22b23c" stroke-width="7.8"/>
<path d="M1460.7 2806.0 L1479.7 2781.0" stroke="#ff1010" stroke-width="7.8"/>
<path d="M1498.7 2756.0 L1538.4 2801.6" stroke="#0b0b0b" stroke-width="12.2"/>
<path d="M1498.7 2756.0 L1518.5 2778.8" stroke="#0e8020" stroke-width="7.8"/>
<path d="M1515.8 2775.6 L1518.5 2778.8" stroke="#22b23c" stroke-width="7.8"/>
<path d="M1538.4 2801.6 L1518.5 2778.8" stroke="#ff1010" stroke-width="7.8"/>
<path d="M1382.5 2810.3 L1327.9 2858.1" stroke="#0b0b0b" stroke-width="12.2"/>
<path d="M1382.5 2810.3 L1355.2 2834.2" stroke="#ff1010" stroke-width="7.8"/>
<path d="M1327.9 2858.1 L1355.2 2834.2" stroke="#0e8020" stroke-width="7.8"/>
<path d="M1351.4 2837.6 L1355.2 2834.2" stroke="#22b23c" stroke-width="7.8"/>
<path d="M1460.7 2806.0 L1405.4 2855.2" stroke="#0b0b0b" stroke-width="12.2"/>
<path d="M1460.7 2806.0 L1433.1 2830.6" stroke="#ff1010" stroke-width="7.8"/>
<path d="M1405.4 2855.2 L1433.1 2830.6" stroke="#0e8020" stroke-width="7.8"/>
<path d="M1429.2 2834.1 L1433.1 2830.6" stroke="#22b23c" stroke-width="7.8"/>
<path d="M1460.7 2806.0 L1517.3 2853.8" stroke="#0b0b0b" stroke-width="12.2"/>
<path d="M1460.7 2806.0 L1489.0 2829.9" stroke="#ff1010" stroke-width="7.8"/>
<path d="M1517.3 2853.8 L1489.0 2829.9" stroke="#ff1010" stroke-width="7.8"/>
<path d="M1571.8 2806.0 L1517.3 2853.8" stroke="#0b0b0b" stroke-width="12.2"/>
<path d="M1571.8 2806.0 L1544.5 2829.9" stroke="#ff1010" stroke-width="7.8"/>
<path d="M1517.3 2853.8 L1544.5 2829.9" stroke="#ff1010" stroke-width="7.8"/>
<path d="M1327.9 2858.1 L1367.8 2904.6" stroke="#0b0b0b" stroke-width="12.2"/>
<path d="M1327.9 2858.1 L1347.9 2881.4" stroke="#0e8020" stroke-width="7.8"/>
<path d="M1345.1 2878.1 L1347.9 2881.4" stroke="#22b23c" stroke-width="7.8"/>
<path d="M1367.8 2904.6 L1347.9 2881.4" stroke="#ff1010" stroke-width="7.8"/>
<path d="M1405.4 2855.2 L1367.8 2904.6" stroke="#0b0b0b" stroke-width="12.2"/>
<path d="M1405.4 2855.2 L1386.6 2879.9" stroke="#0e8020" stroke-width="7.8"/>
<path d="M1389.2 2876.5 L1386.6 2879.9" stroke="#22b23c" stroke-width="7.8"/>
<path d="M1367.8 2904.6 L1386.6 2879.9" stroke="#ff1010" stroke-width="7.8"/>
<path d="M1405.4 2855.2 L1445.3 2900.6" stroke="#0b0b0b" stroke-width="12.2"/>
<path d="M1405.4 2855.2 L1425.4 2877.9" stroke="#0e8020" stroke-width="7.8"/>
<path d="M1422.6 2874.8 L1425.4 2877.9" stroke="#22b23c" stroke-width="7.8"/>
<path d="M1445.3 2900.6 L1425.4 2877.9" stroke="#ff1010" stroke-width="7.8"/>
<path d="M1482.6 2850.2 L1445.3 2900.6" stroke="#0b0b0b" stroke-width="12.2"/>
<path d="M1482.6 2850.2 L1463.9 2875.4" stroke="#0e8020" stroke-width="7.8"/>
<path d="M1466.5 2871.9 L1463.9 2875.4" stroke="#22b23c" stroke-width="7.8"/>
<path d="M1445.3 2900.6 L1463.9 2875.4" stroke="#ff1010" stroke-width="7.8"/>
<path d="M1517.3 2853.8 L1479.1 2904.6" stroke="#0b0b0b" stroke-width="12.2"/>
<path d="M1517.3 2853.8 L1498.2 2879.2" stroke="#ff1010" stroke-width="7.8"/>
<path d="M1479.1 2904.6 L1498.2 2879.2" stroke="#ff1010" stroke-width="7.8"/>
<path d="M1517.3 2853.8 L1556.9 2900.6" stroke="#0b0b0b" stroke-width="12.2"/>
<path d="M1517.3 2853.8 L1537.1 2877.2" stroke="#ff1010" stroke-width="7.8"/>
<path d="M1556.9 2900.6 L1537.1 2877.2" stroke="#ff1010" stroke-width="7.8"/>
<path d="M1594.2 2850.2 L1556.9 2900.6" stroke="#0b0b0b" stroke-width="12.2"/>
<path d="M1594.2 2850.2 L1575.6 2875.4" stroke="#0e8020" stroke-width="7.8"/>
<path d="M1578.2 2871.9 L1575.6 2875.4" stroke="#22b23c" stroke-width="7.8"/>
<path d="M1556.9 2900.6 L1575.6 2875.4" stroke="#ff1010" stroke-width="7.8"/>
<path d="M1367.8 2904.6 L1312.8 2952.6" stroke="#0b0b0b" stroke-width="12.2"/>
<path d="M1367.8 2904.6 L1340.3 2928.6" stroke="#ff1010" stroke-width="7.8"/>
<path d="M1312.8 2952.6 L1340.3 2928.6" stroke="#0e8020" stroke-width="7.8"/>
<path d="M1336.4 2931.9 L1340.3 2928.6" stroke="#22b23c" stroke-width="7.8"/>
<path d="M1367.8 2904.6 L1423.8 2952.6" stroke="#0b0b0b" stroke-width="12.2"/>
<path d="M1367.8 2904.6 L1395.8 2928.6" stroke="#ff1010" stroke-width="7.8"/>
<path d="M1423.8 2952.6 L1395.8 2928.6" stroke="#0e8020" stroke-width="7.8"/>
<path d="M1399.7 2931.9 L1395.8 2928.6" stroke="#22b23c" stroke-width="7.8"/>
<path d="M1445.3 2900.6 L1501.7 2948.9" stroke="#0b0b0b" stroke-width="12.2"/>
<path d="M1445.3 2900.6 L1473.5 2924.8" stroke="#ff1010" stroke-width="7.8"/>
<path d="M1501.7 2948.9 L1473.5 2924.8" stroke="#0e8020" stroke-width="7.8"/>
<path d="M1477.4 2928.2 L1473.5 2924.8" stroke="#22b23c" stroke-width="7.8"/>
<path d="M1479.1 2904.6 L1423.8 2952.6" stroke="#0b0b0b" stroke-width="12.2"/>
<path d="M1479.1 2904.6 L1451.4 2928.6" stroke="#ff1010" stroke-width="7.8"/>
<path d="M1423.8 2952.6 L1451.4 2928.6" stroke="#0e8020" stroke-width="7.8"/>
<path d="M1447.6 2931.9 L1451.4 2928.6" stroke="#22b23c" stroke-width="7.8"/>
<path d="M1556.9 2900.6 L1501.7 2948.9" stroke="#0b0b0b" stroke-width="12.2"/>
<path d="M1556.9 2900.6 L1529.3 2924.8" stroke="#ff1010" stroke-width="7.8"/>
<path d="M1501.7 2948.9 L1529.3 2924.8" stroke="#0e8020" stroke-width="7.8"/>
<path d="M1525.4 2928.2 L1529.3 2924.8" stroke="#22b23c" stroke-width="7.8"/>
<path d="M1556.9 2900.6 L1613.3 2948.9" stroke="#0b0b0b" stroke-width="12.2"/>
<path d="M1556.9 2900.6 L1585.1 2924.8" stroke="#ff1010" stroke-width="7.8"/>
<path d="M1613.3 2948.9 L1585.1 2924.8" stroke="#0e8020" stroke-width="7.8"/>
<path d="M1589.0 2928.2 L1585.1 2924.8" stroke="#22b23c" stroke-width="7.8"/>
<path d="M1312.8 2952.6 L1353.1 2998.9" stroke="#0b0b0b" stroke-width="12.2"/>
<path d="M1312.8 2952.6 L1332.9 2975.7" stroke="#0e8020" stroke-width="7.8"/>
<path d="M1330.1 2972.5 L1332.9 2975.7" stroke="#22b23c" stroke-width="7.8"/>
<path d="M1353.1 2998.9 L1332.9 2975.7" stroke="#ff1010" stroke-width="7.8"/>
<path d="M1390.9 2948.2 L1353.1 2998.9" stroke="#0b0b0b" stroke-width="12.2"/>
<path d="M1390.9 2948.2 L1372.0 2973.6" stroke="#0e8020" stroke-width="7.8"/>
<path d="M1374.6 2970.0 L1372.0 2973.6" stroke="#22b23c" stroke-width="7.8"/>
<path d="M1353.1 2998.9 L1372.0 2973.6" stroke="#ff1010" stroke-width="7.8"/>
<path d="M1423.8 2952.6 L1386.6 3003.2" stroke="#0b0b0b" stroke-width="12.2"/>
<path d="M1423.8 2952.6 L1405.2 2977.9" stroke="#0e8020" stroke-width="7.8"/>
<path d="M1407.8 2974.4 L1405.2 2977.9" stroke="#22b23c" stroke-width="7.8"/>
<path d="M1386.6 3003.2 L1405.2 2977.9" stroke="#ff1010" stroke-width="7.8"/>
<path d="M1423.8 2952.6 L1463.7 2998.9" stroke="#0b0b0b" stroke-width="12.2"/>
<path d="M1423.8 2952.6 L1443.7 2975.7" stroke="#0e8020" stroke-width="7.8"/>
<path d="M1440.9 2972.5 L1443.7 2975.7" stroke="#22b23c" stroke-width="7.8"/>
<path d="M1463.7 2998.9 L1443.7 2975.7" stroke="#ff1010" stroke-width="7.8"/>
<path d="M1501.7 2948.9 L1463.7 2998.9" stroke="#0b0b0b" stroke-width="12.2"/>
<path d="M1501.7 2948.9 L1482.7 2973.9" stroke="#0e8020" stroke-width="7.8"/>
<path d="M1485.3 2970.4 L1482.7 2973.9" stroke="#22b23c" stroke-width="7.8"/>
<path d="M1463.7 2998.9 L1482.7 2973.9" stroke="#ff1010" stroke-width="7.8"/>
<path d="M1501.7 2948.9 L1541.4 2995.3" stroke="#0b0b0b" stroke-width="12.2"/>
<path d="M1501.7 2948.9 L1521.5 2972.1" stroke="#0e8020" stroke-width="7.8"/>
<path d="M1518.7 2968.9 L1521.5 2972.1" stroke="#22b23c" stroke-width="7.8"/>
<path d="M1541.4 2995.3 L1521.5 2972.1" stroke="#ff1010" stroke-width="7.8"/>
<path d="M1613.3 2948.9 L1574.9 2998.9" stroke="#0b0b0b" stroke-width="12.2"/>
<path d="M1613.3 2948.9 L1594.1 2973.9" stroke="#0e8020" stroke-width="7.8"/>
<path d="M1596.8 2970.4 L1594.1 2973.9" stroke="#22b23c" stroke-width="7.8"/>
<path d="M1574.9 2998.9 L1594.1 2973.9" stroke="#ff1010" stroke-width="7.8"/>
<path d="M1353.1 2998.9 L1408.9 3047.4" stroke="#0b0b0b" stroke-width="12.2"/>
<path d="M1353.1 2998.9 L1381.0 3023.2" stroke="#ff1010" stroke-width="7.8"/>
<path d="M1408.9 3047.4 L1381.0 3023.2" stroke="#0e8020" stroke-width="7.8"/>
<path d="M1384.9 3026.6 L1381.0 3023.2" stroke="#22b23c" stroke-width="7.8"/>
<path d="M1463.7 2998.9 L1408.9 3047.4" stroke="#0b0b0b" stroke-width="12.2"/>
<path d="M1463.7 2998.9 L1436.3 3023.2" stroke="#ff1010" stroke-width="7.8"/>
<path d="M1408.9 3047.4 L1436.3 3023.2" stroke="#0e8020" stroke-width="7.8"/>
<path d="M1432.5 3026.6 L1436.3 3023.2" stroke="#22b23c" stroke-width="7.8"/>
<path d="M1463.7 2998.9 L1519.7 3047.4" stroke="#0b0b0b" stroke-width="12.2"/>
<path d="M1463.7 2998.9 L1491.7 3023.2" stroke="#ff1010" stroke-width="7.8"/>
<path d="M1519.7 3047.4 L1491.7 3023.2" stroke="#0e8020" stroke-width="7.8"/>
<path d="M1495.6 3026.6 L1491.7 3023.2" stroke="#22b23c" stroke-width="7.8"/>
<path d="M1574.9 2998.9 L1519.7 3047.4" stroke="#0b0b0b" stroke-width="12.2"/>
<path d="M1574.9 2998.9 L1547.3 3023.2" stroke="#ff1010" stroke-width="7.8"/>
<path d="M1519.7 3047.4 L1547.3 3023.2" stroke="#0e8020" stroke-width="7.8"/>
<path d="M1543.4 3026.6 L1547.3 3023.2" stroke="#22b23c" stroke-width="7.8"/>
<circle cx="1405.4" cy="2855.2" r="9.5" fill="url(#gg)"/>
<circle cx="1517.3" cy="2853.8" r="9.5" fill="url(#gr)"/>
<circle cx="1423.8" cy="2952.6" r="9.5" fill="url(#gg)"/>
<circle cx="1501.7" cy="2948.9" r="9.5" fill="url(#gg)"/>
<circle cx="1460.7" cy="2806.0" r="9.5" fill="url(#gr)"/>
<circle cx="1538.4" cy="2801.6" r="9.5" fill="url(#gr)"/>
<circle cx="1367.8" cy="2904.6" r="9.5" fill="url(#gr)"/>
<circle cx="1445.3" cy="2900.6" r="9.5" fill="url(#gr)"/>
<circle cx="1556.9" cy="2900.6" r="9.5" fill="url(#gr)"/>
<circle cx="1353.1" cy="2998.9" r="9.5" fill="url(#gr)"/>
<circle cx="1463.7" cy="2998.9" r="9.5" fill="url(#gr)"/>
<circle cx="1420.9" cy="2759.6" r="10.7" fill="url(#gg)"/>
<circle cx="1498.7" cy="2756.0" r="10.7" fill="url(#gg)"/>
<circle cx="1327.9" cy="2858.1" r="10.7" fill="url(#gg)"/>
<circle cx="1482.6" cy="2850.2" r="10.7" fill="url(#gg)"/>
<circle cx="1594.2" cy="2850.2" r="10.7" fill="url(#gg)"/>
<circle cx="1312.8" cy="2952.6" r="10.7" fill="url(#gg)"/>
<circle cx="1390.9" cy="2948.2" r="10.7" fill="url(#gg)"/>
<circle cx="1613.3" cy="2948.9" r="10.7" fill="url(#gg)"/>
<circle cx="1408.9" cy="3047.4" r="10.7" fill="url(#gg)"/>
<circle cx="1519.7" cy="3047.4" r="10.7" fill="url(#gg)"/>
<circle cx="1349.0" cy="2806.0" r="10.7" fill="url(#gr)"/>
<circle cx="1382.5" cy="2810.3" r="10.7" fill="url(#gr)"/>
<circle cx="1571.8" cy="2806.0" r="10.7" fill="url(#gr)"/>
<circle cx="1479.1" cy="2904.6" r="10.7" fill="url(#gr)"/>
<circle cx="1386.6" cy="3003.2" r="10.7" fill="url(#gr)"/>
<circle cx="1541.4" cy="2995.3" r="10.7" fill="url(#gr)"/>
<circle cx="1574.9" cy="2998.9" r="10.7" fill="url(#gr)"/>
</g>
<text x="1106.8" y="60.9" class="pl">(b)</text>
<clipPath id="cpb"><rect x="1290" y="20" width="721" height="640"/></clipPath><g clip-path="url(#cpb)"><g stroke-linecap="butt" filter="url(#bl2)">
<circle cx="1533.2" cy="248.3" r="25.0" fill="#0b0b0b"/>
<circle cx="1700.9" cy="238.9" r="28.5" fill="#0b0b0b"/>
<circle cx="1943.5" cy="238.9" r="28.5" fill="#0b0b0b"/>
<circle cx="1501.6" cy="421.3" r="28.5" fill="#0b0b0b"/>
<circle cx="1410.5" cy="156.7" r="28.5" fill="#0b0b0b"/>
<circle cx="1822.2" cy="148.6" r="25.0" fill="#0b0b0b"/>
<circle cx="1619.8" cy="332.8" r="25.0" fill="#0b0b0b"/>
<path d="M1410.5 156.7 L1533.2 248.3" stroke="#0b0b0b" stroke-width="24.5"/>
<path d="M1410.5 156.7 L1471.8 202.5" stroke="#ff1010" stroke-width="16.5"/>
<path d="M1533.2 248.3 L1471.8 202.5" stroke="#0e8020" stroke-width="16.5"/>
<path d="M1480.4 208.9 L1471.8 202.5" stroke="#22b23c" stroke-width="16.5"/>
<path d="M1822.2 148.6 L1700.9 238.9" stroke="#0b0b0b" stroke-width="24.5"/>
<path d="M1822.2 148.6 L1761.6 193.8" stroke="#ff1010" stroke-width="16.5"/>
<path d="M1700.9 238.9 L1761.6 193.8" stroke="#0e8020" stroke-width="16.5"/>
<path d="M1753.1 200.1 L1761.6 193.8" stroke="#22b23c" stroke-width="16.5"/>
<path d="M1822.2 148.6 L1943.5 238.9" stroke="#0b0b0b" stroke-width="24.5"/>
<path d="M1822.2 148.6 L1882.8 193.8" stroke="#ff1010" stroke-width="16.5"/>
<path d="M1943.5 238.9 L1882.8 193.8" stroke="#0e8020" stroke-width="16.5"/>
<path d="M1891.3 200.1 L1882.8 193.8" stroke="#22b23c" stroke-width="16.5"/>
<path d="M1619.8 332.8 L1501.6 421.3" stroke="#0b0b0b" stroke-width="24.5"/>
<path d="M1619.8 332.8 L1560.7 377.1" stroke="#ff1010" stroke-width="16.5"/>
<path d="M1501.6 421.3 L1560.7 377.1" stroke="#0e8020" stroke-width="16.5"/>
<path d="M1552.4 383.2 L1560.7 377.1" stroke="#22b23c" stroke-width="16.5"/>
<circle cx="1566.8" cy="70.4" r="28.5" fill="#0b0b0b"/>
<circle cx="1735.9" cy="63.7" r="28.5" fill="#0b0b0b"/>
<circle cx="1364.7" cy="253.7" r="28.5" fill="#0b0b0b"/>
<circle cx="1776.3" cy="245.6" r="25.0" fill="#0b0b0b"/>
<circle cx="1331.8" cy="429.4" r="28.5" fill="#0b0b0b"/>
<circle cx="1573.0" cy="429.4" r="25.0" fill="#0b0b0b"/>
<circle cx="1742.4" cy="422.6" r="25.0" fill="#0b0b0b"/>
<circle cx="1985.0" cy="422.6" r="28.5" fill="#0b0b0b"/>
<circle cx="1540.7" cy="605.9" r="28.5" fill="#0b0b0b"/>
<circle cx="1781.5" cy="605.9" r="28.5" fill="#0b0b0b"/>
<circle cx="1483.3" cy="164.8" r="28.5" fill="#0b0b0b"/>
<circle cx="1653.4" cy="156.7" r="25.0" fill="#0b0b0b"/>
<circle cx="1894.9" cy="156.7" r="28.5" fill="#0b0b0b"/>
<circle cx="1451.3" cy="340.2" r="25.0" fill="#0b0b0b"/>
<circle cx="1693.4" cy="340.2" r="28.5" fill="#0b0b0b"/>
<circle cx="1862.5" cy="332.8" r="25.0" fill="#0b0b0b"/>
<circle cx="1419.4" cy="515.6" r="25.0" fill="#0b0b0b"/>
<circle cx="1492.2" cy="523.7" r="28.5" fill="#0b0b0b"/>
<circle cx="1659.8" cy="515.6" r="25.0" fill="#0b0b0b"/>
<circle cx="1828.7" cy="508.9" r="28.5" fill="#0b0b0b"/>
<circle cx="1901.5" cy="515.6" r="28.5" fill="#0b0b0b"/>
<path d="M1566.8 70.4 L1483.3 164.8" stroke="#0b0b0b" stroke-width="24.5"/>
<path d="M1566.8 70.4 L1525.0 117.6" stroke="#0e8020" stroke-width="16.5"/>
<path d="M1530.9 111.0 L1525.0 117.6" stroke="#22b23c" stroke-width="16.5"/>
<path d="M1483.3 164.8 L1525.0 117.6" stroke="#ff1010" stroke-width="16.5"/>
<path d="M1566.8 70.4 L1653.4 156.7" stroke="#0b0b0b" stroke-width="24.5"/>
<path d="M1566.8 70.4 L1610.1 113.5" stroke="#0e8020" stroke-width="16.5"/>
<path d="M1604.0 107.5 L1610.1 113.5" stroke="#22b23c" stroke-width="16.5"/>
<path d="M1653.4 156.7 L1610.1 113.5" stroke="#ff1010" stroke-width="16.5"/>
<path d="M1735.9 63.7 L1653.4 156.7" stroke="#0b0b0b" stroke-width="24.5"/>
<path d="M1735.9 63.7 L1694.7 110.2" stroke="#0e8020" stroke-width="16.5"/>
<path d="M1700.4 103.7 L1694.7 110.2" stroke="#22b23c" stroke-width="16.5"/>
<path d="M1653.4 156.7 L1694.7 110.2" stroke="#ff1010" stroke-width="16.5"/>
<path d="M1735.9 63.7 L1822.2 148.6" stroke="#0b0b0b" stroke-width="24.5"/>
<path d="M1735.9 63.7 L1779.1 106.2" stroke="#0e8020" stroke-width="16.5"/>
<path d="M1773.0 100.2 L1779.1 106.2" stroke="#22b23c" stroke-width="16.5"/>
<path d="M1822.2 148.6 L1779.1 106.2" stroke="#ff1010" stroke-width="16.5"/>
<path d="M1483.3 164.8 L1364.7 253.7" stroke="#0b0b0b" stroke-width="24.5"/>
<path d="M1483.3 164.8 L1424.0 209.2" stroke="#ff1010" stroke-width="16.5"/>
<path d="M1364.7 253.7 L1424.0 209.2" stroke="#0e8020" stroke-width="16.5"/>
<path d="M1415.7 215.5 L1424.0 209.2" stroke="#22b23c" stroke-width="16.5"/>
<path d="M1653.4 156.7 L1533.2 248.3" stroke="#0b0b0b" stroke-width="24.5"/>
<path d="M1653.4 156.7 L1593.3 202.5" stroke="#ff1010" stroke-width="16.5"/>
<path d="M1533.2 248.3 L1593.3 202.5" stroke="#0e8020" stroke-width="16.5"/>
<path d="M1584.9 208.9 L1593.3 202.5" stroke="#22b23c" stroke-width="16.5"/>
<path d="M1653.4 156.7 L1776.3 245.6" stroke="#0b0b0b" stroke-width="24.5"/>
<path d="M1653.4 156.7 L1714.8 201.1" stroke="#ff1010" stroke-width="16.5"/>
<path d="M1776.3 245.6 L1714.8 201.1" stroke="#0e8020" stroke-width="16.5"/>
<path d="M1723.5 207.4 L1714.8 201.1" stroke="#22b23c" stroke-width="16.5"/>
<path d="M1894.9 156.7 L1776.3 245.6" stroke="#0b0b0b" stroke-width="24.5"/>
<path d="M1894.9 156.7 L1835.6 201.1" stroke="#ff1010" stroke-width="16.5"/>
<path d="M1776.3 245.6 L1835.6 201.1" stroke="#0e8020" stroke-width="16.5"/>
<path d="M1827.3 207.4 L1835.6 201.1" stroke="#22b23c" stroke-width="16.5"/>
<path d="M1364.7 253.7 L1451.3 340.2" stroke="#0b0b0b" stroke-width="24.5"/>
<path d="M1364.7 253.7 L1408.0 296.9" stroke="#0e8020" stroke-width="16.5"/>
<path d="M1401.9 290.9 L1408.0 296.9" stroke="#22b23c" stroke-width="16.5"/>
<path d="M1451.3 340.2 L1408.0 296.9" stroke="#ff1010" stroke-width="16.5"/>
<path d="M1533.2 248.3 L1451.3 340.2" stroke="#0b0b0b" stroke-width="24.5"/>
<path d="M1533.2 248.3 L1492.2 294.2" stroke="#0e8020" stroke-width="16.5"/>
<path d="M1498.0 287.8 L1492.2 294.2" stroke="#22b23c" stroke-width="16.5"/>
<path d="M1451.3 340.2 L1492.2 294.2" stroke="#ff1010" stroke-width="16.5"/>
<path d="M1533.2 248.3 L1619.8 332.8" stroke="#0b0b0b" stroke-width="24.5"/>
<path d="M1533.2 248.3 L1576.5 290.6" stroke="#0e8020" stroke-width="16.5"/>
<path d="M1570.4 284.6 L1576.5 290.6" stroke="#22b23c" stroke-width="16.5"/>
<path d="M1619.8 332.8 L1576.5 290.6" stroke="#ff1010" stroke-width="16.5"/>
<path d="M1700.9 238.9 L1619.8 332.8" stroke="#0b0b0b" stroke-width="24.5"/>
<path d="M1700.9 238.9 L1660.3 285.9" stroke="#0e8020" stroke-width="16.5"/>
<path d="M1666.0 279.3 L1660.3 285.9" stroke="#22b23c" stroke-width="16.5"/>
<path d="M1619.8 332.8 L1660.3 285.9" stroke="#ff1010" stroke-width="16.5"/>
<path d="M1776.3 245.6 L1693.4 340.2" stroke="#0b0b0b" stroke-width="24.5"/>
<path d="M1776.3 245.6 L1734.8 292.9" stroke="#0e8020" stroke-width="16.5"/>
<path d="M1740.7 286.3 L1734.8 292.9" stroke="#22b23c" stroke-width="16.5"/>
<path d="M1693.4 340.2 L1734.8 292.9" stroke="#ff1010" stroke-width="16.5"/>
<path d="M1776.3 245.6 L1862.5 332.8" stroke="#0b0b0b" stroke-width="24.5"/>
<path d="M1776.3 245.6 L1819.4 289.2" stroke="#0e8020" stroke-width="16.5"/>
<path d="M1813.4 283.1 L1819.4 289.2" stroke="#22b23c" stroke-width="16.5"/>
<path d="M1862.5 332.8 L1819.4 289.2" stroke="#ff1010" stroke-width="16.5"/>
<path d="M1943.5 238.9 L1862.5 332.8" stroke="#0b0b0b" stroke-width="24.5"/>
<path d="M1943.5 238.9 L1903.0 285.9" stroke="#0e8020" stroke-width="16.5"/>
<path d="M1908.7 279.3 L1903.0 285.9" stroke="#22b23c" stroke-width="16.5"/>
<path d="M1862.5 332.8 L1903.0 285.9" stroke="#ff1010" stroke-width="16.5"/>
<path d="M1451.3 340.2 L1331.8 429.4" stroke="#0b0b0b" stroke-width="24.5"/>
<path d="M1451.3 340.2 L1391.5 384.8" stroke="#ff1010" stroke-width="16.5"/>
<path d="M1331.8 429.4 L1391.5 384.8" stroke="#0e8020" stroke-width="16.5"/>
<path d="M1383.2 391.0 L1391.5 384.8" stroke="#22b23c" stroke-width="16.5"/>
<path d="M1451.3 340.2 L1573.0 429.4" stroke="#0b0b0b" stroke-width="24.5"/>
<path d="M1451.3 340.2 L1512.2 384.8" stroke="#ff1010" stroke-width="16.5"/>
<path d="M1573.0 429.4 L1512.2 384.8" stroke="#0e8020" stroke-width="16.5"/>
<path d="M1520.7 391.0 L1512.2 384.8" stroke="#22b23c" stroke-width="16.5"/>
<path d="M1619.8 332.8 L1742.4 422.6" stroke="#0b0b0b" stroke-width="24.5"/>
<path d="M1619.8 332.8 L1681.1 377.7" stroke="#ff1010" stroke-width="16.5"/>
<path d="M1742.4 422.6 L1681.1 377.7" stroke="#0e8020" stroke-width="16.5"/>
<path d="M1689.7 384.0 L1681.1 377.7" stroke="#22b23c" stroke-width="16.5"/>
<path d="M1693.4 340.2 L1573.0 429.4" stroke="#0b0b0b" stroke-width="24.5"/>
<path d="M1693.4 340.2 L1633.2 384.8" stroke="#ff1010" stroke-width="16.5"/>
<path d="M1573.0 429.4 L1633.2 384.8" stroke="#0e8020" stroke-width="16.5"/>
<path d="M1624.8 391.0 L1633.2 384.8" stroke="#22b23c" stroke-width="16.5"/>
<path d="M1862.5 332.8 L1742.4 422.6" stroke="#0b0b0b" stroke-width="24.5"/>
<path d="M1862.5 332.8 L1802.5 377.7" stroke="#ff1010" stroke-width="16.5"/>
<path d="M1742.4 422.6 L1802.5 377.7" stroke="#0e8020" stroke-width="16.5"/>
<path d="M1794.0 384.0 L1802.5 377.7" stroke="#22b23c" stroke-width="16.5"/>
<path d="M1862.5 332.8 L1985.0 422.6" stroke="#0b0b0b" stroke-width="24.5"/>
<path d="M1862.5 332.8 L1923.8 377.7" stroke="#ff1010" stroke-width="16.5"/>
<path d="M1985.0 422.6 L1923.8 377.7" stroke="#0e8020" stroke-width="16.5"/>
<path d="M1932.3 384.0 L1923.8 377.7" stroke="#22b23c" stroke-width="16.5"/>
<path d="M1331.8 429.4 L1419.4 515.6" stroke="#0b0b0b" stroke-width="24.5"/>
<path d="M1331.8 429.4 L1375.6 472.5" stroke="#0e8020" stroke-width="16.5"/>
<path d="M1369.5 466.5 L1375.6 472.5" stroke="#22b23c" stroke-width="16.5"/>
<path d="M1419.4 515.6 L1375.6 472.5" stroke="#ff1010" stroke-width="16.5"/>
<path d="M1501.6 421.3 L1419.4 515.6" stroke="#0b0b0b" stroke-width="24.5"/>
<path d="M1501.6 421.3 L1460.5 468.5" stroke="#0e8020" stroke-width="16.5"/>
<path d="M1466.3 461.8 L1460.5 468.5" stroke="#22b23c" stroke-width="16.5"/>
<path d="M1419.4 515.6 L1460.5 468.5" stroke="#ff1010" stroke-width="16.5"/>
<path d="M1573.0 429.4 L1492.2 523.7" stroke="#0b0b0b" stroke-width="24.5"/>
<path d="M1573.0 429.4 L1532.6 476.6" stroke="#0e8020" stroke-width="16.5"/>
<path d="M1538.3 469.9 L1532.6 476.6" stroke="#22b23c" stroke-width="16.5"/>
<path d="M1492.2 523.7 L1532.6 476.6" stroke="#ff1010" stroke-width="16.5"/>
<path d="M1573.0 429.4 L1659.8 515.6" stroke="#0b0b0b" stroke-width="24.5"/>
<path d="M1573.0 429.4 L1616.4 472.5" stroke="#0e8020" stroke-width="16.5"/>
<path d="M1610.3 466.5 L1616.4 472.5" stroke="#22b23c" stroke-width="16.5"/>
<path d="M1659.8 515.6 L1616.4 472.5" stroke="#ff1010" stroke-width="16.5"/>
<path d="M1742.4 422.6 L1659.8 515.6" stroke="#0b0b0b" stroke-width="24.5"/>
<path d="M1742.4 422.6 L1701.1 469.1" stroke="#0e8020" stroke-width="16.5"/>
<path d="M1706.9 462.6 L1701.1 469.1" stroke="#22b23c" stroke-width="16.5"/>
<path d="M1659.8 515.6 L1701.1 469.1" stroke="#ff1010" stroke-width="16.5"/>
<path d="M1742.4 422.6 L1828.7 508.9" stroke="#0b0b0b" stroke-width="24.5"/>
<path d="M1742.4 422.6 L1785.6 465.8" stroke="#0e8020" stroke-width="16.5"/>
<path d="M1779.5 459.7 L1785.6 465.8" stroke="#22b23c" stroke-width="16.5"/>
<path d="M1828.7 508.9 L1785.6 465.8" stroke="#ff1010" stroke-width="16.5"/>
<path d="M1985.0 422.6 L1901.5 515.6" stroke="#0b0b0b" stroke-width="24.5"/>
<path d="M1985.0 422.6 L1943.2 469.1" stroke="#0e8020" stroke-width="16.5"/>
<path d="M1949.1 462.6 L1943.2 469.1" stroke="#22b23c" stroke-width="16.5"/>
<path d="M1901.5 515.6 L1943.2 469.1" stroke="#ff1010" stroke-width="16.5"/>
<path d="M1419.4 515.6 L1540.7 605.9" stroke="#0b0b0b" stroke-width="24.5"/>
<path d="M1419.4 515.6 L1480.1 560.8" stroke="#ff1010" stroke-width="16.5"/>
<path d="M1540.7 605.9 L1480.1 560.8" stroke="#0e8020" stroke-width="16.5"/>
<path d="M1488.5 567.1 L1480.1 560.8" stroke="#22b23c" stroke-width="16.5"/>
<path d="M1659.8 515.6 L1540.7 605.9" stroke="#0b0b0b" stroke-width="24.5"/>
<path d="M1659.8 515.6 L1600.2 560.8" stroke="#ff1010" stroke-width="16.5"/>
<path d="M1540.7 605.9 L1600.2 560.8" stroke="#0e8020" stroke-width="16.5"/>
<path d="M1591.9 567.1 L1600.2 560.8" stroke="#22b23c" stroke-width="16.5"/>
<path d="M1659.8 515.6 L1781.5 605.9" stroke="#0b0b0b" stroke-width="24.5"/>
<path d="M1659.8 515.6 L1720.7 560.8" stroke="#ff1010" stroke-width="16.5"/>
<path d="M1781.5 605.9 L1720.7 560.8" stroke="#0e8020" stroke-width="16.5"/>
<path d="M1729.2 567.1 L1720.7 560.8" stroke="#22b23c" stroke-width="16.5"/>
<path d="M1901.5 515.6 L1781.5 605.9" stroke="#0b0b0b" stroke-width="24.5"/>
<path d="M1901.5 515.6 L1841.5 560.8" stroke="#ff1010" stroke-width="16.5"/>
<path d="M1781.5 605.9 L1841.5 560.8" stroke="#0e8020" stroke-width="16.5"/>
<path d="M1833.1 567.1 L1841.5 560.8" stroke="#22b23c" stroke-width="16.5"/>
<circle cx="1533.2" cy="248.3" r="21.0" fill="url(#gg)"/>
<circle cx="1776.3" cy="245.6" r="21.0" fill="url(#gg)"/>
<circle cx="1573.0" cy="429.4" r="21.0" fill="url(#gg)"/>
<circle cx="1742.4" cy="422.6" r="21.0" fill="url(#gg)"/>
<circle cx="1653.4" cy="156.7" r="21.0" fill="url(#gr)"/>
<circle cx="1822.2" cy="148.6" r="21.0" fill="url(#gr)"/>
<circle cx="1451.3" cy="340.2" r="21.0" fill="url(#gr)"/>
<circle cx="1619.8" cy="332.8" r="21.0" fill="url(#gr)"/>
<circle cx="1862.5" cy="332.8" r="21.0" fill="url(#gr)"/>
<circle cx="1419.4" cy="515.6" r="21.0" fill="url(#gr)"/>
<circle cx="1659.8" cy="515.6" r="21.0" fill="url(#gr)"/>
<circle cx="1566.8" cy="70.4" r="24.5" fill="url(#gg)"/>
<circle cx="1735.9" cy="63.7" r="24.5" fill="url(#gg)"/>
<circle cx="1364.7" cy="253.7" r="24.5" fill="url(#gg)"/>
<circle cx="1700.9" cy="238.9" r="24.5" fill="url(#gg)"/>
<circle cx="1943.5" cy="238.9" r="24.5" fill="url(#gg)"/>
<circle cx="1331.8" cy="429.4" r="24.5" fill="url(#gg)"/>
<circle cx="1501.6" cy="421.3" r="24.5" fill="url(#gg)"/>
<circle cx="1985.0" cy="422.6" r="24.5" fill="url(#gg)"/>
<circle cx="1540.7" cy="605.9" r="24.5" fill="url(#gg)"/>
<circle cx="1781.5" cy="605.9" r="24.5" fill="url(#gg)"/>
<circle cx="1410.5" cy="156.7" r="24.5" fill="url(#gr)"/>
<circle cx="1483.3" cy="164.8" r="24.5" fill="url(#gr)"/>
<circle cx="1894.9" cy="156.7" r="24.5" fill="url(#gr)"/>
<circle cx="1693.4" cy="340.2" r="24.5" fill="url(#gr)"/>
<circle cx="1492.2" cy="523.7" r="24.5" fill="url(#gr)"/>
<circle cx="1828.7" cy="508.9" r="24.5" fill="url(#gr)"/>
<circle cx="1901.5" cy="515.6" r="24.5" fill="url(#gr)"/>
</g></g>
</svg>
</body></html>
